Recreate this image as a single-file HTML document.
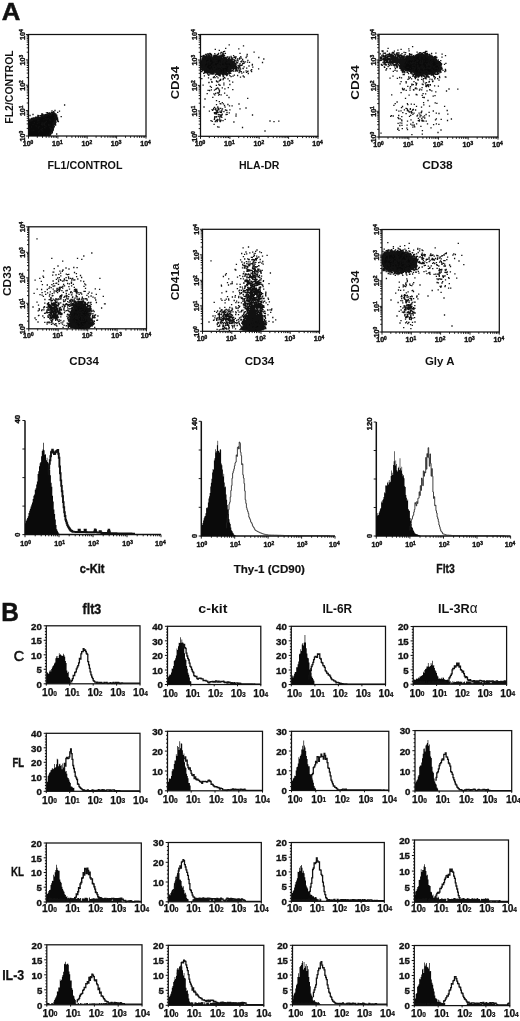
<!DOCTYPE html>
<html lang="en"><head><meta charset="utf-8"><title>Figure</title>
<style>html,body{margin:0;padding:0;background:#fff}svg{display:block;filter:grayscale(1) blur(.3px)}</style>
</head><body>
<svg width="520" height="1021" viewBox="0 0 520 1021" font-family="'Liberation Sans',sans-serif" fill="#111">
<rect width="520" height="1021" fill="#fff"/>
<text x="1.8" y="20.3" font-size="24.4" text-anchor="start" font-weight="bold" textLength="18.6" lengthAdjust="spacingAndGlyphs" stroke="#111" stroke-width=".5">A</text>
<text x="1.2" y="620.7" font-size="25" text-anchor="start" font-weight="bold" textLength="17.6" lengthAdjust="spacingAndGlyphs" stroke="#111" stroke-width=".5">B</text>
<clipPath id="cP1"><rect x="28.5" y="34.5" width="117.5" height="101.5"/></clipPath>
<clipPath id="cP2"><rect x="200.5" y="34.5" width="117.5" height="101.8"/></clipPath>
<clipPath id="cP3"><rect x="379" y="34.3" width="119" height="102.7"/></clipPath>
<clipPath id="cP4"><rect x="28.8" y="226.8" width="117.7" height="102"/></clipPath>
<clipPath id="cP5"><rect x="202.5" y="229.3" width="117" height="102"/></clipPath>
<clipPath id="cP6"><rect x="382" y="229.5" width="117.3" height="102.5"/></clipPath>
<rect x="28.5" y="34.5" width="117.5" height="101.5" fill="none" stroke="#111" stroke-width="1.25"/>
<path d="M28.5 136v2.6M37.3 136v1.8M42.5 136v1.8M46.2 136v1.8M49 136v1.8M51.4 136v1.8M53.3 136v1.8M55 136v1.8M56.5 136v1.8M57.9 136v2.6M66.7 136v1.8M71.9 136v1.8M75.6 136v1.8M78.4 136v1.8M80.7 136v1.8M82.7 136v1.8M84.4 136v1.8M85.9 136v1.8M87.2 136v2.6M96.1 136v1.8M101.3 136v1.8M104.9 136v1.8M107.8 136v1.8M110.1 136v1.8M112.1 136v1.8M113.8 136v1.8M115.3 136v1.8M116.6 136v2.6M125.5 136v1.8M130.6 136v1.8M134.3 136v1.8M137.2 136v1.8M139.5 136v1.8M141.4 136v1.8M143.2 136v1.8M144.7 136v1.8M146 136v2.6M28.5 136h-2.6M28.5 128.4h-1.8M28.5 123.9h-1.8M28.5 120.7h-1.8M28.5 118.3h-1.8M28.5 116.3h-1.8M28.5 114.6h-1.8M28.5 113.1h-1.8M28.5 111.8h-1.8M28.5 110.6h-2.6M28.5 103h-1.8M28.5 98.5h-1.8M28.5 95.3h-1.8M28.5 92.9h-1.8M28.5 90.9h-1.8M28.5 89.2h-1.8M28.5 87.7h-1.8M28.5 86.4h-1.8M28.5 85.2h-2.6M28.5 77.6h-1.8M28.5 73.1h-1.8M28.5 70h-1.8M28.5 67.5h-1.8M28.5 65.5h-1.8M28.5 63.8h-1.8M28.5 62.3h-1.8M28.5 61h-1.8M28.5 59.9h-2.6M28.5 52.2h-1.8M28.5 47.8h-1.8M28.5 44.6h-1.8M28.5 42.1h-1.8M28.5 40.1h-1.8M28.5 38.4h-1.8M28.5 37h-1.8M28.5 35.7h-1.8M28.5 34.5h-2.6" stroke="#111" stroke-width=".95" fill="none"/>
<text x="28" y="145.6" font-size="7.4" font-weight="bold" text-anchor="middle" stroke="#111" stroke-width=".4" textLength="10.6" lengthAdjust="spacingAndGlyphs">10<tspan font-size="5" dy="-2">0</tspan></text>
<text x="25.1" y="136.2" font-size="7.4" font-weight="bold" text-anchor="middle" stroke="#111" stroke-width=".4" textLength="10.6" lengthAdjust="spacingAndGlyphs" transform="rotate(-90 25.1 136.2)">10<tspan font-size="5" dy="-2">0</tspan></text>
<text x="57.4" y="145.6" font-size="7.4" font-weight="bold" text-anchor="middle" stroke="#111" stroke-width=".4" textLength="10.6" lengthAdjust="spacingAndGlyphs">10<tspan font-size="5" dy="-2">1</tspan></text>
<text x="25.1" y="110.8" font-size="7.4" font-weight="bold" text-anchor="middle" stroke="#111" stroke-width=".4" textLength="10.6" lengthAdjust="spacingAndGlyphs" transform="rotate(-90 25.1 110.8)">10<tspan font-size="5" dy="-2">1</tspan></text>
<text x="86.8" y="145.6" font-size="7.4" font-weight="bold" text-anchor="middle" stroke="#111" stroke-width=".4" textLength="10.6" lengthAdjust="spacingAndGlyphs">10<tspan font-size="5" dy="-2">2</tspan></text>
<text x="25.1" y="85.5" font-size="7.4" font-weight="bold" text-anchor="middle" stroke="#111" stroke-width=".4" textLength="10.6" lengthAdjust="spacingAndGlyphs" transform="rotate(-90 25.1 85.5)">10<tspan font-size="5" dy="-2">2</tspan></text>
<text x="116.1" y="145.6" font-size="7.4" font-weight="bold" text-anchor="middle" stroke="#111" stroke-width=".4" textLength="10.6" lengthAdjust="spacingAndGlyphs">10<tspan font-size="5" dy="-2">3</tspan></text>
<text x="25.1" y="60.1" font-size="7.4" font-weight="bold" text-anchor="middle" stroke="#111" stroke-width=".4" textLength="10.6" lengthAdjust="spacingAndGlyphs" transform="rotate(-90 25.1 60.1)">10<tspan font-size="5" dy="-2">3</tspan></text>
<text x="145.5" y="145.6" font-size="7.4" font-weight="bold" text-anchor="middle" stroke="#111" stroke-width=".4" textLength="10.6" lengthAdjust="spacingAndGlyphs">10<tspan font-size="5" dy="-2">4</tspan></text>
<text x="25.1" y="34.7" font-size="7.4" font-weight="bold" text-anchor="middle" stroke="#111" stroke-width=".4" textLength="10.6" lengthAdjust="spacingAndGlyphs" transform="rotate(-90 25.1 34.7)">10<tspan font-size="5" dy="-2">4</tspan></text>
<path d="M28.5 120.6L31.4 119.4L34 118.6L37.7 117.2L42.1 116.3L45.6 114.6L49.6 113.9L53.7 112.5L55.9 115L56 118.1L54.9 121.5L54.2 125.6L52.7 129.7L51.3 133.5L50.4 136.3L28.5 136.1Z" fill="#0a0a0a" clip-path="url(#cP1)"/>
<path d="M56 116.6h.01M36.4 118.1h.01M57 119h.01M29.3 120.2h.01M51.1 133.6h.01M52.7 113.2h.01M53.3 122.5h.01M43.2 116h.01M53.7 111.7h.01M52 130.4h.01M57 117.5h.01M38.4 117.9h.01M30.4 120.2h.01M34.6 119.6h.01M29.6 120.5h.01M43.4 116.9h.01M49.5 113h.01M50.8 132.5h.01M37.6 117.1h.01M52.8 129.7h.01M57.4 118.9h.01M41.5 115.3h.01M35.5 117.9h.01M31.2 120h.01M43 116.8h.01M54.1 123.2h.01M45 114.9h.01M53.3 128.5h.01M35.7 117.2h.01M33 118.1h.01M45.5 114.6h.01M30 119h.01M52.5 131.2h.01M38 117.6h.01M54.5 122h.01M29.5 120.3h.01M38.5 115.6h.01M55.6 118.1h.01M51.7 112.5h.01M54.6 116.2h.01M52.4 113.4h.01M55.2 122.9h.01M33.9 118.6h.01M44.3 114.9h.01M49.8 134.4h.01M33 119.6h.01M29.9 120.1h.01M56.1 115.9h.01M38.9 116h.01M52.5 129.1h.01M31.8 120h.01M47.6 112.6h.01M36.1 117.5h.01M39.3 135h.01M51.4 131h.01M54.3 122.9h.01M40.4 115.7h.01M55.5 119.3h.01M30.2 120.6h.01M36.5 118.2h.01M45.5 115.5h.01M35.8 117.9h.01M48.3 113.4h.01M56.8 119.9h.01M51.5 114.3h.01M56.2 117.7h.01M32.3 120.2h.01M52.4 131.7h.01M37.5 118h.01M55.3 114.3h.01M32.2 120.5h.01M54.9 120.1h.01M38.5 116h.01M55.4 115.7h.01M48.4 113.5h.01M52.4 112.3h.01M42.9 114.4h.01M46.1 116h.01M52.9 113.2h.01M54.7 113.3h.01M41.8 114.9h.01M37.9 115.4h.01M52.7 126h.01M52.7 112.8h.01M49.9 113.8h.01M31.6 119h.01M38.2 117.1h.01M50.4 134.9h.01M34 119.5h.01M53.8 127.7h.01M30.7 121h.01M52.3 132.9h.01M54.3 126.5h.01M47.4 115h.01M53.1 128h.01M45.4 115.3h.01M32.8 119.4h.01M33.1 118.8h.01M54.3 122.7h.01M36.6 118.1h.01M41.2 116.5h.01M40.9 117.3h.01M33.3 118.7h.01M56.7 115.2h.01M48.1 135.2h.01M33.2 118.8h.01M48 113.7h.01M55.3 120.5h.01M55.2 120.2h.01M54.4 113.4h.01M52.3 130.7h.01M55.5 121.3h.01M41.7 115.5h.01M55.9 114.7h.01M41.4 116.5h.01M50.3 128.3h.01M55.2 121h.01M54.6 120.2h.01M55.7 115.7h.01M52.2 112.5h.01M54.5 113.3h.01M33.7 118.9h.01M31.1 120.4h.01M37.2 117.3h.01M54.4 114.7h.01M50.6 113.5h.01M35.6 118h.01M51.4 112.5h.01M42 113.7h.01M54.8 121.2h.01M47.1 114.6h.01M55.7 122.3h.01M35.2 117.7h.01M55.1 123.2h.01M55.6 123.8h.01M56.1 115.7h.01M56 122.1h.01M54 112.6h.01M52.3 130.7h.01M51.5 128.5h.01M46.4 112.8h.01M55.1 121.1h.01M49 114h.01M49.9 133.2h.01M35.2 118.5h.01M54.5 121.5h.01M53.8 125.1h.01M53.4 124.3h.01M37.3 117.2h.01M53.4 127.7h.01M30.1 120h.01M43.6 116.8h.01M46.1 115h.01M56.6 118.3h.01M40 118.4h.01M34.3 118.9h.01M32.5 119.8h.01M54.1 114.2h.01M56.2 119.9h.01M54.3 117.6h.01M35.8 118.2h.01M44.2 115.6h.01M57.6 118.1h.01M31.8 119h.01M54.9 114h.01M49.8 115.4h.01M45 115.2h.01M31.8 119.2h.01M45.5 115.2h.01M41.5 116.1h.01M56.1 118.7h.01M36.7 117.6h.01M54.8 119.8h.01M41.8 116.7h.01M41.4 116.7h.01M31.7 118.5h.01M42.4 116.5h.01M54.9 120.3h.01M35.4 119.5h.01M54.5 123.7h.01M54.3 123.6h.01M37.9 116.7h.01M51.8 112.4h.01M36.7 118.9h.01M44.4 115.4h.01M50.6 134.2h.01M54.5 124.3h.01M29.5 120.9h.01M54.7 120.6h.01M54.8 120.7h.01M44.7 117.1h.01M53.1 113.3h.01M33.7 118.5h.01M55.3 122.5h.01M54.7 114.5h.01M55.8 113.8h.01M55.6 125h.01M54.3 121.5h.01M53.3 130h.01M34.5 118.8h.01M42.6 114.6h.01M51 131h.01M46 114.6h.01M51.9 130.6h.01M42.4 115.5h.01M33.5 118h.01M52.9 124.4h.01M54 126.2h.01M49.6 134.8h.01M55.4 120.7h.01M46.6 134.8h.01M56.8 119.7h.01M51.6 129.9h.01M54.8 114.3h.01M34.5 118.1h.01M53.9 122.5h.01M52.3 129.7h.01M56.5 117.8h.01M45.3 122.5h.01M48.2 118.3h.01M48.7 125.3h.01M50.7 115.5h.01M53.1 123.4h.01M37.5 120.9h.01M36.3 126.2h.01M61.2 116.7h.01M37.3 123.4h.01M47.6 113.1h.01M41.9 130.4h.01M46.4 121.5h.01M54.5 120.2h.01M38.3 127.9h.01M44.1 123.1h.01M39 122.8h.01M39 120.8h.01M41.1 129.4h.01M43.9 119.6h.01M49.9 127.3h.01M58 120.1h.01M45.1 127.8h.01M51 128.5h.01M39.1 126.7h.01M44.4 124h.01M42.7 125h.01M33 124.7h.01M33.7 130.4h.01M56.7 134h.01M44.5 127.7h.01M41.5 124.5h.01M42.5 122.8h.01M49.7 119.6h.01M50.2 120.3h.01M58.4 121.6h.01M44.8 125.4h.01M42.4 115.1h.01M39.3 131.1h.01M48.5 124.7h.01M45.7 118.6h.01M54.6 121.6h.01M31.5 126.9h.01M42 123.2h.01M32 130.8h.01M36 125.9h.01M37.6 119.2h.01M42.8 131.2h.01M47.1 119.1h.01M42.4 128.6h.01M44.4 124.6h.01M38.5 132.1h.01M29.8 123.1h.01M29.5 128.4h.01M43 124.3h.01M46.1 126.4h.01M34.4 122.6h.01M38.6 119.8h.01M50.1 125.1h.01M35.2 118.9h.01M39.1 118h.01M57.7 112.3h.01M59.5 111.2h.01M64.6 105h.01M56.8 116.5h.01M57.5 121h.01M30 115.5h.01M33 114.5h.01M52 110.8h.01M55 110.5h.01" stroke="#111" stroke-width="1.3" stroke-linecap="square" fill="none"/>
<text x="85" y="168.6" font-size="11.2" text-anchor="middle" font-weight="bold" textLength="75" lengthAdjust="spacingAndGlyphs">FL1/CONTROL</text>
<text x="13.2" y="87" font-size="11.2" text-anchor="middle" font-weight="bold" textLength="73.5" lengthAdjust="spacingAndGlyphs" transform="rotate(-90 13.2 87)">FL2/CONTROL</text>
<rect x="200.5" y="34.5" width="117.5" height="101.8" fill="none" stroke="#111" stroke-width="1.25"/>
<path d="M200.5 136.3v2.6M209.3 136.3v1.8M214.5 136.3v1.8M218.2 136.3v1.8M221 136.3v1.8M223.4 136.3v1.8M225.3 136.3v1.8M227 136.3v1.8M228.5 136.3v1.8M229.9 136.3v2.6M238.7 136.3v1.8M243.9 136.3v1.8M247.6 136.3v1.8M250.4 136.3v1.8M252.7 136.3v1.8M254.7 136.3v1.8M256.4 136.3v1.8M257.9 136.3v1.8M259.2 136.3v2.6M268.1 136.3v1.8M273.3 136.3v1.8M276.9 136.3v1.8M279.8 136.3v1.8M282.1 136.3v1.8M284.1 136.3v1.8M285.8 136.3v1.8M287.3 136.3v1.8M288.6 136.3v2.6M297.5 136.3v1.8M302.6 136.3v1.8M306.3 136.3v1.8M309.2 136.3v1.8M311.5 136.3v1.8M313.4 136.3v1.8M315.2 136.3v1.8M316.7 136.3v1.8M318 136.3v2.6M200.5 136.3h-2.6M200.5 128.6h-1.8M200.5 124.2h-1.8M200.5 121h-1.8M200.5 118.5h-1.8M200.5 116.5h-1.8M200.5 114.8h-1.8M200.5 113.3h-1.8M200.5 112h-1.8M200.5 110.9h-2.6M200.5 103.2h-1.8M200.5 98.7h-1.8M200.5 95.5h-1.8M200.5 93.1h-1.8M200.5 91h-1.8M200.5 89.3h-1.8M200.5 87.9h-1.8M200.5 86.6h-1.8M200.5 85.4h-2.6M200.5 77.7h-1.8M200.5 73.3h-1.8M200.5 70.1h-1.8M200.5 67.6h-1.8M200.5 65.6h-1.8M200.5 63.9h-1.8M200.5 62.4h-1.8M200.5 61.1h-1.8M200.5 60h-2.6M200.5 52.3h-1.8M200.5 47.8h-1.8M200.5 44.6h-1.8M200.5 42.2h-1.8M200.5 40.1h-1.8M200.5 38.4h-1.8M200.5 37h-1.8M200.5 35.7h-1.8M200.5 34.5h-2.6" stroke="#111" stroke-width=".95" fill="none"/>
<text x="200" y="145.9" font-size="7.4" font-weight="bold" text-anchor="middle" stroke="#111" stroke-width=".4" textLength="10.6" lengthAdjust="spacingAndGlyphs">10<tspan font-size="5" dy="-2">0</tspan></text>
<text x="197.1" y="136.5" font-size="7.4" font-weight="bold" text-anchor="middle" stroke="#111" stroke-width=".4" textLength="10.6" lengthAdjust="spacingAndGlyphs" transform="rotate(-90 197.1 136.5)">10<tspan font-size="5" dy="-2">0</tspan></text>
<text x="229.4" y="145.9" font-size="7.4" font-weight="bold" text-anchor="middle" stroke="#111" stroke-width=".4" textLength="10.6" lengthAdjust="spacingAndGlyphs">10<tspan font-size="5" dy="-2">1</tspan></text>
<text x="197.1" y="111.1" font-size="7.4" font-weight="bold" text-anchor="middle" stroke="#111" stroke-width=".4" textLength="10.6" lengthAdjust="spacingAndGlyphs" transform="rotate(-90 197.1 111.1)">10<tspan font-size="5" dy="-2">1</tspan></text>
<text x="258.8" y="145.9" font-size="7.4" font-weight="bold" text-anchor="middle" stroke="#111" stroke-width=".4" textLength="10.6" lengthAdjust="spacingAndGlyphs">10<tspan font-size="5" dy="-2">2</tspan></text>
<text x="197.1" y="85.6" font-size="7.4" font-weight="bold" text-anchor="middle" stroke="#111" stroke-width=".4" textLength="10.6" lengthAdjust="spacingAndGlyphs" transform="rotate(-90 197.1 85.6)">10<tspan font-size="5" dy="-2">2</tspan></text>
<text x="288.1" y="145.9" font-size="7.4" font-weight="bold" text-anchor="middle" stroke="#111" stroke-width=".4" textLength="10.6" lengthAdjust="spacingAndGlyphs">10<tspan font-size="5" dy="-2">3</tspan></text>
<text x="197.1" y="60.2" font-size="7.4" font-weight="bold" text-anchor="middle" stroke="#111" stroke-width=".4" textLength="10.6" lengthAdjust="spacingAndGlyphs" transform="rotate(-90 197.1 60.2)">10<tspan font-size="5" dy="-2">3</tspan></text>
<text x="317.5" y="145.9" font-size="7.4" font-weight="bold" text-anchor="middle" stroke="#111" stroke-width=".4" textLength="10.6" lengthAdjust="spacingAndGlyphs">10<tspan font-size="5" dy="-2">4</tspan></text>
<text x="197.1" y="34.7" font-size="7.4" font-weight="bold" text-anchor="middle" stroke="#111" stroke-width=".4" textLength="10.6" lengthAdjust="spacingAndGlyphs" transform="rotate(-90 197.1 34.7)">10<tspan font-size="5" dy="-2">4</tspan></text>
<path d="M234.3 66.4L234.8 67.8L234.2 69L231.3 69.5L229.7 70.1L229.5 71.5L227.6 72.1L226.9 73.7L224.4 73.9L222 74L219.6 73.9L217.2 74L215.2 72.6L212.7 72.8L211.1 71.6L207.5 72.2L208 70L204 70L205.3 68.1L202 67.4L202.7 66L202 64.8L200.1 63.4L203.9 62.7L204.2 61.6L201.8 59.6L204.6 59.1L207.3 59L206.5 56.6L208.8 56L212.5 57.4L214.2 56.5L216.6 57.1L218.7 56.8L221.2 56.4L222.9 57.8L225.9 57.3L226.4 59.2L228.4 59.9L232 60L231.9 61.6L232.9 62.8L234.4 63.9L234.3 65.2Z" fill="#0a0a0a" clip-path="url(#cP2)"/>
<path d="M215.8 64.4L215.7 66.7L214.5 68.5L212.9 69.8L211.9 71.8L210.1 73L208 71.6L206 72.7L204.3 71.3L203.2 69.6L201.8 68.3L201.7 66.2L199.8 64.4L200.6 62.2L201.6 60.4L202.1 58L203.9 56.6L206.1 56.7L208 57.3L210 56.3L211.4 57.9L213.5 58.4L213.7 60.8L215.9 62.1Z" fill="#0a0a0a" clip-path="url(#cP2)"/>
<path d="M202.6 60.1h.01M212.2 71.7h.01M203.3 62.5h.01M206 71.1h.01M215.1 58.7h.01M232.9 70.6h.01M202 59.8h.01M210.4 71.4h.01M203 67.8h.01M217.8 57.9h.01M214.3 56h.01M217.7 73.7h.01M208.8 72.2h.01M202.1 63.1h.01M212.4 70.3h.01M219.3 55.8h.01M233.7 64.3h.01M218.7 56.6h.01M234.9 65.9h.01M204.4 68h.01M215.8 57.6h.01M203.7 67.8h.01M235.8 67h.01M207.1 71.8h.01M229.1 56.9h.01M230.6 67.7h.01M213 73.7h.01M204.9 60.7h.01M236.6 67h.01M223.6 55.6h.01M233.8 65.4h.01M221.5 55.7h.01M228.8 72.5h.01M220.2 72.8h.01M214 70.4h.01M204.4 64.2h.01M214 55.5h.01M208.7 70.8h.01M205.1 60.7h.01M205.9 67.2h.01M207.8 70.8h.01M208.9 69.7h.01M218.6 53.5h.01M223.8 59.6h.01M233.4 68.2h.01M226.1 74.6h.01M203.2 67h.01M230.8 61.2h.01M234.6 63.4h.01M230.7 63h.01M213.2 58.1h.01M218 73.5h.01M207 69.8h.01M205.7 61.6h.01M203.2 68.8h.01M236.8 69.1h.01M214.6 71.6h.01M213 71.2h.01M236 69.7h.01M221.6 56.7h.01M220.6 73.9h.01M211.5 54.3h.01M218.9 56.5h.01M222.1 72.4h.01M231.1 65.2h.01M204.5 61.3h.01M228.8 70.7h.01M236.7 68.1h.01M229.4 57.8h.01M232.5 67.3h.01M232.1 60.5h.01M223 56.3h.01M237.5 62.3h.01M233.6 67.2h.01M215.5 56.6h.01M209.6 72.2h.01M203.2 60.3h.01M216.4 55.5h.01M232.1 61.9h.01M232.9 59.3h.01M208.2 57.5h.01M226.2 71.5h.01M202.7 61.1h.01M201.4 62.9h.01M232.3 61.8h.01M204.5 61.5h.01M217.1 56.1h.01M219 59.1h.01M228.9 73.1h.01M204.8 67.3h.01M203.7 67.5h.01M213.5 57.3h.01M211.9 57.3h.01M212.5 72.3h.01M217.4 54.4h.01M231.7 67.1h.01M213.4 56.1h.01M222.7 74.7h.01M219.4 72.3h.01M215.2 55.1h.01M218.8 75h.01M203.1 69.7h.01M215.5 75h.01M226.9 75h.01M206.1 55.9h.01M225.5 57.8h.01M232.4 70.6h.01M230.8 70.8h.01M227.4 57h.01M204 58.3h.01M222.4 72.4h.01M231.5 61.5h.01M205 66.9h.01M235.6 64.6h.01M203 63.5h.01M234.1 68.6h.01M223.3 73.6h.01M217.1 72.5h.01M208.8 72.2h.01M210.2 54.7h.01M204.5 72.1h.01M210.1 57.6h.01M202.7 64h.01M206.6 59.3h.01M220.1 56.4h.01M230.7 64.2h.01M229.9 71.7h.01M214.1 73.5h.01M229.8 61.3h.01M234.3 66h.01M207.6 72.5h.01M201.4 65.3h.01M209.8 70.3h.01M217.7 56.3h.01M233.1 66h.01M225.7 59.3h.01M221.2 73.2h.01M203.7 73.4h.01M235.9 66.8h.01M215.7 71.2h.01M216.9 74.4h.01M216.5 72.6h.01M233.4 67.6h.01M226.7 75.5h.01M231.1 59.7h.01M218.8 56.4h.01M220.1 59.1h.01M205.7 71h.01M222 56.4h.01M229.6 68.8h.01M232.9 61.5h.01M230.9 70h.01M221.2 57.4h.01M207.4 53.8h.01M228.7 71.3h.01M218.6 74.2h.01M235.3 67.1h.01M203.8 61.8h.01M232.2 65.5h.01M223.5 75h.01M205.4 60.3h.01M227.2 74.2h.01M203.7 70.1h.01M227.6 73.8h.01M217.7 54.7h.01M204.4 57.9h.01M230.3 69.8h.01M209.4 56.3h.01M206.6 58.4h.01M231.8 70.9h.01M223.7 56.9h.01M222 74.2h.01M201.6 63.5h.01M224.7 70.3h.01M231.8 60.4h.01M228.1 70.3h.01M220.2 75.8h.01M205.7 62.1h.01M229.4 71.2h.01M211.3 55.7h.01M201.5 64.9h.01M208.5 56h.01M231 67.3h.01M235.5 68.9h.01M206.6 59.6h.01M214.8 53.7h.01M229.7 68.7h.01M225.5 59.2h.01M205.6 57.2h.01M233.5 61.9h.01M204 64.2h.01M204.6 68.5h.01M220.2 73.7h.01M216.5 55.9h.01M206.9 70.4h.01M218.7 72.8h.01M223.2 54.9h.01M217.7 73.7h.01M207.8 72.5h.01M224.5 60.5h.01M206.8 57.3h.01M231.9 62.3h.01M218.3 57.6h.01M232 68.3h.01M209.3 56.5h.01M203.6 62.2h.01M205 70.5h.01M203.3 65.3h.01M218.1 54.3h.01M212.2 71.6h.01M229.4 73.8h.01M201.6 60.8h.01M224.2 57.2h.01M211.1 70.4h.01M234.3 66.4h.01M206.2 71.5h.01M226.7 73.4h.01M218.4 57.7h.01M236.9 68.3h.01M207.9 55.9h.01M231 57.9h.01M215.1 55.4h.01M229.2 59.2h.01M210.5 53.6h.01M208.2 70.8h.01M234.6 67h.01M202.2 57.2h.01M221.9 73.5h.01M213.6 71h.01M228 73h.01M225.5 72.7h.01M234.1 62.8h.01M206.1 56.2h.01M231.1 61.1h.01M210.3 56.9h.01M219.2 55.8h.01M234.6 60.7h.01M229.7 59.5h.01M213.2 58.7h.01M232.7 59h.01M203.4 67.8h.01M201.9 58.8h.01M210.2 55.2h.01M216 73.5h.01M223.3 58.5h.01M205.4 63.4h.01M222 72.9h.01M206.9 58.4h.01M204.7 57.4h.01M210.6 72.6h.01M206.9 54.9h.01M226.7 58.2h.01M219.6 75h.01M232.6 70.5h.01M205 59.3h.01M206.4 72.5h.01M229 61.3h.01M224.9 57.9h.01M212.6 73.5h.01M231.9 65.3h.01M233.1 67.7h.01M224.5 55.4h.01M235.2 65.8h.01M202.9 62h.01M220.8 57.4h.01M201.7 63.6h.01M231.4 59.3h.01M208 69.8h.01M222.8 56.1h.01M209.6 57.3h.01M202.7 60.8h.01M217.7 56.8h.01M223.5 58.8h.01M227.8 74h.01M222.7 59.3h.01M233.5 69.3h.01M228.2 59.3h.01M216.8 55.4h.01M234.3 62h.01M204.2 56.8h.01M233 65.8h.01M204.9 67.8h.01M233.9 65.9h.01M229.9 68.2h.01M232.8 63.9h.01M226 58.8h.01M235.7 64.9h.01M229.6 70.7h.01M223.8 56.5h.01M229.6 69.9h.01M219.4 72.8h.01M202.5 60.3h.01M217.3 73.1h.01M205 62.6h.01M232.9 61.9h.01M208.1 57.9h.01M230.4 71.6h.01M213.8 71.1h.01M235.9 63.5h.01M234.5 66h.01M230 69.6h.01M235.4 66h.01M214.9 55.8h.01M218.2 57.8h.01M207.1 69.5h.01M231.8 63.7h.01M201.3 66.2h.01M225 59.7h.01M208.9 55.4h.01M225.9 57.5h.01M229.1 62.5h.01M202.9 66.9h.01M202.1 67.2h.01M228.2 71h.01M201.5 63.2h.01M204.3 67h.01M214 72.3h.01M225.4 73.1h.01M213 71.4h.01M216.9 57.4h.01M224.9 74.5h.01M229.5 70.7h.01M202.9 59.6h.01M215.7 56.6h.01M229.9 75.7h.01M222.5 55h.01M215.8 57.9h.01M229.5 71.7h.01M218 74.6h.01M213.8 71.6h.01M203.7 62.1h.01M215.1 56.1h.01M208.4 72.7h.01M202.7 60.6h.01M222.6 58.2h.01M231.7 71h.01M203.7 62.9h.01M201.8 63.3h.01M222.7 56.3h.01M204.3 69.2h.01M232.9 63.8h.01M220.2 75.1h.01M230.7 60.1h.01M220.6 56.4h.01M220 57.7h.01M202.6 60.1h.01M201.6 63.7h.01M201.9 66.6h.01M206.5 58.9h.01M216.8 57.8h.01M218.7 71.6h.01M210 74.1h.01M220.4 56h.01M232.7 62.4h.01M223.2 56.1h.01M215.2 56.3h.01M228.8 71.7h.01M224.3 57.2h.01M203 65.4h.01M233.5 63.8h.01M203.4 61.7h.01M230.6 69h.01M231.8 60.2h.01M233.1 66.3h.01M204.4 63h.01M204.5 69.4h.01M227.5 73.9h.01M232.7 68.3h.01M226 58.1h.01M203.7 62.2h.01M210.4 72.2h.01M204.3 60.2h.01M207.8 72.6h.01M202.4 67.4h.01M207.1 59.1h.01M235.2 63.5h.01M205.3 58.9h.01M229.7 69.4h.01M224.7 57.5h.01M218.2 57.2h.01M202.9 59h.01M214.7 56.4h.01M235.7 64.1h.01M229.8 71.2h.01M206.6 68h.01M232.3 59.1h.01M209.8 73.8h.01M223.9 57.8h.01M214.6 70.1h.01M223.9 58.9h.01M223 75.8h.01M212.9 71.6h.01M215.7 72h.01M230 61.4h.01M215.8 57.3h.01M213.8 72.3h.01M232.5 59.6h.01M205.6 68.2h.01M203.7 60.3h.01M228.6 70.2h.01M206.7 56.4h.01M209.9 71.1h.01M202.4 66.3h.01M206.2 70.2h.01M213.4 68.6h.01M214.6 58.4h.01M213.6 70.3h.01M202.3 57h.01M213.3 69.7h.01M211.7 71.7h.01M202.9 57.2h.01M203.1 55.7h.01M210.3 73.2h.01M201.4 69.3h.01M210.6 55.1h.01M213.1 71.1h.01M203.4 64.8h.01M202.7 56.9h.01M205.1 56.7h.01M214.5 68.7h.01M202.4 60.7h.01M211.3 56.8h.01M216.3 60.6h.01M203.9 56.9h.01M211.1 70.8h.01M213.1 70.9h.01M201.3 69.1h.01M204.8 72.8h.01M212.6 59.4h.01M211.6 57.9h.01M209.9 53.4h.01M204.9 70.1h.01M205.2 72.3h.01M202.9 59.8h.01M215.9 56.5h.01M215.6 68.2h.01M204.5 67.9h.01M210.4 56.8h.01M217.5 65.7h.01M202 67.2h.01M205.1 70.9h.01M201.3 56.3h.01M212.5 70.9h.01M214.2 60.3h.01M215.2 69.5h.01M207.5 71.8h.01M207.2 73h.01M215.3 68.5h.01M213.6 71.1h.01M214.3 59h.01M215.4 62.5h.01M205.3 69h.01M206.4 72.4h.01M213.6 57.5h.01M215.7 66.2h.01M203.8 57.8h.01M214.7 69h.01M211.7 59.1h.01M214.3 66.4h.01M202.2 69.4h.01M206.4 70.4h.01M204 69.3h.01M213.2 57.9h.01M208.9 58.3h.01M215.1 66.5h.01M211.9 71.6h.01M211.6 58.3h.01M217.3 62.2h.01M202.5 59.8h.01M204.8 72.7h.01M203.3 57.7h.01M201.5 67.5h.01M215.1 61.2h.01M205.4 57.1h.01M208 72.7h.01M201.4 71.5h.01M215 59.8h.01M204 55.6h.01M205.7 54.5h.01M213.8 56.8h.01M210.1 72.1h.01M208.8 55.4h.01M215.6 61.6h.01M209.5 57.3h.01M211.5 72.8h.01M204.2 55.5h.01M201.5 67.4h.01M209.6 57.3h.01M213.3 70.2h.01M203.3 70.1h.01M213.9 69.5h.01M201.8 63.1h.01M202.8 69h.01M204.7 71h.01M204.1 57.9h.01M211.7 57.3h.01M212.2 71.5h.01M213 68.4h.01M202.7 68.4h.01M216.5 67.4h.01M208.8 72.1h.01M208.9 59.5h.01M208.7 57.5h.01M204.5 69.8h.01M204.8 69.7h.01M215.5 66.9h.01M210.6 71.5h.01M216 62.2h.01M202.7 70.7h.01M209.5 60.7h.01M226 65.7h.01M223.9 63.1h.01M218.1 70h.01M243.2 76h.01M221.3 59.8h.01M222.4 67.1h.01M204.4 75.9h.01M204.2 65.6h.01M218.6 73.7h.01M222.7 60.4h.01M219.8 67.7h.01M239.8 71.5h.01M216.9 57.7h.01M229.8 67.1h.01M224.2 62.4h.01M219.7 74.7h.01M213.4 77.5h.01M224.6 51.3h.01M237 62.8h.01M220.5 57.9h.01M222.2 69.1h.01M240 70.6h.01M225.4 53.4h.01M236.2 61.9h.01M223.1 65.9h.01M228 69.8h.01M214.5 63.7h.01M234.4 75.2h.01M228.3 87.7h.01M220.6 72.4h.01M210.8 62.6h.01M207.7 61.7h.01M207.9 68.6h.01M223.9 83.2h.01M227.2 75h.01M244.1 62.9h.01M208.5 54.1h.01M217.5 60h.01M203.8 64.6h.01M221.4 61h.01M228.3 62.6h.01M228.1 65h.01M228.4 68.4h.01M204.2 66.1h.01M202.3 59.4h.01M223.6 58.2h.01M219.3 50.4h.01M252.8 67.2h.01M219.8 85.2h.01M212 71h.01M229.9 61.4h.01M208.8 75.3h.01M230.3 61.9h.01M225 61.8h.01M224 62.5h.01M211.8 56h.01M220.4 67.7h.01M242.7 63.5h.01M213.9 64.6h.01M248.3 73.5h.01M216 66h.01M221.3 61.9h.01M225 78.2h.01M237.6 75.5h.01M228 78.8h.01M233.1 66.4h.01M238.8 48.9h.01M219.4 66h.01M216.1 70.8h.01M217.8 64.4h.01M214.2 66.2h.01M214.4 69.7h.01M233 76.1h.01M225.7 48.3h.01M214.3 76.6h.01M219.5 63.4h.01M213.2 63.6h.01M215.8 65.8h.01M209.8 67.1h.01M229.9 72.6h.01M219 63.2h.01M219.9 58.8h.01M219.7 74.2h.01M217.4 58.4h.01M209.7 64h.01M224.4 77.3h.01M222.5 71.5h.01M223.1 67.7h.01M234.1 64.6h.01M225 59.9h.01M241.8 65.4h.01M205.1 60.7h.01M218.1 72.2h.01M208.1 74.7h.01M228.1 63.1h.01M202.4 70.5h.01M207 62.8h.01M211.7 65.3h.01M227.8 65.9h.01M222.8 65.7h.01M220.7 53.1h.01M213.3 67h.01M203.5 66.6h.01M225 59.6h.01M232.7 82.2h.01M213.1 61.2h.01M238.2 60.8h.01M232.4 64.5h.01M231.1 76.6h.01M220.4 63.3h.01M221.3 68.6h.01M207.9 62.9h.01M232.4 65.7h.01M244.2 77h.01M235.4 58.5h.01M246.1 57.5h.01M241.9 73.2h.01M218.8 66.6h.01M243.5 45.8h.01M213.6 61h.01M229.7 67.7h.01M223.7 66.6h.01M209.7 71h.01M209.7 62.1h.01M211.5 57.1h.01M235.5 71h.01M225.9 67.4h.01M218.7 64.7h.01M223.7 53.8h.01M216.6 72h.01M225.7 72.2h.01M208.7 53.8h.01M223.8 61.4h.01M239.1 72.7h.01M216 59.1h.01M236.4 70.1h.01M230.4 63.3h.01M223.2 61.8h.01M208 64.2h.01M217.3 71.1h.01M232.1 58.6h.01M218.6 56.3h.01M218.2 67.6h.01M231.7 68.7h.01M221.8 65.8h.01M222.8 53h.01M222.7 62h.01M251.7 69.7h.01M219.4 69.3h.01M219.5 62h.01M213.5 60.3h.01M227.1 62.7h.01M243.9 63.4h.01M205 65.1h.01M225.1 65.7h.01M228.5 58.5h.01M211.5 73.5h.01M201.8 71.6h.01M206.9 55.1h.01M231.1 56.3h.01M219 64.2h.01M204.8 65h.01M222.8 53.6h.01M209.5 60.2h.01M208.5 77.9h.01M237.8 71h.01M233.6 55.7h.01M211.4 69h.01M225.6 65.9h.01M222 60h.01M222 56.7h.01M221.3 52.5h.01M220.7 66.9h.01M221.9 62.9h.01M227.4 59.4h.01M218.9 59.2h.01M214.8 65.5h.01M221.3 63h.01M217.5 71.1h.01M201.5 63.1h.01M226 65.3h.01M243.5 61.3h.01M230.1 62.8h.01M217.8 64.8h.01M240.5 77.1h.01M219.3 58h.01M215.4 58.3h.01M210 63.3h.01M214.2 72.2h.01M221 72.5h.01M223.4 78.6h.01M235.2 60.6h.01M230.4 61.9h.01M242.1 64.8h.01M217.7 71.4h.01M213.5 60.5h.01M230.8 65.2h.01M206.9 68.6h.01M228.8 67.7h.01M211.3 70.8h.01M233.1 59.7h.01M217.7 66.7h.01M214.4 66.1h.01M224.9 69.7h.01M204.7 57h.01M216.4 62.7h.01M212.8 66.3h.01M227.8 65.9h.01M218.3 64.9h.01M207.9 74.2h.01M201.9 68.3h.01M221.3 56.6h.01M223.5 51.7h.01M216.7 57.1h.01M228.3 66.2h.01M251 70.5h.01M249.5 62.4h.01M221 54.9h.01M222.4 71.2h.01M210.3 66.6h.01M216.1 73.5h.01M224.5 67.6h.01M216.9 62.4h.01M219.5 69.3h.01M216.8 76.7h.01M219.5 56.7h.01M217.4 66.2h.01M222.9 66.1h.01M224.2 67.1h.01M218 65.2h.01M229.2 66h.01M224.8 64.1h.01M217.1 68.9h.01M240 63.7h.01M212.8 74h.01M221.9 66.3h.01M207.5 65.2h.01M233 67.4h.01M219.9 69.7h.01M211.1 56.7h.01M235.3 68.5h.01M206 67.1h.01M209.6 72.4h.01M247.6 71.7h.01M209.5 56.7h.01M220.6 63.5h.01M221.5 61.3h.01M227.6 60.7h.01M230.5 62.6h.01M213.6 73.8h.01M220.3 80.2h.01M218.7 65.3h.01M224.4 67h.01M217.9 57.1h.01M220.1 75.7h.01M219.4 75.7h.01M210.5 70h.01M220 66.6h.01M241.2 58.1h.01M221.4 66.5h.01M218.3 70.3h.01M230.8 71.3h.01M239.6 59.2h.01M225.6 61.2h.01M221.8 56.6h.01M235.9 69.8h.01M233.4 68.5h.01M223.2 74h.01M204.3 63.8h.01M214.8 55.9h.01M218.4 65.9h.01M201.5 65.1h.01M214 62.5h.01M201.8 62.2h.01M228.5 67.8h.01M217.2 70.7h.01M228 69.1h.01M221.3 65.1h.01M217.6 64.7h.01M215.9 70.5h.01M215.3 49.3h.01M212.3 59.9h.01M225.6 71.4h.01M224.2 64.9h.01M224.7 58h.01M209.2 60.3h.01M252.4 64.3h.01M229.6 60.1h.01M228 61.5h.01M201.8 78.7h.01M226.4 59.8h.01M218 77.9h.01M209.9 72.4h.01M216.9 70.7h.01M219.6 65.5h.01M213 71.4h.01M229.5 69.2h.01M208.9 61.5h.01M239.3 66h.01M243 68.3h.01M240.8 56.6h.01M231.9 57.6h.01M239.9 64.9h.01M240.6 69.1h.01M240 68h.01M224.4 73.1h.01M235.8 57h.01M237.7 62.9h.01M232.9 62h.01M240.6 65.7h.01M237 60.4h.01M221.4 64.1h.01M235.1 65.3h.01M241.3 71.7h.01M234.3 61.2h.01M252.3 65h.01M243.2 68.6h.01M241.4 61.9h.01M239.7 58h.01M246.5 72.4h.01M237.8 58.9h.01M230.7 73.4h.01M243.6 72.2h.01M236.9 70.8h.01M231.1 66.6h.01M258.6 68.8h.01M240.9 61.6h.01M231.9 71.1h.01M247.2 54.3h.01M236.3 66.3h.01M242.6 59.7h.01M246.7 68.1h.01M237 70.2h.01M254.1 52.2h.01M236.1 64.9h.01M235.9 67.4h.01M234.5 63.3h.01M243.2 68.7h.01M236.1 56.8h.01M247.9 60.3h.01M239.4 70.1h.01M245.2 61.8h.01M239.6 67h.01M251.6 71.6h.01M241.9 61h.01M234.3 63.8h.01M234 57.4h.01M238.1 67.6h.01M237.4 58.8h.01M226.8 62.9h.01M229.2 44.8h.01M238.6 68.8h.01M230.5 68.9h.01M242.6 59.3h.01M231.4 62.1h.01M238.4 66.8h.01M238.1 65.3h.01M234.5 59.8h.01M246.1 70.8h.01M232 60.6h.01M234.7 57h.01M247.5 62.2h.01M240 53.3h.01M234.3 62.1h.01M228.1 61.1h.01M248 71.1h.01M237.9 59h.01M233.7 71.2h.01M244.1 66.9h.01M219.3 80.9h.01M223.9 84.8h.01M211.4 87.3h.01M207.2 93.7h.01M209 82.4h.01M212 82.4h.01M211.4 89.9h.01M216.7 81.6h.01M229.5 80.9h.01M227 95.3h.01M217.7 88h.01M223.3 76.7h.01M217.4 92.9h.01M218.4 93h.01M215 77.6h.01M215.4 109.4h.01M222.3 87.9h.01M216.5 81h.01M212.8 97.4h.01M217.9 82h.01M203.1 85.2h.01M232.8 89.6h.01M220 85.4h.01M220.1 80.1h.01M221.5 59.2h.01M210.3 86.3h.01M208.9 82.7h.01M224.4 72h.01M206.7 65.6h.01M212.4 64.8h.01M212.8 73.7h.01M216.4 85.3h.01M213.9 93.8h.01M219.4 94.4h.01M220.7 79.5h.01M208.1 90.3h.01M220.1 71h.01M219.4 92h.01M214.5 90.2h.01M219.3 90.1h.01M219.5 90.5h.01M218.6 95.2h.01M214.8 94.8h.01M223.1 79.5h.01M218.6 88.8h.01M211.9 74.1h.01M211.8 81.6h.01M209.6 90.5h.01M211 79.5h.01M216.4 88.5h.01M206.4 66.6h.01M215.8 89.3h.01M221.1 94.8h.01M215.6 93.4h.01M212.8 71.8h.01M207.9 74h.01M212.7 67.1h.01M218.8 84.5h.01M229.9 84.5h.01M220.4 80.4h.01M219.3 101.7h.01M225.1 107.1h.01M218.8 109.1h.01M214.4 112.6h.01M216.2 117h.01M223 120.6h.01M226.1 114.5h.01M216.8 116.6h.01M218.9 119.9h.01M218.9 108.5h.01M217.3 121h.01M217.8 106.9h.01M215.2 112.6h.01M216.1 110.6h.01M220.8 103.9h.01M221.8 110.1h.01M216.5 100.6h.01M220.9 115.5h.01M213.7 109.2h.01M227 112.3h.01M218.3 114.7h.01M225.4 110.2h.01M211 120.7h.01M213.6 108.5h.01M217.6 112.7h.01M214.6 113.6h.01M217.6 126.9h.01M221.2 116h.01M217.3 119.5h.01M214.5 107.3h.01M222 114.5h.01M217.8 107.6h.01M216.1 114.1h.01M226.8 110.3h.01M220 111.1h.01M217.2 111.4h.01M219.5 117.2h.01M220.4 116.9h.01M219.8 114.6h.01M217 109.9h.01M214.4 119.4h.01M216.5 112.2h.01M219.6 118.9h.01M218.1 112.5h.01M214.1 124.3h.01M220.8 120.1h.01M215.3 121.5h.01M222.3 102.6h.01M218.9 109.3h.01M225.2 119.4h.01M218.8 116.3h.01M221.8 111h.01M221 120.5h.01M221.7 115.2h.01M212.7 110.4h.01M209.4 111.2h.01M220.4 121.7h.01M220.2 115.2h.01M224.5 105.5h.01M223.4 103.8h.01M217.8 110.5h.01M214.6 118h.01M219 127.1h.01M214.8 116.7h.01M218.6 109.3h.01M219.9 121h.01M216.1 120.3h.01M221.4 112.3h.01M217 121.5h.01M221.8 117.4h.01M216.5 104.6h.01M215.4 113h.01M217.9 108.1h.01M229.5 105.9h.01M220.2 103.7h.01M224.9 88.8h.01M212.1 109.6h.01M229.9 109.8h.01M236.1 114.2h.01M229.3 112.8h.01M224.6 93.1h.01M233.9 122h.01M216.5 113.5h.01M227.2 114.3h.01M223.9 111.6h.01M219 119.9h.01M229 97.5h.01M225.6 110h.01M215.8 108.3h.01M212.2 121.3h.01M220.7 108.4h.01M247.7 98.3h.01M222.2 114.1h.01M222.5 108.8h.01M232.1 105.9h.01M227.9 104.5h.01M220.2 112.3h.01M240 108.8h.01M252.5 115h.01M270 121h.01M274 121.6h.01M278.8 121.2h.01M265 131h.01M242.5 127.5h.01M258.8 57.5h.01M263.8 59h.01M262.5 62.5h.01M247 56h.01M249 66h.01M246 108h.01M236 116h.01M239 104h.01M205 99h.01M204 107h.01" stroke="#111" stroke-width="1.3" stroke-linecap="square" fill="none"/>
<text x="259.2" y="168.6" font-size="11.2" text-anchor="middle" font-weight="bold" textLength="40.5" lengthAdjust="spacingAndGlyphs">HLA-DR</text>
<text x="178.8" y="82.6" font-size="11.2" text-anchor="middle" font-weight="bold" textLength="33.5" lengthAdjust="spacingAndGlyphs" transform="rotate(-90 178.8 82.6)">CD34</text>
<rect x="379" y="34.3" width="119" height="102.7" fill="none" stroke="#111" stroke-width="1.25"/>
<path d="M379 137v2.6M388 137v1.8M393.2 137v1.8M396.9 137v1.8M399.8 137v1.8M402.1 137v1.8M404.1 137v1.8M405.9 137v1.8M407.4 137v1.8M408.8 137v2.6M417.7 137v1.8M422.9 137v1.8M426.7 137v1.8M429.5 137v1.8M431.9 137v1.8M433.9 137v1.8M435.6 137v1.8M437.1 137v1.8M438.5 137v2.6M447.5 137v1.8M452.7 137v1.8M456.4 137v1.8M459.3 137v1.8M461.6 137v1.8M463.6 137v1.8M465.4 137v1.8M466.9 137v1.8M468.2 137v2.6M477.2 137v1.8M482.4 137v1.8M486.2 137v1.8M489 137v1.8M491.4 137v1.8M493.4 137v1.8M495.1 137v1.8M496.6 137v1.8M498 137v2.6M379 137h-2.6M379 129.3h-1.8M379 124.7h-1.8M379 121.5h-1.8M379 119.1h-1.8M379 117h-1.8M379 115.3h-1.8M379 113.8h-1.8M379 112.5h-1.8M379 111.3h-2.6M379 103.6h-1.8M379 99.1h-1.8M379 95.9h-1.8M379 93.4h-1.8M379 91.3h-1.8M379 89.6h-1.8M379 88.1h-1.8M379 86.8h-1.8M379 85.7h-2.6M379 77.9h-1.8M379 73.4h-1.8M379 70.2h-1.8M379 67.7h-1.8M379 65.7h-1.8M379 64h-1.8M379 62.5h-1.8M379 61.1h-1.8M379 60h-2.6M379 52.2h-1.8M379 47.7h-1.8M379 44.5h-1.8M379 42h-1.8M379 40h-1.8M379 38.3h-1.8M379 36.8h-1.8M379 35.5h-1.8M379 34.3h-2.6" stroke="#111" stroke-width=".95" fill="none"/>
<text x="378.5" y="146.6" font-size="7.4" font-weight="bold" text-anchor="middle" stroke="#111" stroke-width=".4" textLength="10.6" lengthAdjust="spacingAndGlyphs">10<tspan font-size="5" dy="-2">0</tspan></text>
<text x="375.6" y="137.2" font-size="7.4" font-weight="bold" text-anchor="middle" stroke="#111" stroke-width=".4" textLength="10.6" lengthAdjust="spacingAndGlyphs" transform="rotate(-90 375.6 137.2)">10<tspan font-size="5" dy="-2">0</tspan></text>
<text x="408.2" y="146.6" font-size="7.4" font-weight="bold" text-anchor="middle" stroke="#111" stroke-width=".4" textLength="10.6" lengthAdjust="spacingAndGlyphs">10<tspan font-size="5" dy="-2">1</tspan></text>
<text x="375.6" y="111.5" font-size="7.4" font-weight="bold" text-anchor="middle" stroke="#111" stroke-width=".4" textLength="10.6" lengthAdjust="spacingAndGlyphs" transform="rotate(-90 375.6 111.5)">10<tspan font-size="5" dy="-2">1</tspan></text>
<text x="438" y="146.6" font-size="7.4" font-weight="bold" text-anchor="middle" stroke="#111" stroke-width=".4" textLength="10.6" lengthAdjust="spacingAndGlyphs">10<tspan font-size="5" dy="-2">2</tspan></text>
<text x="375.6" y="85.9" font-size="7.4" font-weight="bold" text-anchor="middle" stroke="#111" stroke-width=".4" textLength="10.6" lengthAdjust="spacingAndGlyphs" transform="rotate(-90 375.6 85.9)">10<tspan font-size="5" dy="-2">2</tspan></text>
<text x="467.8" y="146.6" font-size="7.4" font-weight="bold" text-anchor="middle" stroke="#111" stroke-width=".4" textLength="10.6" lengthAdjust="spacingAndGlyphs">10<tspan font-size="5" dy="-2">3</tspan></text>
<text x="375.6" y="60.2" font-size="7.4" font-weight="bold" text-anchor="middle" stroke="#111" stroke-width=".4" textLength="10.6" lengthAdjust="spacingAndGlyphs" transform="rotate(-90 375.6 60.2)">10<tspan font-size="5" dy="-2">3</tspan></text>
<text x="497.5" y="146.6" font-size="7.4" font-weight="bold" text-anchor="middle" stroke="#111" stroke-width=".4" textLength="10.6" lengthAdjust="spacingAndGlyphs">10<tspan font-size="5" dy="-2">4</tspan></text>
<text x="375.6" y="34.5" font-size="7.4" font-weight="bold" text-anchor="middle" stroke="#111" stroke-width=".4" textLength="10.6" lengthAdjust="spacingAndGlyphs" transform="rotate(-90 375.6 34.5)">10<tspan font-size="5" dy="-2">4</tspan></text>
<path d="M439.8 66.8L441.5 68.3L440.9 69.5L440.7 70.9L436.9 71L435.7 72L433.9 72.6L432.4 73.4L431.7 75L428.3 74.1L426.7 75.3L424.1 74.6L421.8 74.8L419.4 74.9L416.6 75.4L414.5 74.4L413.5 72.5L411 72.3L409.6 71.2L405.4 71.3L404.1 70L402.8 68.8L401.7 67.5L401.3 66.1L400 64.7L400.7 63.4L403.5 62.4L401.3 60.7L403.8 60L403.9 58.5L406.1 57.9L408.2 57.3L410.2 56.7L412 56L414.4 55.9L416.8 56.1L418.5 54.3L421.1 54.4L423.8 54.2L426.2 55.3L428.4 56.1L431.1 56.4L431.7 58.4L435.1 58.3L436.1 59.7L436.5 61.1L437.7 62.1L440 63.1L439.4 64.4L440.7 65.6Z" fill="#0a0a0a" clip-path="url(#cP3)"/>
<path d="M425.8 53.4h.01M417.3 56.5h.01M399.5 66.7h.01M404.1 55.3h.01M438.9 69.8h.01M404.6 60.2h.01M411.5 71.5h.01M429.3 55.5h.01M437.1 60.8h.01M426.2 55h.01M422.5 55.2h.01M422 73.8h.01M425.5 73.9h.01M418.4 55.6h.01M435.7 56.7h.01M433.5 73.1h.01M434.9 60h.01M440.1 70.8h.01M413.7 56.3h.01M404.8 72.7h.01M424.7 76.8h.01M417.7 74.4h.01M412.2 74.1h.01M401 61h.01M441.1 63.6h.01M403.5 71.2h.01M399.6 68.1h.01M428.8 76.7h.01M417.7 74.4h.01M400.7 68.4h.01M425.4 54.7h.01M429.2 74.3h.01M418.4 54.5h.01M434 58.7h.01M401.8 66.7h.01M415.3 72.5h.01M438.4 64.1h.01M418.9 55h.01M415.3 57h.01M426.6 75.8h.01M437.2 71.2h.01M417.1 52.1h.01M427.8 54.5h.01M437.7 61.6h.01M434.9 72.8h.01M411.4 73h.01M412 57.2h.01M414.7 72.2h.01M424.2 73.1h.01M410.2 70.9h.01M403.3 59.4h.01M423 73.9h.01M411.9 57.6h.01M406.7 70.2h.01M440.1 65h.01M433.1 58h.01M441.5 68.6h.01M427.1 73.5h.01M438 64.9h.01M412.5 73.8h.01M439.6 64.1h.01M411.1 57.2h.01M439.5 63.7h.01M406.6 56.3h.01M438.1 62.9h.01M436.4 59.5h.01M439.9 72.6h.01M442 68.3h.01M418.6 53.8h.01M403.6 60.5h.01M431.3 73.7h.01M437 71.3h.01M439.7 69.9h.01M421.8 54.8h.01M439.6 68h.01M413.5 55.6h.01M419.2 73.7h.01M432.3 57.2h.01M419.3 75h.01M424.2 76.3h.01M422.1 72.8h.01M410.1 57.2h.01M427.3 53.3h.01M439.5 62h.01M402.6 64.3h.01M438 61.1h.01M437 60.8h.01M438.4 70.8h.01M416.5 75.7h.01M423.6 52.7h.01M401.7 62.4h.01M400.8 64.4h.01M436.8 57.5h.01M405.6 59h.01M429.8 57h.01M400 62.4h.01M440.3 64h.01M427.2 74h.01M425.8 55.6h.01M416.2 74.5h.01M439 70.5h.01M400.3 62.7h.01M427 55.5h.01M433.1 70.9h.01M440 62.9h.01M438.2 63.7h.01M406.7 58.2h.01M417.6 75.5h.01M426.2 77.1h.01M398.9 64.7h.01M440.5 62.7h.01M438.8 71.2h.01M428.4 54.9h.01M405.8 58.1h.01M401.9 59.4h.01M440.5 65.1h.01M415.8 73.4h.01M417.9 54.6h.01M440.7 68.3h.01M428.6 72.3h.01M442.1 68.8h.01M407.3 56h.01M427.6 55.9h.01M437.5 72.3h.01M425.5 73.6h.01M399.9 61.2h.01M435.2 60.7h.01M425.7 55.5h.01M415.8 72.5h.01M419 54.4h.01M423.7 76.2h.01M407.7 70.6h.01M403.3 57h.01M423.2 73.2h.01M415.6 73.4h.01M439.5 61.7h.01M419.7 57.7h.01M441 69.8h.01M404.8 69.4h.01M433.7 76.1h.01M440.6 68.2h.01M419.4 53h.01M435.3 60h.01M400.5 68.1h.01M435.4 72.1h.01M418.1 55h.01M409.3 55.9h.01M421.9 75.8h.01M404.2 74.5h.01M407.6 58.3h.01M407.5 58.1h.01M427.2 56.9h.01M406.7 58.8h.01M406.4 69.9h.01M402.1 60.5h.01M426.2 76.3h.01M401.2 63.2h.01M419.1 75.6h.01M412.6 76.1h.01M402.9 62.4h.01M439.5 63.3h.01M436.1 70.8h.01M400.6 61.3h.01M416.9 54.7h.01M416.8 76.4h.01M434.5 73.2h.01M434.5 57.4h.01M420.2 75.3h.01M401.5 69.1h.01M399.5 62.7h.01M412.2 71.1h.01M436.7 71.3h.01M430.2 56.8h.01M403.1 65.4h.01M401.4 64h.01M440.8 60.6h.01M433.5 74.9h.01M427.9 56.4h.01M419.2 75.6h.01M435.7 60.9h.01M407.4 72.1h.01M434 60.9h.01M414.3 73.2h.01M439.8 66.5h.01M412 71.4h.01M404.9 57.2h.01M403.9 67.9h.01M422.6 72.3h.01M439.1 67.2h.01M418.1 74.3h.01M435.5 61.1h.01M433.1 70.7h.01M438.2 73.6h.01M419.5 55h.01M425.1 54.5h.01M428.1 57.9h.01M421.5 73.7h.01M402.7 60.2h.01M402.4 68.7h.01M417.8 73.9h.01M439.5 66.9h.01M418.1 74.8h.01M408.2 56.5h.01M439.8 70.2h.01M403.9 71.9h.01M403.5 68.6h.01M437.7 71.7h.01M421.6 76.6h.01M440.5 71.3h.01M438.2 59.9h.01M401.8 61.5h.01M441.2 64.9h.01M412.6 56.3h.01M403.2 68.2h.01M424.8 73.7h.01M401.4 68h.01M404.1 70.2h.01M416.4 55.1h.01M407.9 57.6h.01M434.5 56.7h.01M434.7 71.9h.01M401.9 67h.01M422.3 53.7h.01M407.1 72.4h.01M403.2 64.1h.01M413.9 71.9h.01M430.7 56.5h.01M432.6 58.1h.01M421.9 54.6h.01M419.9 56h.01M439.5 64.4h.01M413.4 56.1h.01M437.1 60.8h.01M433.7 73.4h.01M435.8 58h.01M420.2 52.6h.01M413.1 55.8h.01M401 62.5h.01M413.5 74.5h.01M418.8 75.7h.01M430.2 57h.01M400.6 65.4h.01M402 70.7h.01M415.3 73.6h.01M421.9 76.9h.01M439.8 71.5h.01M437 62.4h.01M408.8 57.2h.01M418.4 54.4h.01M440.5 69.2h.01M404.5 62.1h.01M418.2 74.8h.01M414.8 56.5h.01M422.4 53.2h.01M416.4 55.4h.01M421.7 72h.01M410.8 71.8h.01M402.8 68.9h.01M401.8 65.1h.01M435.2 59.9h.01M411.1 55.4h.01M440.9 67.8h.01M402.4 57h.01M435.7 57.5h.01M402 69.1h.01M404.3 62.5h.01M436.2 60h.01M421.7 54h.01M436.1 73.9h.01M409.2 58.8h.01M411.8 54.3h.01M432.3 56.1h.01M434.6 58.7h.01M412.8 56.3h.01M409.4 70.7h.01M436.8 71.2h.01M414.6 74.6h.01M403.3 57.6h.01M424 56.9h.01M441.9 68.4h.01M418.3 76h.01M419.4 55.2h.01M415.1 59h.01M426.6 73.8h.01M431.5 75h.01M418 53.9h.01M417.1 76.1h.01M415.4 76h.01M409.5 57.6h.01M410.7 73h.01M424.2 75.9h.01M432.3 59.1h.01M415.3 55.5h.01M404.8 57.6h.01M427.6 74.1h.01M417.2 55.7h.01M427.1 75.8h.01M429.2 56.8h.01M411.4 54.7h.01M398.9 65h.01M430.8 73.5h.01M410.8 54.4h.01M404.8 56.6h.01M404.4 58.2h.01M440.2 67.1h.01M437.7 73.1h.01M431.2 74.5h.01M437.5 70.1h.01M403.2 63.3h.01M400.3 61.8h.01M399 62.7h.01M425.9 74h.01M402.7 63.6h.01M403.7 69.3h.01M404.8 72.1h.01M440.7 69.4h.01M422 74.5h.01M410.6 57.1h.01M402.6 67.9h.01M425.4 53.1h.01M435.4 74.3h.01M404.1 67.7h.01M433.1 71.6h.01M424.3 53.9h.01M400.9 68.1h.01M423.1 54.7h.01M420.1 57.2h.01M410.3 56.7h.01M402.6 70.5h.01M400.5 67h.01M401.1 69.4h.01M436.3 61.4h.01M421.2 53.2h.01M436.5 71.5h.01M427.6 54.2h.01M407 56.7h.01M434.5 71.2h.01M432.3 57.2h.01M417.1 56.5h.01M410.4 68.7h.01M440.8 64.6h.01M432.1 57.5h.01M402.3 60.7h.01M414 58.4h.01M434.3 72.6h.01M416.9 77.1h.01M405.7 58.6h.01M402.3 68.8h.01M429.6 55.1h.01M400.2 62.4h.01M401.2 64.4h.01M421 74.3h.01M427.3 73.1h.01M401 64.9h.01M403 67.8h.01M429.5 54.8h.01M433.1 73.5h.01M425.5 74.7h.01M433.8 72.8h.01M425.6 73.6h.01M435 56.6h.01M439.6 70.3h.01M424.4 52.4h.01M403.4 61.2h.01M403.4 60.1h.01M431.3 75.2h.01M404.8 60.8h.01M439.7 68.6h.01M438.8 63.4h.01M439.5 67h.01M440.8 65.8h.01M409.5 54.9h.01M437.1 71.8h.01M415.5 57.2h.01M402.1 62.5h.01M399.9 61.4h.01M429.6 54.4h.01M402.8 66h.01M419.3 55h.01M437.5 71.1h.01M402.8 69.7h.01M402.3 64.8h.01M399.8 62.3h.01M411.4 71.6h.01M432.3 73.8h.01M433.9 72.7h.01M437.3 68.7h.01M411.1 58.1h.01M426.9 54h.01M399.5 63.3h.01M441.6 67.1h.01M439.8 63.6h.01M400.2 61.4h.01M402.7 68.7h.01M438.3 72.1h.01M440.3 70.5h.01M403 64.7h.01M411.2 54.6h.01M427.5 76.9h.01M419.2 75.9h.01M414.1 71h.01M400 62.5h.01M401.7 64.7h.01M423.1 74.9h.01M403.3 67.3h.01M411.6 70.5h.01M419.8 74.1h.01M435.9 72.2h.01M441.1 65.4h.01M435.6 72.2h.01M428.1 75.2h.01M419.8 76.2h.01M415.9 75.7h.01M411.2 70.9h.01M401 67.2h.01M424.2 71.6h.01M402.9 58.2h.01M439.4 64.3h.01M435.8 56.3h.01M426.3 55.9h.01M402.7 68.6h.01M408.5 73.5h.01M438.6 66.1h.01M403.1 70.9h.01M417.9 55h.01M431.6 57.7h.01M403 69.6h.01M438.1 63.8h.01M427.3 74.7h.01M420.7 54.2h.01M405.2 69.1h.01M427.7 75.2h.01M405.6 70.1h.01M433.2 57.1h.01M421.9 54.2h.01M402.7 61.3h.01M435.7 57.7h.01M407 59.2h.01M413.3 76h.01M441.7 69.2h.01M418.5 75.1h.01M436.8 71.2h.01M440.7 68.5h.01M400.8 62.4h.01M421 55h.01M405.2 58.1h.01M431 55.5h.01M436.5 60.4h.01M401.5 59.7h.01M420.7 54.7h.01M427.1 76.7h.01M415.1 76.3h.01M401.8 61.8h.01M422.3 56.4h.01M401.5 63.5h.01M430.2 58.2h.01M430 56.2h.01M418.8 55.9h.01M428.8 58.5h.01M430.3 72.5h.01M402.7 68.2h.01M397.4 61.3h.01M394 58.7h.01M395.5 61.9h.01M397.5 59.7h.01M390.2 68.6h.01M401.5 64.5h.01M394.4 58h.01M395.2 59h.01M401.8 55.6h.01M396.7 59.6h.01M395.6 62h.01M397.8 60.5h.01M399 53h.01M400 59.8h.01M398.7 59.5h.01M390 61.9h.01M393.9 61h.01M393.8 58.1h.01M402.2 56.1h.01M403.9 64.2h.01M397.5 62.7h.01M407.8 61.1h.01M388.9 56.7h.01M394.3 58.8h.01M390.5 59.4h.01M399.9 62.6h.01M398 56h.01M399.1 61.5h.01M399.3 60.5h.01M402.7 57.5h.01M395.8 62.8h.01M395.1 61.4h.01M401.1 70h.01M388.4 59.7h.01M398.1 58.5h.01M397.4 54.7h.01M400.5 62.4h.01M392.3 62.6h.01M392.5 58.7h.01M407.4 56.2h.01M387.6 60.7h.01M397.1 67.5h.01M403.7 62.7h.01M391.4 57.4h.01M394.7 64.7h.01M393.9 60.8h.01M390.7 61.7h.01M406.1 61h.01M395.7 56.9h.01M396.1 58.2h.01M391 64.3h.01M396.2 61.4h.01M398.1 60.9h.01M396.8 59.4h.01M399.4 57.6h.01M392.7 59.8h.01M397.5 55.3h.01M394.1 56.9h.01M395.9 64.5h.01M391.9 61.3h.01M402.6 60.3h.01M399.4 57.4h.01M388.5 62.4h.01M396.7 66h.01M396.7 58.1h.01M400.4 66.7h.01M401.3 59h.01M398 62.6h.01M394.1 59.3h.01M402.9 62.7h.01M398.4 59.8h.01M398.2 60.3h.01M397.5 62.2h.01M393.2 60.7h.01M393.9 60.4h.01M390 59.4h.01M394.8 61.9h.01M395.7 55.5h.01M397.9 50.1h.01M393 63.5h.01M393.2 58.4h.01M392.3 61.1h.01M393 62.2h.01M398.9 56.3h.01M405 57.1h.01M395.5 62.6h.01M387.4 58.4h.01M399.6 63.1h.01M395 60.3h.01M403.4 56.5h.01M393 65.2h.01M397.4 62.1h.01M394.7 58h.01M390.8 64.1h.01M397.7 56h.01M399.9 58.7h.01M402.3 56.2h.01M394 59.1h.01M389.4 61.2h.01M400.7 59.7h.01M392 54.3h.01M399.6 60h.01M394.2 60.5h.01M398.8 55.2h.01M401.4 59.6h.01M396.9 59.8h.01M397.5 64.1h.01M391.9 59h.01M391.9 58.3h.01M396.4 59.6h.01M397.5 59.7h.01M403 61.5h.01M404.4 61.3h.01M392.7 62.9h.01M402.6 58.4h.01M397.6 58.4h.01M392.9 61.6h.01M397.5 64h.01M394 62.6h.01M402.2 61.5h.01M394.5 62h.01M401.6 57.1h.01M397.3 67h.01M397.6 59.5h.01M398.5 61.3h.01M403.4 58.6h.01M391.1 58.4h.01M402.4 60.4h.01M399.9 61.3h.01M396.7 64.9h.01M395.6 64.9h.01M404 62.9h.01M398.7 62.1h.01M397.1 60h.01M401.5 63.6h.01M397.2 60.4h.01M400.6 64.3h.01M394.2 65.7h.01M395.2 62.6h.01M396.5 59.8h.01M399.3 59.5h.01M396.8 54.3h.01M400.7 57.2h.01M400.5 62.8h.01M399.3 65.4h.01M399.7 60.9h.01M395.2 56.1h.01M402 56.6h.01M400.9 58h.01M389.2 63.2h.01M397.7 61.3h.01M394.9 67.1h.01M394.1 62h.01M399.8 65.7h.01M396.8 62.6h.01M395.6 55.5h.01M394.6 65.7h.01M394.8 57.2h.01M403.1 59.1h.01M398 61h.01M396 56.1h.01M403.6 65.2h.01M398.7 62h.01M395.2 64.7h.01M393.8 53.3h.01M396.8 61.4h.01M397.9 62.4h.01M399.9 58.1h.01M392.2 61.9h.01M391 58.6h.01M386.4 60.3h.01M389.3 65.6h.01M392.5 61.2h.01M397.5 55.5h.01M387.6 56.3h.01M381.5 58.5h.01M400.1 60.3h.01M380.3 53.8h.01M383.8 60.2h.01M395.5 55.3h.01M392.1 56h.01M394.6 61h.01M389.9 56h.01M381.9 55.3h.01M388.3 62.7h.01M398.8 54.7h.01M389.7 59h.01M383.7 55.6h.01M394.5 54.5h.01M383.8 59h.01M396.5 63.1h.01M389.5 53.5h.01M386.4 60.7h.01M384.8 62.5h.01M389 59.3h.01M384.7 59.8h.01M383.8 57.2h.01M391.8 59.4h.01M401.9 56.4h.01M386.1 55.9h.01M382.5 65.2h.01M387.4 58h.01M384.3 58.9h.01M386.9 59.8h.01M385 59.6h.01M388.4 64.4h.01M386.6 61.9h.01M390.8 60.6h.01M390.5 59.2h.01M386.8 57.9h.01M381 56.8h.01M382.8 56.1h.01M385.2 59.6h.01M385.2 64.8h.01M387.9 54.3h.01M385.6 55.2h.01M386.2 65h.01M393.5 56.3h.01M397.4 59.2h.01M395 65.2h.01M385.5 53.2h.01M387.9 59.2h.01M385.8 62.6h.01M389.9 59.9h.01M393.1 58.9h.01M387.2 57.3h.01M391 64.4h.01M389 62.9h.01M384.7 59.5h.01M397 52.9h.01M385.5 57.2h.01M396.6 62.1h.01M401.2 57h.01M396.4 61.7h.01M391.4 61.5h.01M390.7 54.5h.01M390.8 63.2h.01M385 57.9h.01M396.6 57.7h.01M390.4 59.9h.01M385.6 57.3h.01M382 55.9h.01M381.8 58.3h.01M396.7 58h.01M381.5 60.1h.01M394.8 59.6h.01M390.8 55.9h.01M395.6 62.3h.01M395.2 65h.01M393.3 56h.01M390.4 59.2h.01M392.2 53h.01M387.7 61.9h.01M396.3 61.6h.01M396.1 60.4h.01M381.8 57.7h.01M387.4 51.1h.01M385 53.3h.01M393.9 61.5h.01M382.9 51.7h.01M386.2 64.7h.01M385.9 60.7h.01M393.5 56.5h.01M385.4 55.6h.01M391.3 57h.01M398.3 62.4h.01M387.7 58.3h.01M400.1 58.7h.01M385 58h.01M389.3 54h.01M393.1 56.5h.01M392.8 52.4h.01M387.8 56.2h.01M391.2 61.2h.01M394 62.3h.01M392.2 57.2h.01M381 60.4h.01M388.6 59.4h.01M388.1 59.9h.01M394 58.6h.01M391 58.3h.01M383.8 62.1h.01M392.4 61.7h.01M388.1 59.4h.01M382 65.4h.01M387.1 59.4h.01M387.5 56.6h.01M389.8 60.5h.01M384.7 61.3h.01M383.7 58.7h.01M395.9 56.6h.01M391.2 54.8h.01M384.7 61.2h.01M384.3 59.8h.01M389.6 56.7h.01M386.7 59.8h.01M389.8 62.2h.01M391.9 58h.01M385.6 56.1h.01M390.3 59.4h.01M385 62.6h.01M390.8 60.5h.01M389.4 62.4h.01M396.5 62.1h.01M379.8 60.4h.01M393.8 52.6h.01M396.7 63.5h.01M383.5 59.4h.01M389.2 58.7h.01M385.1 63.7h.01M397.5 60.8h.01M388.4 59h.01M392.7 60.7h.01M383.9 53.1h.01M389.1 58.4h.01M384.8 56.3h.01M384.6 59.5h.01M393.1 56.1h.01M392.1 59.1h.01M413.7 67.4h.01M419.8 68.8h.01M412.2 59.7h.01M426.8 57h.01M426.4 70.7h.01M431.4 56.8h.01M386.7 68.7h.01M401.6 57.4h.01M414.9 68.1h.01M419.3 58.5h.01M399.4 65.8h.01M425.3 63.6h.01M425.6 51.8h.01M424.3 67.6h.01M401.2 55.5h.01M435.1 68.3h.01M426.6 64.6h.01M412.1 66.1h.01M418.1 65.3h.01M422.7 61.4h.01M428.5 64.7h.01M406 63.5h.01M415.7 67.2h.01M413 62h.01M430.7 65.4h.01M408.9 59.9h.01M421.2 71.7h.01M432.2 69.5h.01M433.2 67.9h.01M437.4 74.4h.01M418.3 67.7h.01M442 57.1h.01M413.9 65.2h.01M415.6 63.7h.01M432.7 81.1h.01M401.9 64.3h.01M401.4 60.8h.01M408.3 59.7h.01M433.2 67h.01M402.9 72.7h.01M393 76.1h.01M429.4 72.6h.01M439.8 64h.01M434.3 67h.01M427.2 63.6h.01M415.6 77.7h.01M422.4 60.3h.01M412.5 57.5h.01M421.8 64h.01M444.8 71.5h.01M429.2 60.4h.01M417.4 63.7h.01M412.4 67.7h.01M424.6 72.6h.01M422.5 63.5h.01M417.4 61.3h.01M406.9 57.7h.01M415.2 65.5h.01M395 70.4h.01M428 75.1h.01M427.7 61.1h.01M429.5 68.5h.01M412.5 56.9h.01M412.5 62.3h.01M404.5 71.7h.01M411.9 59.3h.01M417.7 66.6h.01M425.1 72.5h.01M415.2 68.7h.01M430.8 61.6h.01M421 70.8h.01M430.4 62.9h.01M433.5 66.4h.01M408.6 59.1h.01M422.9 72.6h.01M413 69.2h.01M426.2 68.3h.01M432.1 74.3h.01M407.6 72.4h.01M445.5 69.6h.01M410.2 71.2h.01M420.5 55.1h.01M432.1 65.9h.01M397.5 65.9h.01M426.2 75.8h.01M431.4 61.2h.01M423.1 71.3h.01M413.3 59.7h.01M420.3 61.3h.01M413.2 71.8h.01M409.8 59.4h.01M420.4 56.9h.01M421.1 63.2h.01M404.8 64.9h.01M397 71h.01M413.8 60.3h.01M410.3 62.4h.01M427.5 65.4h.01M422.5 67.1h.01M423.7 69.6h.01M436 68.1h.01M426.1 78.8h.01M411.3 63.9h.01M393.3 71.3h.01M436.7 64.4h.01M434.6 59.4h.01M411.2 63.7h.01M414.6 69.4h.01M417.9 54.6h.01M420.4 59.2h.01M409.3 71.3h.01M415.3 62.8h.01M435.9 53.2h.01M425.9 70.6h.01M396.9 67.3h.01M430.9 58.7h.01M415.4 78.5h.01M421.4 63.2h.01M435.8 63.1h.01M411.6 60h.01M384.3 66.9h.01M419.7 57.7h.01M429.9 79.1h.01M442.1 54.2h.01M431.8 73.9h.01M435.2 65.9h.01M435.8 61.6h.01M412.5 57.9h.01M393.3 64.5h.01M400.8 55h.01M419.9 68.3h.01M422.3 64h.01M425.3 72h.01M420.7 63.2h.01M415.2 73.3h.01M431.7 63.6h.01M426.1 71.9h.01M420.6 71.1h.01M430.2 64.1h.01M421.9 65.6h.01M412.5 65.3h.01M423.9 55.5h.01M393 59.4h.01M408.1 63.1h.01M406.4 56.2h.01M425.7 51.4h.01M423.3 68.2h.01M417.6 66.6h.01M396.4 65.4h.01M419.9 63.3h.01M431 62.9h.01M428.8 62.7h.01M414.5 69.4h.01M417.6 65.4h.01M431.8 71.1h.01M416.5 60.1h.01M430.7 66h.01M422.3 84.1h.01M417.2 60h.01M422.4 64h.01M426.6 65.8h.01M401.5 70.1h.01M405.5 60.4h.01M426.3 56.9h.01M438.9 70.2h.01M438.8 69.3h.01M402.1 66.2h.01M402.1 61.1h.01M424.2 71h.01M418 66.3h.01M402 53.6h.01M422.2 60.9h.01M401.1 56.4h.01M410.6 62.7h.01M415.6 63.4h.01M401.9 59.3h.01M426.8 75.2h.01M437.5 61.4h.01M430.1 67.6h.01M409.6 64.1h.01M401.1 49.4h.01M423.3 75.5h.01M411 56.4h.01M441.6 64h.01M403.2 74.7h.01M408.3 67.3h.01M426.8 51.3h.01M445.9 63.4h.01M414.5 68.3h.01M434.4 73.9h.01M403.6 62.4h.01M406.8 62.5h.01M409.7 57.1h.01M438.2 61.5h.01M405.8 58.8h.01M418.6 71h.01M417.8 67h.01M408.7 77h.01M414.3 69.8h.01M424.6 68.7h.01M414.1 62.6h.01M439.8 71.9h.01M402.3 60.9h.01M413.6 69.2h.01M421.6 67.8h.01M410.9 59.8h.01M397.4 78.3h.01M419.1 68.5h.01M426 53.6h.01M422 67.8h.01M421.1 66.3h.01M418.1 72.8h.01M431.6 53.5h.01M431.2 67.1h.01M406.4 70.6h.01M430.2 59h.01M406.4 62.5h.01M419.9 62.7h.01M406.5 56.9h.01M423.2 66.2h.01M429 77.3h.01M412.8 63.1h.01M428.6 63.3h.01M445.7 70.9h.01M429.5 65.2h.01M425.4 53.7h.01M430.5 67.9h.01M419.5 68.6h.01M438.6 66.4h.01M419.7 69.3h.01M438.7 73.9h.01M420.5 60.8h.01M419.2 70.9h.01M426.2 74.3h.01M400.3 65.8h.01M429.4 64.4h.01M424.5 72h.01M412.8 59.2h.01M407.8 60.5h.01M414.4 64.8h.01M401.5 61.9h.01M440.1 68.6h.01M427.9 65.2h.01M418 73.7h.01M440.7 64.2h.01M405.3 64.8h.01M401.8 62.1h.01M434.6 76.6h.01M424.3 61h.01M412.6 46.7h.01M409.9 57.1h.01M417.5 60.3h.01M417.6 69h.01M397.1 63h.01M415.8 61.7h.01M397.4 60.3h.01M404.8 69h.01M438.6 65.2h.01M423.8 66.2h.01M431 66.7h.01M401.1 58.4h.01M432.6 62.4h.01M384.7 67.4h.01M406.6 62.7h.01M412 70.3h.01M409.5 53.7h.01M425 74.8h.01M432.1 64.7h.01M419.4 69.1h.01M418.8 67.9h.01M405.1 54.4h.01M427.5 71.5h.01M437 65h.01M407.9 56.1h.01M427.2 67.1h.01M424 68.7h.01M418.6 77h.01M395.4 68.7h.01M400.1 60.2h.01M430.4 85.1h.01M431.6 60.8h.01M419.8 75.4h.01M404.5 61.6h.01M393.9 58.8h.01M425.9 78.3h.01M409.1 50.9h.01M420 67.4h.01M412.2 63.7h.01M408.8 48.8h.01M435.3 58.4h.01M434 76.8h.01M404.9 66.2h.01M410.3 58.9h.01M405.4 60.1h.01M429.1 61.2h.01M403.7 67.4h.01M404.3 64.8h.01M423.3 69.2h.01M421.7 79.4h.01M422.7 62.3h.01M417.3 66.1h.01M402.3 71.8h.01M407.1 70.5h.01M444.5 64.3h.01M418.3 60.7h.01M418.7 68.4h.01M426.9 68.2h.01M407.1 67.3h.01M412.7 62.6h.01M439.7 77.6h.01M428.3 68h.01M405.7 52.7h.01M426.2 61.2h.01M424 58.4h.01M432.3 60.7h.01M439.5 76.5h.01M417 56.8h.01M412.5 70.2h.01M431.7 72.9h.01M431 69.2h.01M441.1 72.2h.01M421.1 75.4h.01M390 55h.01M388 54.7h.01M384.3 59.3h.01M386.7 62.6h.01M399.3 57.8h.01M391.4 62.9h.01M390.5 57h.01M394.4 51.2h.01M391.4 57.5h.01M393.2 60.6h.01M397.8 53h.01M385.8 59.5h.01M398.6 56.5h.01M395.2 58.4h.01M386.8 54.9h.01M382.4 59.1h.01M379.9 60.6h.01M381.8 60.2h.01M398.9 55.5h.01M391.1 65.4h.01M383 62.5h.01M404.1 52.4h.01M396.2 59h.01M387.1 62.5h.01M388.1 48.4h.01M387.8 56.8h.01M394 57.4h.01M391.3 59.1h.01M392.4 56.6h.01M389.9 56.7h.01M386.7 57.5h.01M390.7 63.9h.01M393 60.2h.01M388.4 62.7h.01M393.3 61.3h.01M390.2 62.3h.01M392.3 58h.01M395.9 62.2h.01M396 59.7h.01M380.3 58h.01M391 54.6h.01M392.6 55.4h.01M395.1 54.3h.01M380.4 57.4h.01M387.7 59.8h.01M397.5 59.6h.01M398.9 61.5h.01M391 61h.01M392.2 59.4h.01M399.4 56.7h.01M385.3 57h.01M390.5 61.8h.01M403.8 59.7h.01M383 50.8h.01M396.6 53.5h.01M399 61.2h.01M384.5 62h.01M388.9 64.3h.01M384.9 58.4h.01M388.7 55.2h.01M392.5 60.7h.01M397.7 57.1h.01M393 56.3h.01M384.1 60.8h.01M386.6 59.5h.01M393.3 55.2h.01M395.4 58.6h.01M390.5 59.7h.01M388.1 66.5h.01M383.1 54.1h.01M380.5 58.8h.01M401.5 59.9h.01M389.7 61.4h.01M399.5 57h.01M397.5 62h.01M384.9 61.7h.01M399.8 55.3h.01M392.6 63.5h.01M383.3 56.5h.01M397.8 64h.01M382.1 51h.01M385.7 58.3h.01M389.5 58.7h.01M392.6 57h.01M394.2 60h.01M400.8 63.3h.01M381.4 64.5h.01M387 62.1h.01M397.3 58.7h.01M392.5 58.4h.01M433.1 75.3h.01M415.9 87.9h.01M415.7 82.8h.01M430.2 90.1h.01M445.9 77.1h.01M408 79.3h.01M406.2 90.3h.01M421.7 89.9h.01M412.8 72.2h.01M401.5 77.9h.01M400.1 83.8h.01M426.4 86.7h.01M438.3 62.3h.01M429.7 89.6h.01M410 90.2h.01M424.2 97.7h.01M445.3 76.8h.01M425.9 86.3h.01M425.4 83.1h.01M423.8 104.9h.01M433.2 96.1h.01M428.6 86.6h.01M399.6 77.5h.01M428.6 85h.01M423.5 78.6h.01M426.8 85.4h.01M425.6 78h.01M407.8 86.4h.01M415.3 77.5h.01M435.8 91.8h.01M432.6 81.7h.01M424.3 97.3h.01M423.5 81.9h.01M433 81.1h.01M413.5 89.6h.01M422.8 97.4h.01M427.8 84.6h.01M414 81.7h.01M423.2 80.1h.01M416.2 94.5h.01M420 75.3h.01M434.9 69h.01M422.2 95.4h.01M414.3 104.3h.01M411.8 85.1h.01M437.7 78.6h.01M410.5 86.7h.01M420 89.1h.01M416.9 88.8h.01M422.1 87.7h.01M431.8 90.9h.01M413.3 84.7h.01M457.8 89.1h.01M430.3 84.6h.01M390 78.2h.01M405.5 98.4h.01M401.1 81.7h.01M427.9 85.5h.01M409.1 78.6h.01M428.7 84.9h.01M416.7 83.3h.01M416.4 84.3h.01M419.5 90.2h.01M426.4 85.3h.01M425.1 78.4h.01M403.8 89.9h.01M429.4 81.5h.01M438.4 86.1h.01M413.8 90h.01M423.1 84.5h.01M428 100.5h.01M409.4 70.4h.01M409.1 95.1h.01M434.6 85.9h.01M401.1 92.7h.01M429 82h.01M423.1 93.7h.01M402.8 89.6h.01M427 90.9h.01M425.8 84.9h.01M415.3 88.5h.01M429.1 73.5h.01M435 95.7h.01M427 85.9h.01M406.2 82.8h.01M416.1 85.1h.01M404.3 88.9h.01M417.9 79.5h.01M410.3 77.5h.01M411.9 84.1h.01M406.1 81.7h.01M425.6 93.9h.01M418.1 80h.01M410 88.2h.01M411.6 78.9h.01M435.3 77.7h.01M414.7 77h.01M402.5 88.5h.01M436.9 103.3h.01M417 94.9h.01M391.7 94.8h.01M419.9 114.9h.01M401.5 107.6h.01M407.4 110.7h.01M426.2 121.2h.01M397.1 102h.01M414 113.1h.01M422.5 120.2h.01M395.2 103.6h.01M398 117.6h.01M429.5 106.2h.01M412.9 114.4h.01M407.5 121.1h.01M410.8 111.8h.01M414 125.7h.01M417.6 115.2h.01M416.6 123.9h.01M424.5 115.9h.01M447.2 110.5h.01M402 125.3h.01M409.5 116.3h.01M401.8 116.6h.01M411 119.8h.01M407.8 104.7h.01M393.9 105.4h.01M451.4 119h.01M447.8 114.1h.01M404.4 109.8h.01M390.7 116.4h.01M398.7 115.5h.01M406.9 128.1h.01M436.4 118.9h.01M402.3 128.6h.01M424.7 118h.01M381 133.2h.01M436.3 113.2h.01M421.1 112.4h.01M420 116.9h.01M398.9 111.2h.01M393.2 116h.01M421.8 120.2h.01M411.5 111.4h.01M423.2 120.8h.01M407.4 103.7h.01M435.5 119.9h.01M419.1 113.2h.01M419.3 121.1h.01M412 112.6h.01M410.3 109.3h.01M421.8 111.1h.01M398.6 118.5h.01M397.7 129.3h.01M410.7 115.3h.01M429.3 115.9h.01M410.4 108.6h.01M422.2 121h.01M413 122.5h.01M407.1 125.2h.01M402.5 106.5h.01M399 130.3h.01M391.4 115.6h.01M396.5 110.1h.01M411.9 134.7h.01M423.8 121.2h.01M427.5 123.9h.01M421.8 118.4h.01M431 127.9h.01M419.5 120h.01M410.7 124.1h.01M407.5 129.6h.01M400.2 118.9h.01M406.1 113.6h.01M412.6 110h.01M408.7 111.1h.01M436.4 123.9h.01M402.8 112.7h.01M418.4 118.4h.01M423.6 102.6h.01M416.5 106.4h.01M407.5 109.6h.01M413.4 109.5h.01M399.8 125.5h.01M401.9 120.9h.01M408.3 110.8h.01M421 115.5h.01M435.2 102.8h.01M417.1 116h.01M444.6 106.4h.01M411.3 104.2h.01M420.9 126.4h.01M401.8 123.2h.01M441.2 119.3h.01M401 110.9h.01M401.7 119.9h.01M433.3 111h.01M438.9 124.4h.01M414.7 126.8h.01M439 113.5h.01M411.5 113h.01M429.1 112.3h.01M421.5 107.1h.01M426.1 114.5h.01M422.3 134.1h.01M400.1 122.8h.01M406.1 108.3h.01M421.1 112.9h.01M414.1 125h.01M422.4 130.6h.01M423.1 117h.01M447.5 120.5h.01M415.6 110h.01M421.5 112.3h.01M398 128.2h.01M407 108.6h.01M398.1 123.3h.01M409.3 112h.01M412.9 127.1h.01M433.6 124.6h.01M418.3 120.7h.01M412.2 125.2h.01M431.4 74.6h.01M439 80.1h.01M437.6 67.8h.01M437.8 73.9h.01M426.5 82.6h.01M443 70.3h.01M434.7 78.9h.01M439.8 67.6h.01M431.7 73.4h.01M436.6 74.3h.01M445.5 55.6h.01M432 79.5h.01M445.4 69.4h.01M437.6 64.9h.01M442.1 68.9h.01M430.7 72.7h.01M449 89h.01M446.5 91h.01M441 130h.01M438 132.5h.01M384 64h.01M386 70h.01" stroke="#111" stroke-width="1.3" stroke-linecap="square" fill="none"/>
<text x="437.5" y="168.6" font-size="11.2" text-anchor="middle" font-weight="bold" textLength="30.5" lengthAdjust="spacingAndGlyphs">CD38</text>
<text x="359.4" y="82.4" font-size="11.2" text-anchor="middle" font-weight="bold" textLength="34.5" lengthAdjust="spacingAndGlyphs" transform="rotate(-90 359.4 82.4)">CD34</text>
<rect x="28.8" y="226.8" width="117.7" height="102" fill="none" stroke="#111" stroke-width="1.25"/>
<path d="M28.8 328.8v2.6M37.7 328.8v1.8M42.8 328.8v1.8M46.5 328.8v1.8M49.4 328.8v1.8M51.7 328.8v1.8M53.7 328.8v1.8M55.4 328.8v1.8M56.9 328.8v1.8M58.2 328.8v2.6M67.1 328.8v1.8M72.3 328.8v1.8M75.9 328.8v1.8M78.8 328.8v1.8M81.1 328.8v1.8M83.1 328.8v1.8M84.8 328.8v1.8M86.3 328.8v1.8M87.7 328.8v2.6M96.5 328.8v1.8M101.7 328.8v1.8M105.4 328.8v1.8M108.2 328.8v1.8M110.5 328.8v1.8M112.5 328.8v1.8M114.2 328.8v1.8M115.7 328.8v1.8M117.1 328.8v2.6M125.9 328.8v1.8M131.1 328.8v1.8M134.8 328.8v1.8M137.6 328.8v1.8M140 328.8v1.8M141.9 328.8v1.8M143.6 328.8v1.8M145.2 328.8v1.8M146.5 328.8v2.6M28.8 328.8h-2.6M28.8 321.1h-1.8M28.8 316.6h-1.8M28.8 313.4h-1.8M28.8 311h-1.8M28.8 309h-1.8M28.8 307.2h-1.8M28.8 305.8h-1.8M28.8 304.5h-1.8M28.8 303.3h-2.6M28.8 295.6h-1.8M28.8 291.1h-1.8M28.8 287.9h-1.8M28.8 285.5h-1.8M28.8 283.5h-1.8M28.8 281.7h-1.8M28.8 280.3h-1.8M28.8 279h-1.8M28.8 277.8h-2.6M28.8 270.1h-1.8M28.8 265.6h-1.8M28.8 262.4h-1.8M28.8 260h-1.8M28.8 258h-1.8M28.8 256.2h-1.8M28.8 254.8h-1.8M28.8 253.5h-1.8M28.8 252.3h-2.6M28.8 244.6h-1.8M28.8 240.1h-1.8M28.8 236.9h-1.8M28.8 234.5h-1.8M28.8 232.5h-1.8M28.8 230.7h-1.8M28.8 229.3h-1.8M28.8 228h-1.8M28.8 226.8h-2.6" stroke="#111" stroke-width=".95" fill="none"/>
<text x="28.3" y="338.4" font-size="7.4" font-weight="bold" text-anchor="middle" stroke="#111" stroke-width=".4" textLength="10.6" lengthAdjust="spacingAndGlyphs">10<tspan font-size="5" dy="-2">0</tspan></text>
<text x="25.4" y="329" font-size="7.4" font-weight="bold" text-anchor="middle" stroke="#111" stroke-width=".4" textLength="10.6" lengthAdjust="spacingAndGlyphs" transform="rotate(-90 25.4 329)">10<tspan font-size="5" dy="-2">0</tspan></text>
<text x="57.7" y="338.4" font-size="7.4" font-weight="bold" text-anchor="middle" stroke="#111" stroke-width=".4" textLength="10.6" lengthAdjust="spacingAndGlyphs">10<tspan font-size="5" dy="-2">1</tspan></text>
<text x="25.4" y="303.5" font-size="7.4" font-weight="bold" text-anchor="middle" stroke="#111" stroke-width=".4" textLength="10.6" lengthAdjust="spacingAndGlyphs" transform="rotate(-90 25.4 303.5)">10<tspan font-size="5" dy="-2">1</tspan></text>
<text x="87.2" y="338.4" font-size="7.4" font-weight="bold" text-anchor="middle" stroke="#111" stroke-width=".4" textLength="10.6" lengthAdjust="spacingAndGlyphs">10<tspan font-size="5" dy="-2">2</tspan></text>
<text x="25.4" y="278" font-size="7.4" font-weight="bold" text-anchor="middle" stroke="#111" stroke-width=".4" textLength="10.6" lengthAdjust="spacingAndGlyphs" transform="rotate(-90 25.4 278)">10<tspan font-size="5" dy="-2">2</tspan></text>
<text x="116.6" y="338.4" font-size="7.4" font-weight="bold" text-anchor="middle" stroke="#111" stroke-width=".4" textLength="10.6" lengthAdjust="spacingAndGlyphs">10<tspan font-size="5" dy="-2">3</tspan></text>
<text x="25.4" y="252.5" font-size="7.4" font-weight="bold" text-anchor="middle" stroke="#111" stroke-width=".4" textLength="10.6" lengthAdjust="spacingAndGlyphs" transform="rotate(-90 25.4 252.5)">10<tspan font-size="5" dy="-2">3</tspan></text>
<text x="146" y="338.4" font-size="7.4" font-weight="bold" text-anchor="middle" stroke="#111" stroke-width=".4" textLength="10.6" lengthAdjust="spacingAndGlyphs">10<tspan font-size="5" dy="-2">4</tspan></text>
<text x="25.4" y="227" font-size="7.4" font-weight="bold" text-anchor="middle" stroke="#111" stroke-width=".4" textLength="10.6" lengthAdjust="spacingAndGlyphs" transform="rotate(-90 25.4 227)">10<tspan font-size="5" dy="-2">4</tspan></text>
<path d="M88.7 316.5L90.2 318.6L89.8 320.6L90 323L87.8 323.6L87 325L86.9 327.8L85.6 328.8L84 328.5L83 330.6L81.5 330L80.2 331.6L79 328.9L77.7 328.9L75.8 330.7L75.2 327.8L74.3 326.4L72.3 326.4L71.8 324.3L72.3 321.7L70.9 320.5L70.3 318.6L71.5 316.5L70.3 314.4L72 313L71.9 310.9L73.1 309.8L73.5 308.1L73.1 304.5L75.1 305L75.7 302L77.5 303.3L78.8 302.2L80.2 301L81.6 301.9L82.6 304.5L84.3 303.4L85.6 304.3L85.9 306.9L86.6 308.4L89.1 308.1L89 310.7L88.6 312.9L89.6 314.5Z" fill="#0a0a0a" clip-path="url(#cP4)"/>
<path d="M92.9 323.5L91.7 324.8L91 326L90.4 327.4L88.4 328.2L86.5 329.1L84 329.2L81.8 330.1L79.5 328.8L77 329.3L74.3 329.2L73 328L72.4 326.6L70.6 325.9L68.3 324.9L68.7 323.5L70.3 322.3L70 321L70.5 319.6L72.7 318.9L74.8 318.2L77.1 318L79.2 317L81.7 317.4L83.8 318L85.7 318.7L87.8 319.2L90.6 319.6L90.1 321.2L92 322.2Z" fill="#0a0a0a" clip-path="url(#cP4)"/>
<path d="M88.4 320.1h.01M83.5 304.8h.01M81.4 304.4h.01M74.7 309.7h.01M73.6 326.1h.01M83.9 301.8h.01M86.4 322.6h.01M87.1 317.9h.01M73.2 326.3h.01M83.3 305.4h.01M89.9 321.1h.01M80.4 301.4h.01M76.4 325.7h.01M89.9 316.2h.01M74.5 326.4h.01M72.4 313.3h.01M70.6 313.6h.01M70.9 319.5h.01M87.4 313h.01M73 326.8h.01M73.7 314.2h.01M82.7 303.7h.01M76.9 325.9h.01M86 307.7h.01M74.5 308.7h.01M89 325.6h.01M91.1 313.5h.01M73.5 305.4h.01M90.9 313.8h.01M75.2 321.4h.01M79 302.6h.01M71.4 324.1h.01M90.2 315.5h.01M92.4 316.9h.01M71.7 312.7h.01M72.6 321.2h.01M68.3 320.1h.01M69.9 300.4h.01M71.4 316h.01M92.6 315.5h.01M89.9 318.3h.01M81.8 299.3h.01M86.7 325.9h.01M77.3 327h.01M73.8 306.1h.01M87.7 325.8h.01M77.2 327.9h.01M86.7 315.3h.01M71.1 320.7h.01M71.9 325.9h.01M88.2 321.8h.01M88 306.9h.01M87.7 324.3h.01M68.9 319.3h.01M71.3 318.9h.01M91.2 304.3h.01M76.2 308.4h.01M84.5 325.4h.01M74 324.4h.01M73.1 303.5h.01M82.5 305.9h.01M90.8 311h.01M86 326.9h.01M85.6 327.5h.01M77 298.9h.01M67.8 314.2h.01M87.9 308.8h.01M89.3 325h.01M71.5 312.3h.01M72.3 305.9h.01M75.1 306.9h.01M73.3 310.5h.01M80 302.4h.01M74.2 327.3h.01M87.9 318.6h.01M82.6 304.9h.01M88.2 323.4h.01M73.1 310.3h.01M73.8 326.8h.01M73.8 327.1h.01M80.9 303.3h.01M72.2 319.8h.01M70.8 319.2h.01M74.7 325.9h.01M69.5 311.8h.01M85.7 323.9h.01M85.9 314.5h.01M72.1 309h.01M84.9 302.5h.01M73.4 317h.01M84.4 326.1h.01M78.7 305.8h.01M88.2 321.3h.01M91.7 323h.01M69.7 319.8h.01M94.4 321.3h.01M89.1 317.8h.01M87 322.1h.01M86.2 307h.01M75.9 301.8h.01M89 308.7h.01M83.5 301.7h.01M70.5 321.2h.01M78 301.1h.01M72.1 324.9h.01M73 314.5h.01M79 299h.01M72 323.2h.01M69 315.9h.01M75.7 327.8h.01M87.6 323.6h.01M70 318.3h.01M81.8 304.8h.01M83.8 326.6h.01M85 307.3h.01M90.2 313.6h.01M88.6 309.7h.01M72.9 313h.01M72.6 325.5h.01M89.1 324.3h.01M82.2 306.5h.01M71.3 321.5h.01M77.3 304.4h.01M71.1 314.3h.01M78.6 327.6h.01M72.2 311.5h.01M83 304.9h.01M89.5 316.9h.01M70.2 316.6h.01M72 313.3h.01M71.9 309.8h.01M75.2 308.5h.01M74 304.5h.01M77.8 302.1h.01M92.2 323.2h.01M88 302.9h.01M86.3 307.2h.01M75 327.9h.01M89.5 318.3h.01M84.8 307.3h.01M78.8 301.8h.01M73 327.2h.01M79.4 303.4h.01M82.9 302.4h.01M92.1 318.6h.01M75.4 302.6h.01M88 314.2h.01M86.6 304.4h.01M89.4 320.9h.01M72 326.3h.01M71.6 326.2h.01M73.9 323.1h.01M71.4 310.7h.01M87.9 306h.01M74.3 324.6h.01M69.9 316.2h.01M71.7 307.9h.01M74.9 309.3h.01M89.4 322.4h.01M71.3 314.4h.01M87.1 327.1h.01M83.8 306.9h.01M73.4 309.7h.01M73 325.9h.01M78.3 302h.01M75.8 325h.01M73.2 326.5h.01M86.8 326.9h.01M70.1 319.6h.01M88.7 310.3h.01M70.7 304.9h.01M87.2 324.7h.01M82.8 304.3h.01M77.3 304.5h.01M87.4 306.1h.01M72.2 313.2h.01M72.6 307.7h.01M89.8 313.8h.01M89.3 324.9h.01M80.4 305.7h.01M75.1 304.2h.01M78.9 302.7h.01M87.5 325.8h.01M83 326.6h.01M89 312.9h.01M88.2 311.7h.01M77.3 304.7h.01M88.2 311.7h.01M72.1 310.6h.01M85.3 306.1h.01M71.4 312.3h.01M89.7 321.6h.01M88 306.9h.01M79.6 299.4h.01M88.4 311.3h.01M72.5 316.2h.01M81.8 303.1h.01M81.5 301.1h.01M91.1 323.2h.01M82.5 302.6h.01M89 315.2h.01M70.9 311.6h.01M72 327.3h.01M75.3 324.7h.01M80.8 303.9h.01M88.8 305.9h.01M78.5 301.4h.01M74.7 304.9h.01M74.4 327.2h.01M77.9 301.1h.01M85.8 303.5h.01M88.5 309.7h.01M91.4 319.4h.01M70.5 315.8h.01M74.5 308.8h.01M70.6 316.4h.01M70.2 314.3h.01M91.1 310.3h.01M76.2 303.2h.01M85.3 304h.01M90.8 314h.01M72.5 308.4h.01M81.4 301.5h.01M78.8 303h.01M72.1 319.8h.01M89.5 326.7h.01M72.4 324.5h.01M89 321.8h.01M71.1 317.4h.01M87.5 318.7h.01M84 306.8h.01M83.1 305.1h.01M91.3 320.3h.01M90.3 307.9h.01M88.8 305.4h.01M88 314.8h.01M76.1 327.9h.01M87.8 317.4h.01M84.2 327.5h.01M89.9 316.1h.01M71.2 313.6h.01M73.9 301h.01M84.5 302.4h.01M72.6 304.9h.01M81.5 304h.01M70.3 314.4h.01M69.3 320.7h.01M88.9 313.7h.01M92.3 320.3h.01M90.6 322.3h.01M90.3 324.2h.01M89.1 312.5h.01M73.1 312.9h.01M90 322.5h.01M87.6 324.3h.01M81.6 304.8h.01M85.4 327.1h.01M89.5 320.6h.01M72.9 324h.01M87.6 324.7h.01M79.5 305h.01M85.6 306.9h.01M72.7 318.5h.01M86.2 325.6h.01M74.3 316.9h.01M73.8 305.2h.01M76.8 305h.01M75 304.3h.01M90.8 312.9h.01M84.7 308.1h.01M82.1 327.7h.01M87.4 304.4h.01M73.5 307.1h.01M72 308.2h.01M72.2 322.1h.01M85.6 325h.01M84.8 308.6h.01M76.3 304.4h.01M68.5 320.1h.01M90.9 308.5h.01M78.3 302h.01M73.1 309.6h.01M87.8 325.5h.01M68.9 317.5h.01M77.1 302.2h.01M72.2 313.5h.01M87.4 304.8h.01M86.6 311h.01M74.5 327.8h.01M81.8 327.7h.01M77.2 304.4h.01M90.9 324.4h.01M90.5 319.1h.01M72.2 326.3h.01M84.9 327.6h.01M88.5 315.7h.01M81.1 303h.01M81.3 303.5h.01M72 325.7h.01M72.3 323h.01M72.3 318.1h.01M91.1 310.9h.01M73.9 308.8h.01M90.2 313.7h.01M71 320.3h.01M79.5 303.1h.01M87.8 323h.01M73.2 327.6h.01M74.9 327.9h.01M74.2 306.1h.01M79.7 326.4h.01M89.8 315.9h.01M91 308.4h.01M73.7 306.9h.01M90.4 319.6h.01M72.6 311.1h.01M78.8 327.8h.01M90.8 309.8h.01M86.4 324.5h.01M76.6 327.2h.01M72.9 325.1h.01M71.2 308.6h.01M88.1 308.5h.01M71.1 305.4h.01M88.6 309.8h.01M83.3 301.6h.01M89.4 320.1h.01M75.6 303.5h.01M72.6 325.6h.01M86.5 307.2h.01M88.3 327.9h.01M85.2 325.9h.01M79.7 303.1h.01M80.6 305h.01M84 303.9h.01M81.8 302.5h.01M87.9 314.2h.01M72.6 312.2h.01M71.6 322.2h.01M70.6 324.6h.01M75.7 301.4h.01M73.1 315.1h.01M88.3 317.3h.01M87.9 323.6h.01M70.8 323.6h.01M85 327.9h.01M71.6 321.5h.01M71.1 318.3h.01M70.9 323h.01M87.3 308.4h.01M68 323.4h.01M88.8 328h.01M87 316.1h.01M72 325.3h.01M68.2 325.8h.01M69.7 326.3h.01M91.1 325.7h.01M68.9 321.6h.01M88 317.1h.01M86.8 318.4h.01M92.6 321.8h.01M69.7 320.3h.01M85.9 317.1h.01M90.3 325.9h.01M90.6 320.3h.01M75.5 318.7h.01M82.2 318.4h.01M71.4 320.7h.01M75.3 316.7h.01M80.8 314.7h.01M90.1 321.1h.01M84.7 318.2h.01M73.2 320.9h.01M89.6 324.7h.01M86.2 317.1h.01M90.5 325.3h.01M74.2 319.8h.01M75.1 326.5h.01M81.4 316.6h.01M70 325h.01M75.9 318.2h.01M91 320.7h.01M91.6 322.3h.01M68.8 321h.01M80.8 316.3h.01M89.3 327.6h.01M82.3 318.8h.01M90 320.1h.01M71.1 322.9h.01M87.8 319.5h.01M73 326.7h.01M89.8 319.5h.01M69.3 320.8h.01M83.6 319.6h.01M91 323h.01M92.3 317.8h.01M89.8 320.6h.01M91.6 322.3h.01M70.4 325.5h.01M88.4 320.2h.01M71.7 320.6h.01M77.1 327.2h.01M69.9 322.3h.01M90.3 326h.01M72.3 325.9h.01M88.6 319.8h.01M89.5 324.1h.01M71.3 326.9h.01M91.3 324.7h.01M70.4 321.3h.01M73.9 326.9h.01M85.5 318h.01M70.9 327.4h.01M70.3 321.6h.01M91.7 321.9h.01M72.8 325.3h.01M77.6 317h.01M91.1 322.6h.01M87.4 320.1h.01M71.7 327h.01M91.1 324.8h.01M75.5 318.4h.01M93.7 322.6h.01M68.7 323.6h.01M92 326.2h.01M90.6 324.9h.01M87.4 327.5h.01M70.5 326.8h.01M80 316.1h.01M90.6 322.3h.01M69 320.3h.01M85.7 319.2h.01M68.7 324.5h.01M70.1 322.9h.01M71 321.8h.01M93.6 322.9h.01M88.9 320.5h.01M81.8 317.4h.01M83.5 318.8h.01M93.6 324.3h.01M68.2 326.6h.01M68.9 324h.01M70.9 321.8h.01M76.2 316.4h.01M94 320.9h.01M68.4 323.6h.01M70.4 326.2h.01M76.7 318.5h.01M90.4 319.1h.01M91.1 325h.01M72 327.1h.01M72.4 320.8h.01M88.3 320.6h.01M72.7 326.2h.01M91.6 323.5h.01M76.8 317.1h.01M78.6 318h.01M69 319.3h.01M87.7 317.6h.01M92.6 321.4h.01M69.8 321.7h.01M69.6 325.8h.01M69.9 320.8h.01M70.4 325h.01M90.4 319.6h.01M91.7 319.7h.01M92.2 324.9h.01M81.5 318.8h.01M56.5 314.8h.01M52.6 312.4h.01M56.1 313.2h.01M55.1 315.1h.01M55.5 315.3h.01M52.9 303.3h.01M50.2 308.5h.01M54.5 324.5h.01M50.9 316.8h.01M55.9 304.4h.01M54.4 315h.01M50.5 305.5h.01M59 312.5h.01M52.8 312.9h.01M56.2 312h.01M55.2 313.6h.01M54.3 311.3h.01M51 306.3h.01M58.1 305.2h.01M46.5 312.5h.01M53.4 316.8h.01M57.6 309.7h.01M53.9 316.5h.01M48.1 305h.01M57.6 320h.01M53 310.9h.01M55.9 316.1h.01M49.9 315.6h.01M57.7 308.3h.01M58.2 306h.01M48.6 303.9h.01M55.4 308h.01M54.7 302.8h.01M54 317.7h.01M50.9 298.7h.01M51.6 310.9h.01M61 298.9h.01M44.8 303.1h.01M46.8 307.3h.01M59.6 312.6h.01M53.1 312.2h.01M56.5 307.7h.01M49.8 318.5h.01M52.7 319.9h.01M51.2 308.2h.01M52.6 319.7h.01M55.9 315.3h.01M51.9 312.8h.01M54.5 310.4h.01M55.5 309.6h.01M51.7 303.8h.01M55.5 316.9h.01M55.7 323.8h.01M54.7 315.4h.01M59.3 319.8h.01M51 311.4h.01M56.3 309.3h.01M58.5 317.1h.01M48.9 305.4h.01M56.5 315.5h.01M54.5 309.6h.01M53.5 308.6h.01M57.1 316.6h.01M59.3 312.6h.01M50.8 309.2h.01M51.5 307.8h.01M54.5 307.3h.01M58.2 313.6h.01M55.6 318.1h.01M51.1 310h.01M60.3 314.6h.01M53 316.2h.01M52 311.4h.01M51.6 308.8h.01M61.5 314.7h.01M52.5 311.6h.01M51.6 306.1h.01M50.7 317.5h.01M47.9 315.9h.01M55.8 310.1h.01M52 308.1h.01M57.5 315.2h.01M54.6 303.8h.01M49.3 307.6h.01M49.7 307.5h.01M56.3 318.2h.01M53.3 307.5h.01M56.7 308.5h.01M56.7 310h.01M56.8 308.3h.01M53.1 315.2h.01M49.3 305.1h.01M52 310.7h.01M52.2 321.8h.01M53.9 308.9h.01M54.2 308.5h.01M55.7 320.3h.01M53.4 307.7h.01M55.3 314.9h.01M42.8 316h.01M56.2 307.9h.01M51.4 315.1h.01M60.5 307.4h.01M56.5 309.1h.01M59.1 304.1h.01M53 317.6h.01M51.3 312h.01M52.7 317.4h.01M57.3 310.8h.01M51 320.4h.01M53.3 304h.01M49.7 310.2h.01M47.2 322.3h.01M52 314.8h.01M60.1 309.8h.01M56.2 306.9h.01M53.8 314.7h.01M49.3 312.4h.01M50.9 312.9h.01M54.8 311.1h.01M50.2 318.9h.01M48.5 306h.01M57.9 308.2h.01M50.6 317.7h.01M53.5 303h.01M56.8 302.3h.01M50.3 306.5h.01M51.2 314.6h.01M56 306.1h.01M55.6 307.6h.01M51.3 312.4h.01M48.8 314.8h.01M50.8 307.5h.01M55.2 303h.01M50.8 312.7h.01M55.3 312h.01M56.4 315h.01M55.3 301h.01M51 311.3h.01M58.2 306.1h.01M50.6 315.3h.01M55 316.2h.01M58.9 302.9h.01M51.7 321.2h.01M63.9 308.1h.01M48.6 308.8h.01M59.7 310.9h.01M58 311.3h.01M52 316.7h.01M59.2 321.4h.01M51.3 313.8h.01M59.8 311.2h.01M56.3 312.3h.01M51.4 307.6h.01M54.3 314.4h.01M56.8 317.7h.01M48 307.2h.01M55.2 310.1h.01M49.1 322.9h.01M53.4 305.6h.01M74 305.8h.01M73.6 318h.01M88.8 326.7h.01M90.9 302.3h.01M70.8 301.3h.01M86.3 322.9h.01M74.6 323.5h.01M75.7 290h.01M79 322.9h.01M76.3 296.9h.01M94.1 317.9h.01M79.3 301.7h.01M75.1 315.6h.01M70.6 321.7h.01M77.7 317h.01M75.1 321.3h.01M77.1 317.9h.01M74.7 301.6h.01M99.6 289.4h.01M84.2 317h.01M92.6 323.1h.01M71.9 309.9h.01M73.6 303.8h.01M82.8 314.5h.01M74.2 326h.01M85.6 309.1h.01M74.1 300.4h.01M77 309.5h.01M75.1 322h.01M78.3 311.5h.01M79.4 299.6h.01M91.1 325.1h.01M70.7 322.3h.01M80.1 312.7h.01M74.4 311.2h.01M76.1 314.2h.01M72.7 323.5h.01M75.6 306.4h.01M62.8 322.2h.01M79.8 307.8h.01M69.6 304.6h.01M79.9 309.5h.01M87.2 306.5h.01M74.9 308.8h.01M69.9 318.6h.01M87.9 327.3h.01M71.1 299.4h.01M78.6 304.7h.01M71.5 316.7h.01M79.2 320.4h.01M84 321.4h.01M90.2 317.8h.01M86.9 295.4h.01M71 319.9h.01M89.1 320.8h.01M72.8 305.9h.01M59.2 323.7h.01M74.2 302.2h.01M80.9 293.2h.01M70.9 321.5h.01M81.9 327.2h.01M78.6 314.3h.01M67.9 299h.01M78.1 321.7h.01M69.3 316.2h.01M93.5 322.5h.01M82.8 321.3h.01M74.6 305.7h.01M77.3 318h.01M75.1 312.4h.01M78.7 299.7h.01M78.3 320h.01M72.3 327.6h.01M92.9 313.7h.01M86.6 307.1h.01M84.2 307.2h.01M80.5 311h.01M75.4 316.1h.01M84 309.3h.01M72.9 315.4h.01M89.1 312.2h.01M83.7 304.9h.01M68.1 319.1h.01M83.2 312.2h.01M77.7 306.1h.01M72.5 318.5h.01M72.2 292.9h.01M83.8 303.9h.01M85.7 284.8h.01M81.6 313.6h.01M75.3 320.7h.01M91.8 293.1h.01M78.9 304.8h.01M83.3 312.3h.01M70.9 319.6h.01M75.2 323.3h.01M79.6 305.4h.01M79.7 323.7h.01M70 314.5h.01M70.7 317.1h.01M90.5 319.8h.01M80 323.4h.01M83.5 308.8h.01M76 321.3h.01M93.3 317.5h.01M82.7 323.7h.01M77.7 306.3h.01M71.5 294.9h.01M94.7 327.4h.01M81.9 317.2h.01M74.1 299.5h.01M77.2 325.8h.01M73.4 284.3h.01M88.8 317.3h.01M80.7 304.5h.01M81.4 312.4h.01M72.5 297.5h.01M80 325.9h.01M79.6 310.1h.01M78.9 292.6h.01M87.8 303h.01M71.5 320.6h.01M72.7 313h.01M81.6 319.4h.01M84.6 310.5h.01M87.9 308.7h.01M86.3 318.3h.01M87.1 323.1h.01M81.9 321.6h.01M75.8 315.4h.01M70.6 303.2h.01M81.5 314.9h.01M85.3 302.4h.01M94.2 323.6h.01M84.1 315.4h.01M67 316.4h.01M93.1 310.5h.01M77.6 313h.01M92.7 325.1h.01M95 317.6h.01M80.9 310.1h.01M83.2 309.2h.01M80 322.7h.01M74.8 311.8h.01M79.3 298.3h.01M84.5 317.1h.01M80.6 321.3h.01M75.5 291.3h.01M77.9 311h.01M77.3 322.1h.01M67.6 318h.01M76.1 312h.01M69.2 321.5h.01M87.2 300.2h.01M81.9 309.2h.01M84.3 306.3h.01M70.9 300.1h.01M77.2 325.2h.01M85.1 298.9h.01M78 319.4h.01M81.7 317.4h.01M94.1 316.5h.01M85 306.5h.01M80.9 324.4h.01M85.7 308.5h.01M81.2 301.5h.01M68.4 314.8h.01M65 306.4h.01M72.7 296.8h.01M68.9 308.8h.01M85.1 302.8h.01M76.6 326.9h.01M70.4 326.8h.01M80.5 321.6h.01M91.2 310.1h.01M91.9 311.3h.01M80.4 304.2h.01M80.3 307.6h.01M85.3 303.5h.01M85.2 291.3h.01M85.5 308.3h.01M64.1 325.3h.01M85.6 316.7h.01M72.3 305.2h.01M89.3 309.4h.01M73.5 323.5h.01M81.9 303.7h.01M90.3 302.9h.01M77.8 305.2h.01M69.6 306.3h.01M76.3 307.4h.01M87.3 310h.01M68.5 310.9h.01M88 326.9h.01M68.8 326.1h.01M78.5 312h.01M76.8 312h.01M75.4 289.1h.01M83 316.4h.01M81.7 294.1h.01M82.3 311.3h.01M66.6 325.6h.01M83.1 300.3h.01M74.5 305.1h.01M77.9 307.9h.01M78.9 301.7h.01M86.7 308.3h.01M61 313.3h.01M84.7 283.9h.01M81.6 317.4h.01M83.7 301.4h.01M96.4 302.5h.01M71.6 317.5h.01M74.5 326h.01M96.9 320.3h.01M80.7 325.2h.01M79.8 310.3h.01M95.5 315h.01M78.7 314.7h.01M87.5 322.5h.01M63.1 327.4h.01M82.4 297.2h.01M68.4 327.3h.01M81.3 306.7h.01M81.6 303.8h.01M80.9 327.4h.01M87 308.2h.01M88.7 302.5h.01M88.1 305.3h.01M76.9 291h.01M82 301.4h.01M85.9 298.7h.01M88.6 327.6h.01M94.7 317.1h.01M75.5 307.3h.01M84.2 323.9h.01M73.4 310.3h.01M76.7 323.7h.01M70.8 320.8h.01M75.8 314.1h.01M85.5 304h.01M83.5 316.8h.01M101.6 308h.01M90.2 306.9h.01M86.8 298.8h.01M69.1 311.3h.01M92.3 323.8h.01M70.9 318.9h.01M89.6 310h.01M91.1 323.6h.01M73.7 322h.01M77.4 315.8h.01M73 303.7h.01M85.5 320.6h.01M82.2 317.4h.01M67.2 323.2h.01M70.9 317.9h.01M75.1 317.1h.01M90.7 306.4h.01M91 310.2h.01M82.7 318.8h.01M88.6 296.9h.01M92 319.2h.01M78.9 311.7h.01M90 322.1h.01M89.6 311.7h.01M80.6 305.8h.01M69 314.9h.01M90 305.4h.01M81.5 309.3h.01M87 315.5h.01M95.3 288.9h.01M89.7 308h.01M74.3 287.4h.01M89.5 306h.01M75.4 301.2h.01M71.2 320.9h.01M76.4 308.2h.01M79.6 312.9h.01M85.4 312.5h.01M80.2 315.2h.01M77 312.6h.01M80.2 321.4h.01M85.6 320.2h.01M75 298.2h.01M83.7 305.4h.01M85.3 305.4h.01M84.1 309.6h.01M72.4 300h.01M75 323.8h.01M79.8 326.4h.01M88.9 311.7h.01M94.2 315.5h.01M72.1 305.4h.01M90 310.9h.01M85.3 304.1h.01M83.5 312h.01M88.6 318.6h.01M83.7 324.6h.01M88.2 293.7h.01M84 291.3h.01M70.6 317.4h.01M82.1 326.1h.01M67.4 314.7h.01M77 304.3h.01M73.5 312h.01M80.1 322.4h.01M84.3 310.4h.01M68.1 298.5h.01M87.5 317.9h.01M87.6 316.2h.01M95.7 300h.01M97.5 320.1h.01M82.8 314.4h.01M80.3 302.9h.01M75.6 303.2h.01M71.6 304.9h.01M80.7 306.2h.01M73.2 320.8h.01M78.5 315.8h.01M82.1 298.4h.01M77.4 296.8h.01M77.3 316.4h.01M94.1 311.5h.01M86.1 308.7h.01M71.6 323.2h.01M82.1 313.2h.01M83.9 324.8h.01M67.8 306.1h.01M79.2 294.4h.01M91.1 296h.01M78 303h.01M78 313.6h.01M91.2 324.5h.01M79.5 317.6h.01M83.2 309.1h.01M82 317.6h.01M84.4 304.7h.01M70.5 313h.01M87.3 327.4h.01M81.6 318.6h.01M90.6 309h.01M72 303.7h.01M92 318.6h.01M82.7 323.4h.01M83.2 305.4h.01M76.2 295.5h.01M75.2 327.4h.01M76.1 316.1h.01M83.7 281.5h.01M79.1 294.3h.01M83.5 307.2h.01M86.1 298.8h.01M77.9 326.4h.01M84.6 325.7h.01M81.7 320h.01M89.4 308.2h.01M80.8 313.2h.01M79.2 302.6h.01M97.9 316h.01M51.2 313.1h.01M46.6 312.6h.01M53.4 312.1h.01M58.8 314.1h.01M55.7 319.5h.01M55.5 306.7h.01M56 323.7h.01M54.1 318.1h.01M55.4 311.2h.01M54.3 317h.01M51.6 310.9h.01M50.3 315.4h.01M52.5 311.9h.01M56.9 309.9h.01M50.1 305.2h.01M57.4 309.6h.01M51.8 311.5h.01M51.1 322.7h.01M57.1 315.7h.01M55.9 314.2h.01M53.2 316.4h.01M53.2 312.6h.01M55 317.9h.01M55.8 311.4h.01M54.3 314.3h.01M56.1 325.4h.01M53.7 309.2h.01M56.1 314.8h.01M58.5 312.4h.01M50.1 306.2h.01M49.5 314.4h.01M56.5 312.8h.01M56.9 318.2h.01M54.1 304.9h.01M54.9 316.3h.01M54.8 316.3h.01M49.6 305.4h.01M54 305.9h.01M49.9 306.6h.01M44.6 313.3h.01M49.5 322.1h.01M48.8 310.3h.01M62.3 306.5h.01M51.7 311.1h.01M58.5 321.5h.01M52.8 310.1h.01M54.7 312.8h.01M57.1 309.6h.01M53.6 308.7h.01M52 303.4h.01M51.3 311.1h.01M61.4 309.7h.01M51.5 312.3h.01M47.4 304h.01M50.2 313.3h.01M45.5 313.2h.01M48 322.2h.01M58.4 312.9h.01M52.8 316.4h.01M49.6 304.7h.01M52.1 308.1h.01M53.7 307.8h.01M54.9 313h.01M50.8 309.6h.01M48.1 306.9h.01M49.6 307.5h.01M49.7 310.1h.01M54.1 308.6h.01M52.2 318h.01M52.3 308.1h.01M52.5 315.7h.01M60.6 312.5h.01M58.6 304.7h.01M48.1 316.9h.01M53.1 304h.01M59.8 313.7h.01M59.7 309.5h.01M55.8 311.9h.01M52.1 316.8h.01M44.8 322.3h.01M50.5 312.7h.01M55 312.2h.01M52.3 310.9h.01M56.4 302.7h.01M57.6 310.7h.01M57.6 316h.01M51.3 317.5h.01M54.1 303.1h.01M48.9 305.1h.01M56 308.9h.01M60.2 308.9h.01M55.2 314.8h.01M50 315h.01M54.8 313.2h.01M56.5 308.6h.01M56.1 317.8h.01M60.8 316.9h.01M55.3 301.8h.01M47.5 312.9h.01M48.7 306h.01M48.2 317.3h.01M54.4 310.3h.01M60 313.4h.01M50.5 311.8h.01M52.9 305.6h.01M57.5 312.2h.01M53.9 318.7h.01M52.9 309.8h.01M48.7 317.3h.01M44.3 306.7h.01M44.2 317.6h.01M54.5 307.6h.01M53.6 313.4h.01M53 323.5h.01M55.2 311.3h.01M51.6 318.6h.01M60.8 320.5h.01M56.5 319h.01M54.8 308.2h.01M59.8 310h.01M55.2 314.5h.01M46.7 312.2h.01M50.2 316.5h.01M66.4 304h.01M55.5 308h.01M51.4 309.9h.01M56.3 309h.01M57.9 310h.01M52.2 308.9h.01M53.9 316.4h.01M49.8 312.1h.01M44.6 307h.01M50.9 305.2h.01M57.2 316.5h.01M48.5 304.9h.01M53.4 314h.01M57 305.8h.01M54.2 315.5h.01M61.5 310.2h.01M51.5 321.8h.01M50 309.9h.01M55.9 316.3h.01M47.9 308.9h.01M38.5 305.2h.01M53 315.3h.01M52.2 307.3h.01M54.6 314.2h.01M54.3 305.5h.01M54.6 306.7h.01M63.8 309.9h.01M59.7 290.4h.01M70.9 305.8h.01M43.4 296.3h.01M52.3 304.5h.01M56.8 315.7h.01M61.9 287.2h.01M43.6 307.8h.01M38.2 310.8h.01M47.1 311h.01M62 314h.01M68.3 319.2h.01M68 324.4h.01M57.4 305.1h.01M76.7 289.5h.01M68.8 274.3h.01M77.2 299h.01M56.8 326.2h.01M43.9 309.8h.01M64.4 306.9h.01M66.9 296.2h.01M80.5 275.5h.01M56.4 279.3h.01M68.2 305h.01M64 308.9h.01M67.5 304.6h.01M38.9 315.4h.01M95 298h.01M73.9 280h.01M41.7 310.6h.01M87.7 309.2h.01M64.4 312.6h.01M54.2 291h.01M69.1 302.7h.01M48 309.8h.01M77.2 309.4h.01M96.3 294.4h.01M40 294.6h.01M63.5 300h.01M60 287.2h.01M65.7 299.6h.01M50.3 311.9h.01M80.8 292.6h.01M58.5 299h.01M69.8 308.8h.01M63.9 280.8h.01M58.5 284.4h.01M42.4 284.6h.01M62.5 324.1h.01M63.9 320.8h.01M71.4 283.4h.01M63.2 304.4h.01M66.1 295.8h.01M41.6 289.5h.01M78.7 314.7h.01M39.3 310h.01M57.3 317h.01M49 322.2h.01M59.5 309.8h.01M74.3 310.5h.01M38.5 315.7h.01M69.6 301.1h.01M51.2 300.2h.01M52.2 295.9h.01M99.9 278.4h.01M42.1 309.6h.01M56.8 301.9h.01M59.5 308h.01M37 302.2h.01M67.7 301.6h.01M60.8 298.2h.01M74.5 289.6h.01M65.1 304.7h.01M51.2 287.7h.01M56 302.3h.01M56 291h.01M81.6 277.5h.01M34.1 293.4h.01M39.2 308.6h.01M52.4 300.7h.01M55.7 298.9h.01M70.6 292.5h.01M48.7 302.6h.01M61.8 295h.01M65 301.1h.01M58 290h.01M57.6 292.6h.01M52.9 295.6h.01M52.3 293.6h.01M57.7 278h.01M58.2 303.3h.01M53.5 304.9h.01M58.8 274.4h.01M59.7 289.5h.01M65.5 299.9h.01M66.4 295.5h.01M71.9 294.8h.01M56.7 283.1h.01M58.2 299h.01M50.4 299.8h.01M69.4 283.9h.01M71.1 291.7h.01M83.8 256h.01M59.4 310.8h.01M46.9 310.1h.01M49.7 307h.01M54.8 303.4h.01M93 297.2h.01M51.9 284.7h.01M53.2 299.1h.01M73.9 303.1h.01M49.4 296.2h.01M82.3 307.3h.01M71.4 282.1h.01M57 301.8h.01M85.8 324.1h.01M61.8 313.3h.01M49.6 286.9h.01M66.5 298h.01M53.6 283.7h.01M55.2 304h.01M67.6 283.5h.01M45.7 294.4h.01M68.7 296.6h.01M59.8 299.1h.01M67 304.3h.01M56.5 306.2h.01M63.4 304.5h.01M48 312.6h.01M74.2 308.2h.01M59.3 287.7h.01M63.4 292.3h.01M65 311h.01M64.1 305.6h.01M57.2 288.4h.01M47.3 289.5h.01M51.2 301.2h.01M52.3 320.1h.01M63.7 301.6h.01M61.3 296.9h.01M60.1 288.6h.01M59.8 309h.01M77.8 279h.01M57.9 317.5h.01M60 296.4h.01M66.6 303.7h.01M76.9 293.5h.01M64.7 296.5h.01M66 268h.01M60.6 295.7h.01M49.2 299.6h.01M59.5 287.6h.01M55.3 306.1h.01M67.6 310.1h.01M48.7 307.2h.01M47.6 292.9h.01M44.9 299.5h.01M58.4 284.4h.01M66.7 310.7h.01M54.7 285.8h.01M36.1 319.7h.01M51.5 324.4h.01M49.8 294.5h.01M68.1 304.7h.01M54 304.6h.01M56.8 289.2h.01M57.4 311.1h.01M54.6 310.4h.01M68.7 305.3h.01M56 300.2h.01M65.8 304.1h.01M89.2 292.2h.01M56.5 291.5h.01M56.4 316.5h.01M51.3 313.6h.01M52.3 315.9h.01M76.3 292.6h.01M51.3 297.8h.01M59.7 297.1h.01M62.8 270.3h.01M47.8 303.5h.01M50.5 297.8h.01M57.8 299.8h.01M77.2 299.4h.01M47.1 324h.01M50.2 310.1h.01M66.2 325.9h.01M58.6 289.2h.01M61.1 322.8h.01M61.2 309.1h.01M67.1 296h.01M79.2 298.8h.01M59.3 311.1h.01M49 288.3h.01M61.9 290.6h.01M65.5 304.9h.01M35.1 280.1h.01M55 304.4h.01M77.1 267.7h.01M85.5 288.4h.01M53.1 286.2h.01M77.2 292h.01M74.2 291.1h.01M74.5 272.5h.01M54.3 308.3h.01M83.5 298.8h.01M67.2 290.5h.01M43.6 277.3h.01M43 276.2h.01M77.8 313.5h.01M42.1 295.1h.01M67.6 307.8h.01M51.4 302.8h.01M37.2 289.2h.01M50.3 291.9h.01M72.5 301.2h.01M42.1 292.6h.01M57.1 314.8h.01M60.7 302.9h.01M62.8 286.4h.01M66.3 274.1h.01M56.5 304.8h.01M73.5 326.2h.01M57.1 318.6h.01M54.4 300.2h.01M72.2 278.6h.01M53.6 303.2h.01M65.9 290.9h.01M71.5 302.2h.01M61.8 295.7h.01M55.8 304.9h.01M62.3 271.4h.01M57.4 290.6h.01M66.3 293.5h.01M64.3 279.5h.01M58.6 281.7h.01M58.5 280.1h.01M62.7 261.2h.01M75.8 291.6h.01M60.6 273.1h.01M62.7 288.2h.01M69.5 289.2h.01M84 286.3h.01M68.8 278.5h.01M68.5 277h.01M59.4 277.7h.01M64.4 278.8h.01M76.6 276.7h.01M55.9 274.8h.01M60.8 280.4h.01M66.1 280.4h.01M54.1 292.8h.01M80.8 280.8h.01M64 297.4h.01M60.8 275.9h.01M56 283.4h.01M53.5 286.2h.01M64.5 285.8h.01M54.2 268.7h.01M59.9 271.2h.01M71.8 280h.01M41.3 281.4h.01M59.9 289h.01M39.8 278.4h.01M59.2 291.4h.01M68.9 286.6h.01M71.5 282.1h.01M71.6 285.9h.01M53.1 272.2h.01M62.5 281.1h.01M76.4 273.7h.01M74.8 279.9h.01M47.3 285h.01M45.1 291.7h.01M67.5 274.6h.01M63.6 284.5h.01M67.1 280.7h.01M72.7 278.5h.01M56.5 299h.01M53.2 289.2h.01M66.5 296.3h.01M52.7 275.2h.01M53.7 272.2h.01M68.9 294.4h.01M56.1 274.8h.01M66.1 277.7h.01M53.1 281h.01M61.3 287.4h.01M43.6 270.8h.01M60.3 279.7h.01M70.5 278.4h.01M37 238.8h.01M51.8 258.3h.01M77.5 258.3h.01M81.8 259.3h.01M91.8 253h.01M73.8 267.5h.01M103.3 296.3h.01M104.5 303.8h.01M105.2 303.9h.01M58 266h.01M63 270h.01M69 269h.01M33 307h.01M35 318h.01M38 322h.01" stroke="#111" stroke-width="1.3" stroke-linecap="square" fill="none"/>
<text x="84.1" y="365.4" font-size="11.2" text-anchor="middle" font-weight="bold" textLength="29.5" lengthAdjust="spacingAndGlyphs">CD34</text>
<text x="11" y="280.8" font-size="11.2" text-anchor="middle" font-weight="bold" textLength="30.5" lengthAdjust="spacingAndGlyphs" transform="rotate(-90 11 280.8)">CD33</text>
<rect x="202.5" y="229.3" width="117" height="102" fill="none" stroke="#111" stroke-width="1.25"/>
<path d="M202.5 331.3v2.6M211.3 331.3v1.8M216.5 331.3v1.8M220.1 331.3v1.8M222.9 331.3v1.8M225.3 331.3v1.8M227.2 331.3v1.8M228.9 331.3v1.8M230.4 331.3v1.8M231.8 331.3v2.6M240.6 331.3v1.8M245.7 331.3v1.8M249.4 331.3v1.8M252.2 331.3v1.8M254.5 331.3v1.8M256.5 331.3v1.8M258.2 331.3v1.8M259.7 331.3v1.8M261 331.3v2.6M269.8 331.3v1.8M275 331.3v1.8M278.6 331.3v1.8M281.4 331.3v1.8M283.8 331.3v1.8M285.7 331.3v1.8M287.4 331.3v1.8M288.9 331.3v1.8M290.2 331.3v2.6M299.1 331.3v1.8M304.2 331.3v1.8M307.9 331.3v1.8M310.7 331.3v1.8M313 331.3v1.8M315 331.3v1.8M316.7 331.3v1.8M318.2 331.3v1.8M319.5 331.3v2.6M202.5 331.3h-2.6M202.5 323.6h-1.8M202.5 319.1h-1.8M202.5 315.9h-1.8M202.5 313.5h-1.8M202.5 311.5h-1.8M202.5 309.7h-1.8M202.5 308.3h-1.8M202.5 307h-1.8M202.5 305.8h-2.6M202.5 298.1h-1.8M202.5 293.6h-1.8M202.5 290.4h-1.8M202.5 288h-1.8M202.5 286h-1.8M202.5 284.2h-1.8M202.5 282.8h-1.8M202.5 281.5h-1.8M202.5 280.3h-2.6M202.5 272.6h-1.8M202.5 268.1h-1.8M202.5 264.9h-1.8M202.5 262.5h-1.8M202.5 260.5h-1.8M202.5 258.7h-1.8M202.5 257.3h-1.8M202.5 256h-1.8M202.5 254.8h-2.6M202.5 247.1h-1.8M202.5 242.6h-1.8M202.5 239.4h-1.8M202.5 237h-1.8M202.5 235h-1.8M202.5 233.2h-1.8M202.5 231.8h-1.8M202.5 230.5h-1.8M202.5 229.3h-2.6" stroke="#111" stroke-width=".95" fill="none"/>
<text x="202" y="340.9" font-size="7.4" font-weight="bold" text-anchor="middle" stroke="#111" stroke-width=".4" textLength="10.6" lengthAdjust="spacingAndGlyphs">10<tspan font-size="5" dy="-2">0</tspan></text>
<text x="199.1" y="331.5" font-size="7.4" font-weight="bold" text-anchor="middle" stroke="#111" stroke-width=".4" textLength="10.6" lengthAdjust="spacingAndGlyphs" transform="rotate(-90 199.1 331.5)">10<tspan font-size="5" dy="-2">0</tspan></text>
<text x="231.2" y="340.9" font-size="7.4" font-weight="bold" text-anchor="middle" stroke="#111" stroke-width=".4" textLength="10.6" lengthAdjust="spacingAndGlyphs">10<tspan font-size="5" dy="-2">1</tspan></text>
<text x="199.1" y="306" font-size="7.4" font-weight="bold" text-anchor="middle" stroke="#111" stroke-width=".4" textLength="10.6" lengthAdjust="spacingAndGlyphs" transform="rotate(-90 199.1 306)">10<tspan font-size="5" dy="-2">1</tspan></text>
<text x="260.5" y="340.9" font-size="7.4" font-weight="bold" text-anchor="middle" stroke="#111" stroke-width=".4" textLength="10.6" lengthAdjust="spacingAndGlyphs">10<tspan font-size="5" dy="-2">2</tspan></text>
<text x="199.1" y="280.5" font-size="7.4" font-weight="bold" text-anchor="middle" stroke="#111" stroke-width=".4" textLength="10.6" lengthAdjust="spacingAndGlyphs" transform="rotate(-90 199.1 280.5)">10<tspan font-size="5" dy="-2">2</tspan></text>
<text x="289.8" y="340.9" font-size="7.4" font-weight="bold" text-anchor="middle" stroke="#111" stroke-width=".4" textLength="10.6" lengthAdjust="spacingAndGlyphs">10<tspan font-size="5" dy="-2">3</tspan></text>
<text x="199.1" y="255" font-size="7.4" font-weight="bold" text-anchor="middle" stroke="#111" stroke-width=".4" textLength="10.6" lengthAdjust="spacingAndGlyphs" transform="rotate(-90 199.1 255)">10<tspan font-size="5" dy="-2">3</tspan></text>
<text x="319" y="340.9" font-size="7.4" font-weight="bold" text-anchor="middle" stroke="#111" stroke-width=".4" textLength="10.6" lengthAdjust="spacingAndGlyphs">10<tspan font-size="5" dy="-2">4</tspan></text>
<text x="199.1" y="229.5" font-size="7.4" font-weight="bold" text-anchor="middle" stroke="#111" stroke-width=".4" textLength="10.6" lengthAdjust="spacingAndGlyphs" transform="rotate(-90 199.1 229.5)">10<tspan font-size="5" dy="-2">4</tspan></text>
<path d="M264.7 323.5L260.7 324.4L263.3 326.1L260.5 326.4L262.6 328.9L258.7 327.7L259.9 330.7L258.1 330.8L256.8 331.9L255.3 332.7L253.5 330.2L252.1 330.5L250.4 331.4L249.7 329.6L248.6 329L247.7 328.2L244.8 328.7L243.8 327.5L243.5 326.2L245.4 324.5L242.5 323.5L244.3 322.3L245.7 321.4L245.4 320.1L246.2 319.2L248.1 319.1L247.9 317.2L249.5 317.1L250.5 316.1L251.8 314.6L253.5 315.4L254.9 316.3L256.8 315.1L258.6 315.3L258.9 317.4L261.4 317.1L259.4 320L260.5 320.6L261.1 321.5L264.5 322.1Z" fill="#0a0a0a" clip-path="url(#cP5)"/>
<path d="M264.5 328L263.3 328.8L261.3 329.5L261.3 330.5L258.2 330.6L256.9 331.5L254.1 331.6L251.4 331.8L249.3 331.1L247.1 330.7L244.9 330.3L241.7 329.9L241.5 328.9L242.8 328L242.8 327.2L242.9 326.3L243.4 325.3L246.4 324.9L249.2 324.9L251.3 323.9L254 324.8L256.3 324.9L258.6 325.3L261.6 325.4L263.5 326.2L263.2 327.2Z" fill="#0a0a0a" clip-path="url(#cP5)"/>
<path d="M258.3 325h.01M261.8 317.4h.01M260.6 318h.01M243.9 323.3h.01M253.4 315.9h.01M245 328h.01M246 323.1h.01M262.1 329.4h.01M242.9 328.5h.01M257.7 317.3h.01M260.7 323.1h.01M251.4 315.7h.01M264.5 320.7h.01M248.2 315.2h.01M262.2 321.6h.01M250.6 316h.01M245.6 320.6h.01M245.9 328.3h.01M245.2 329.7h.01M262.8 325.1h.01M261.9 318.1h.01M243 324.3h.01M259.5 318.5h.01M260.7 319.7h.01M252.1 313.6h.01M259.5 320.2h.01M256.7 315.4h.01M253.9 313.1h.01M243.4 320.7h.01M246.6 319.3h.01M248.5 321.4h.01M262.7 322.6h.01M251.7 330.5h.01M252 314.5h.01M253.7 329.4h.01M249.3 327.7h.01M261.9 324.6h.01M252.8 315.5h.01M244.6 326.1h.01M260.1 326.4h.01M263.5 326.2h.01M250.9 317.6h.01M261.6 323.7h.01M247.2 317.8h.01M239.3 323.5h.01M262.4 321.7h.01M250.3 330.3h.01M246.6 320.5h.01M251.9 315.2h.01M249.8 315.7h.01M243.7 328.5h.01M251.4 315.9h.01M257.4 315.2h.01M248.1 318.4h.01M247 317.6h.01M249.6 317.2h.01M245.6 321.4h.01M254.8 315.1h.01M260.7 328.5h.01M251.6 329.8h.01M243.3 319.7h.01M258 318.2h.01M245.3 321.4h.01M260.1 328.2h.01M256.6 313.4h.01M241.2 320.2h.01M249.2 318.3h.01M259.6 320.6h.01M261.5 324.4h.01M250.4 318.1h.01M244.4 327.6h.01M258.5 315.2h.01M254.4 316.3h.01M264.7 325h.01M249.4 314.8h.01M261.8 318.8h.01M260.1 330.4h.01M261.4 324.6h.01M249.7 319.4h.01M247.9 326.1h.01M265 323.5h.01M259.7 319.5h.01M261.6 325.4h.01M257.6 327.8h.01M248.1 320.1h.01M261.5 327.2h.01M259 323h.01M247.1 321.5h.01M264.9 322.8h.01M249.3 319.4h.01M260.3 327.1h.01M262.6 319.5h.01M264.9 328.6h.01M255.5 317.7h.01M253.7 315.4h.01M261.4 329.3h.01M260.6 326.5h.01M244.2 321.3h.01M245.2 327.4h.01M243.5 321.9h.01M257.5 316.1h.01M261.7 321.4h.01M248.6 318.3h.01M262 325.4h.01M245.7 325.3h.01M254.8 330.3h.01M244.2 322.1h.01M244.3 326.2h.01M259.2 314.4h.01M259.6 317.3h.01M244.2 328.6h.01M244.4 324.6h.01M264.4 324.1h.01M261.6 316.4h.01M260.2 317.1h.01M244.1 323.6h.01M259.5 330.4h.01M262.3 318.6h.01M258.5 320h.01M262.6 328.3h.01M253.6 330.3h.01M262.4 320.2h.01M254.1 316.5h.01M243.6 330h.01M246.1 318.7h.01M252.1 314.1h.01M248.1 328.4h.01M246 325.9h.01M254.2 313.4h.01M263.4 321.4h.01M249.5 316.5h.01M259.8 326.8h.01M240.9 328.4h.01M248.7 330h.01M258.3 327.7h.01M264.3 322.9h.01M260.5 316.9h.01M243.4 321.8h.01M252.6 313.8h.01M243.8 329h.01M258.9 315.9h.01M259.6 326.4h.01M244.9 329h.01M260.8 329.5h.01M254.9 329.8h.01M245 325.3h.01M245.8 327.9h.01M250.6 326.8h.01M261.5 328.2h.01M251.8 329.5h.01M245 326.5h.01M261 329.6h.01M247.3 315.6h.01M257.2 316.5h.01M244.2 324.8h.01M251.1 317.9h.01M248 328h.01M245.6 324.2h.01M250 329h.01M262.3 321.1h.01M254.5 314.3h.01M265 325h.01M254.8 313.8h.01M261.4 326.3h.01M261.4 328.6h.01M249.8 326.4h.01M250 328.3h.01M260.7 315.8h.01M265.2 324.8h.01M253.8 315.9h.01M259.5 316.8h.01M256.7 320.8h.01M261 322.8h.01M261.9 321.1h.01M248 326.2h.01M259.6 313.4h.01M264.8 324.2h.01M259.8 316.8h.01M260.1 322.4h.01M248.2 317.7h.01M259.2 317.2h.01M243.2 322.3h.01M249.1 318.3h.01M261.6 325.4h.01M243.5 326.8h.01M245.6 323.7h.01M261.2 316.6h.01M245.1 328h.01M247.3 316.5h.01M251.3 318.1h.01M261.4 318h.01M246.9 329.5h.01M244.4 325.5h.01M262.3 329h.01M264.9 326.7h.01M259.3 327.5h.01M254.9 314.5h.01M262.7 317.9h.01M245.6 330.2h.01M249.4 314.2h.01M259.2 314.5h.01M256.9 329h.01M242.1 322.3h.01M253.7 327.7h.01M248.3 325.9h.01M249.4 318h.01M261.8 328.8h.01M261.6 320.1h.01M255.3 312.9h.01M244.5 324.3h.01M245.4 323.9h.01M241.3 328.5h.01M248.3 329h.01M264.1 315.8h.01M261.4 322.5h.01M254.1 315.1h.01M242.7 324.8h.01M254.1 316.5h.01M254.4 312h.01M265.9 323.3h.01M261.7 324h.01M262.9 323.8h.01M263.4 322.9h.01M243.8 325.1h.01M260.7 317h.01M251.6 314h.01M251 327.9h.01M241.8 323.3h.01M259.2 320.4h.01M258.3 317.5h.01M261.9 315.1h.01M245.6 318.6h.01M256.9 316.3h.01M259.4 325.3h.01M264.7 323.5h.01M251.2 316.2h.01M260.9 327.8h.01M252.5 328.5h.01M244.1 328.3h.01M259.4 329.8h.01M263 329.8h.01M259.9 327h.01M263.3 324.2h.01M246 320.3h.01M253.6 317h.01M261.8 322.7h.01M254.5 327.5h.01M243.5 330h.01M259.7 320.8h.01M260.1 327.3h.01M259.8 329.1h.01M246.7 321.7h.01M252.4 329.8h.01M264.1 321.4h.01M243.1 324.6h.01M241.6 326.8h.01M249.7 312.9h.01M261.6 327.5h.01M247.5 324.4h.01M246 321.8h.01M251.9 317.6h.01M260.2 325.7h.01M242.6 321.5h.01M246.4 321.4h.01M244.8 315.4h.01M263.7 324.7h.01M261.5 329.3h.01M245.7 329.4h.01M245.8 316.4h.01M262.2 327h.01M246.5 321.7h.01M261.9 322.9h.01M260.7 325.8h.01M252.7 316.5h.01M249.3 316.8h.01M259.5 329.6h.01M249.7 316.7h.01M243.6 322.7h.01M258.2 325.8h.01M242.7 322.4h.01M246 325.7h.01M248 328.6h.01M247 329.1h.01M248.2 319.5h.01M266.3 324.7h.01M246.3 318.4h.01M245.5 328.2h.01M261.7 317.3h.01M244.5 318.7h.01M245.4 321h.01M256.6 315.8h.01M247.9 320h.01M257.5 329.5h.01M247.1 329.9h.01M263.5 328.7h.01M250.8 329.7h.01M262.6 325.8h.01M247.4 317.9h.01M258.5 318.6h.01M258 330.4h.01M246.1 318.3h.01M265.5 321.9h.01M251.3 329h.01M257.5 316.6h.01M242.1 323h.01M249.5 318.7h.01M263.5 323h.01M261.7 319h.01M257 322.4h.01M261 317.3h.01M243.9 326.9h.01M259.6 320.2h.01M263 323.9h.01M245 322.4h.01M249.3 317.6h.01M260.9 322.8h.01M249.5 326.7h.01M261.7 322.4h.01M246.2 325.8h.01M245.8 318.6h.01M261.5 316.1h.01M251.5 328.3h.01M263.3 324.7h.01M261.3 330h.01M262.8 319.1h.01M243 327.3h.01M259.4 328.9h.01M257.7 316h.01M248.3 314.9h.01M249 318.5h.01M260.3 319.5h.01M259.4 317.9h.01M255.1 329.2h.01M262.2 317.6h.01M259.4 326.3h.01M244.5 321.9h.01M258.9 330.3h.01M252.2 313.9h.01M252.8 329.2h.01M262.3 325.9h.01M240.6 325.8h.01M250.4 323.8h.01M243.2 329h.01M245.8 325.1h.01M241 329.1h.01M243.9 326.4h.01M261.7 324.5h.01M256.3 326.1h.01M265.8 328.6h.01M251 324.6h.01M263.7 325.7h.01M251.1 322.9h.01M260.4 325.6h.01M262.7 326h.01M243.8 328.1h.01M244.1 329.3h.01M253 329.3h.01M263.9 329.1h.01M263.4 328.6h.01M247 327.2h.01M245.4 325h.01M264.7 326.6h.01M247.1 321.6h.01M243.9 326.1h.01M244.5 327.3h.01M264.4 325h.01M261.2 325.8h.01M243.4 327.7h.01M249.2 329.7h.01M242.4 327.7h.01M250.6 329.9h.01M256.4 323.9h.01M250 326h.01M250.5 326.4h.01M265.4 327.7h.01M241.8 327.7h.01M244.4 325h.01M256.1 328.2h.01M248.2 324.9h.01M242.5 328.9h.01M262.5 327.8h.01M260.7 324.5h.01M259.2 324.1h.01M243.7 326.6h.01M243.1 327.3h.01M247 324.9h.01M242.4 326.8h.01M244.9 326.1h.01M261.5 324.3h.01M262 326.7h.01M261.3 326.4h.01M247 330h.01M254.5 325.4h.01M265.2 327.5h.01M255.4 326.3h.01M241.8 328.5h.01M261.9 329.7h.01M261.3 327.2h.01M240 329.6h.01M242.3 329.7h.01M262.1 329h.01M257.8 324.6h.01M257.7 325h.01M260.1 325h.01M247.9 328.4h.01M265.3 327.5h.01M262.8 325.9h.01M253.9 328.9h.01M258.4 330.4h.01M259 329.8h.01M263.5 326.8h.01M244.3 330.1h.01M265.6 327.4h.01M242.5 328.9h.01M262.2 326.6h.01M262.2 328.1h.01M241.2 328.8h.01M249 323.4h.01M264.2 324.3h.01M243.4 329.1h.01M262.7 328.8h.01M256.2 323.7h.01M263.5 328.6h.01M250.3 322.7h.01M258.1 325.4h.01M261.5 327h.01M264.1 327.1h.01M243 328.5h.01M255.4 324.2h.01M259 325.5h.01M242.4 328.3h.01M244.2 327.2h.01M242.2 329.9h.01M241.9 327.5h.01M246.2 328.6h.01M262.8 328.6h.01M243.7 324.3h.01M247.7 325h.01M263.3 326.7h.01M243.9 329.1h.01M255.4 328.3h.01M259.1 326.5h.01M259.2 304.1h.01M248.8 322.1h.01M259.4 296.8h.01M249.8 315.7h.01M254.3 325.7h.01M247.4 318h.01M254.4 325.4h.01M248.8 316.1h.01M248.3 315.5h.01M254.2 319.9h.01M250.2 315.7h.01M253.7 314.8h.01M264.9 316.4h.01M253.6 312.3h.01M246.3 322.8h.01M255.5 319.3h.01M247 317.1h.01M260.4 298.5h.01M250.4 308.5h.01M255.2 319.8h.01M249.8 312.9h.01M247.6 320.1h.01M252.8 311h.01M255.9 316.3h.01M238.9 321.5h.01M252.1 329.2h.01M243.7 317.8h.01M248.8 321.8h.01M257.2 320h.01M246.9 303.6h.01M249.1 320.9h.01M247.3 322.9h.01M256 298.1h.01M257.8 314.6h.01M254.3 320.9h.01M265.5 318.6h.01M251.1 306.8h.01M258.8 305.8h.01M254.6 325.5h.01M261.9 320.2h.01M256.1 324.2h.01M247.1 323.7h.01M245.8 323.1h.01M244.6 321.7h.01M250.6 303.1h.01M249.6 326.4h.01M255.4 312.5h.01M250.3 327h.01M248.9 320.1h.01M260.7 318.9h.01M252.6 315.5h.01M239.4 318.1h.01M248.4 321.1h.01M255.5 319.4h.01M261 310.6h.01M251 294h.01M238.5 314.7h.01M259.7 315.7h.01M250.9 321.5h.01M254.7 325.3h.01M258.1 304.8h.01M246.4 308.4h.01M245.3 305.4h.01M241.1 311.9h.01M246 320.7h.01M261.6 319.2h.01M262.7 316h.01M261.4 323.7h.01M251.7 319.1h.01M262.1 316.7h.01M269 321.4h.01M260.1 327.5h.01M246.1 322.2h.01M253.2 320h.01M244.7 320.6h.01M249.1 327.4h.01M244.9 316.1h.01M255.5 323.4h.01M260.2 309.4h.01M252.4 311.9h.01M238 308.5h.01M254.2 323.3h.01M257 302.9h.01M253.3 330.2h.01M244.2 312.6h.01M257.5 320.1h.01M257.7 306.4h.01M251.5 326.9h.01M251.6 321.8h.01M245.6 318.8h.01M244.7 301.9h.01M244.9 304.5h.01M244.9 302.7h.01M259.5 316.3h.01M250.5 317.1h.01M256.1 312.8h.01M252.6 324.2h.01M252.2 322.2h.01M251.7 328.5h.01M264.8 315.7h.01M249.4 296.5h.01M252.3 317.7h.01M257.8 316.3h.01M252.6 311.7h.01M267.6 309.8h.01M260 307.6h.01M250.3 328.9h.01M254.1 304.1h.01M241.4 319.3h.01M255.7 313h.01M247.6 319.8h.01M251.6 322.1h.01M243.8 316.5h.01M251.9 308.6h.01M247.7 307.5h.01M257.4 327.8h.01M262.6 323.9h.01M255.5 321h.01M259.2 312.2h.01M248.4 318.5h.01M245.9 323h.01M257.5 321.7h.01M244.2 320.2h.01M252 324.9h.01M259.1 328.8h.01M247.3 322.5h.01M250.8 318.4h.01M249.6 322.3h.01M251.8 329.3h.01M251.3 312.3h.01M261.9 313.9h.01M262.6 321.2h.01M255.1 326.1h.01M258.3 323.4h.01M255.6 304.8h.01M248.1 313.7h.01M247.8 317.9h.01M258.5 318.7h.01M253.8 318.6h.01M263.1 305.6h.01M259.4 313.2h.01M247.4 316.2h.01M259.1 317.9h.01M258.2 303.2h.01M251.7 320.3h.01M243.5 305h.01M247.5 299h.01M257.3 316.4h.01M262.9 307.4h.01M253.2 319.5h.01M256 313.8h.01M245.9 314.5h.01M261.9 304.6h.01M251.3 308.7h.01M245 291h.01M244.7 320.6h.01M249.8 328.4h.01M255.7 324.4h.01M245.2 307.7h.01M247.8 329h.01M254 309.9h.01M257.1 318.6h.01M254.8 327.9h.01M254.8 320.3h.01M265.9 321h.01M257.6 321h.01M251.3 311.5h.01M249.4 326.7h.01M262 300.8h.01M250.1 313.3h.01M251.8 321.7h.01M254.2 308.4h.01M247.3 313.1h.01M263 309.7h.01M258.7 314.7h.01M253.6 320.5h.01M255.5 319.9h.01M258 328.5h.01M238.1 307.9h.01M260.1 308.7h.01M250.8 317.3h.01M255.3 306.2h.01M250.2 322.5h.01M261.6 315.9h.01M250.8 319.8h.01M250.5 298.6h.01M268 314.9h.01M244.8 305.4h.01M244.5 319h.01M253.5 319.7h.01M251.7 319.5h.01M255.1 310.7h.01M254 307.9h.01M247.6 320.2h.01M256.2 313.3h.01M256.2 301.9h.01M254.9 312.7h.01M252.5 323.9h.01M257.4 313.8h.01M263.2 302.5h.01M246.6 316.9h.01M248.7 308.1h.01M250.7 319.2h.01M253.5 324.5h.01M253.4 321.5h.01M252.1 296.2h.01M251.8 309.5h.01M256.7 308.5h.01M248.4 319.3h.01M258.7 310.8h.01M260.9 319.7h.01M238.4 302.6h.01M260.8 320.9h.01M245.1 328.8h.01M264.4 319.6h.01M256.7 324.8h.01M264.4 316.7h.01M257 312.5h.01M256.6 303.6h.01M247.2 312.6h.01M248 313.5h.01M256.6 320.9h.01M248.6 323h.01M248.6 324.4h.01M255.3 288.6h.01M261.8 310.6h.01M251.8 304.5h.01M254.4 316.3h.01M249.5 322.7h.01M271.8 308.9h.01M255.8 323.3h.01M254.2 317.7h.01M250.2 309h.01M258.2 308.2h.01M251.8 306.1h.01M251.2 324.4h.01M242.7 301.2h.01M255.6 314h.01M252.7 322.7h.01M247.1 317.2h.01M248.9 329.8h.01M254.4 322.9h.01M261.2 323.5h.01M255.7 318.2h.01M247.5 311.3h.01M261 302.1h.01M257.7 323.9h.01M239.7 324.6h.01M259.8 320.9h.01M250.7 319.4h.01M247.9 310.8h.01M255.2 312.2h.01M246.9 321.4h.01M259.4 316.6h.01M245.5 320.7h.01M251 318.1h.01M243.7 314.7h.01M250.9 313.1h.01M250.5 311.6h.01M253.5 314.6h.01M253.1 315.8h.01M248.5 317.3h.01M251.6 310.5h.01M254.9 314.9h.01M255.2 300.9h.01M251.2 303.9h.01M260.9 325.2h.01M252 307.9h.01M257 309.5h.01M249.4 312.1h.01M258.5 312.3h.01M247.3 317.8h.01M260.8 304.6h.01M257.6 319.4h.01M245.3 316.7h.01M245.5 328h.01M249.5 319.3h.01M262.7 306.2h.01M248.3 320.9h.01M254.7 319.8h.01M252.9 310.8h.01M245.1 307.1h.01M250.5 298.6h.01M246.8 308.9h.01M250.8 325h.01M243.5 322.5h.01M250.6 322.6h.01M251.4 328h.01M264.9 311.5h.01M250.4 311.9h.01M248.3 297.5h.01M257.3 318.6h.01M249.6 311h.01M258.4 305.8h.01M245.2 325.1h.01M255.8 320.9h.01M244.8 305.2h.01M262.9 318.2h.01M266.6 322.9h.01M253.8 306.8h.01M249.3 321h.01M257.2 321.3h.01M265.3 317.7h.01M246.2 321.5h.01M252.9 310.3h.01M263 325.9h.01M238.8 296.3h.01M263.6 327.4h.01M252.1 327.2h.01M257.3 310.5h.01M260.1 318.4h.01M248.5 329.1h.01M256.1 310.4h.01M254.6 324.9h.01M261.1 326.1h.01M246.7 294.6h.01M247.9 325.4h.01M249.1 315.2h.01M255 324.2h.01M252.5 308.2h.01M253 309.2h.01M253.5 310.9h.01M252.5 321.6h.01M259.7 316.1h.01M252.2 306.3h.01M255.5 320.2h.01M252.1 292.2h.01M259.2 305.2h.01M247.5 323.7h.01M254.1 327.9h.01M252.9 307.9h.01M262 311.3h.01M259.4 313.3h.01M249.4 304.9h.01M268.5 299.4h.01M259.8 322h.01M249.4 306.7h.01M251.2 316h.01M260.8 303.8h.01M250 313.8h.01M257.3 314.7h.01M257.8 328.1h.01M258.1 319.9h.01M248.7 303.8h.01M247.7 312.8h.01M249.9 328.3h.01M252.9 309h.01M243 310.1h.01M249.7 313.4h.01M252.5 312.2h.01M255 328.1h.01M256.1 323h.01M245.1 317.9h.01M243.8 320.7h.01M248.7 320.5h.01M244.2 312.2h.01M261.5 319h.01M270 309.9h.01M241.1 293.3h.01M254.3 319.3h.01M252.1 313.6h.01M259.4 325.8h.01M259.1 314.5h.01M265.7 294h.01M258.8 312.3h.01M241.1 317h.01M256.8 306h.01M253.1 319.3h.01M252.1 308.9h.01M243.9 313.5h.01M246.9 295.1h.01M254.9 312.1h.01M248.2 303.3h.01M249.3 302h.01M236.1 322.6h.01M244.3 312.7h.01M248.8 320.3h.01M251.6 319h.01M260.7 319.1h.01M251.8 321.5h.01M249.4 322.4h.01M255.2 305.4h.01M261.9 319.1h.01M262 310.8h.01M249 317.2h.01M254 309.8h.01M252.5 300.4h.01M254.9 305.7h.01M255.5 317.4h.01M275.7 319.9h.01M250.4 312.1h.01M252.7 313h.01M257.6 306.7h.01M255.7 302.5h.01M251.2 321.4h.01M248.6 313.8h.01M254.7 325.8h.01M256.6 325.4h.01M248.4 319h.01M253.9 322.1h.01M269.4 301.9h.01M260.7 314.3h.01M238.3 319.6h.01M260.5 310.9h.01M242.8 316h.01M254.3 321.9h.01M262.2 308.6h.01M251.3 308h.01M250.6 321.3h.01M250.4 326.9h.01M260.2 317.4h.01M246.9 321h.01M251.6 318.2h.01M250.6 315.1h.01M248.5 309.4h.01M254.4 294.8h.01M257.9 312.3h.01M264.2 311.1h.01M249.7 313.1h.01M254.5 302.5h.01M249.5 293h.01M262.2 270.4h.01M259.1 307.6h.01M249.6 298.6h.01M259.7 317h.01M258.7 284.9h.01M258.7 295.5h.01M252.3 307.7h.01M253.3 261.9h.01M250.6 291.3h.01M255.7 291.9h.01M250.3 302.6h.01M256.6 329.2h.01M258.6 301.4h.01M253.2 297.9h.01M253.5 308.8h.01M252.7 286.8h.01M259.7 277.5h.01M254.8 303.9h.01M245.4 317.8h.01M257.2 296.6h.01M248.7 312.5h.01M253.6 295.8h.01M258.2 300h.01M239.3 307.1h.01M250 319.4h.01M249.5 296.8h.01M245.3 311.9h.01M249.7 279.7h.01M255.6 289.9h.01M249 310.3h.01M256.1 291.8h.01M258.4 307.6h.01M251 273.1h.01M246.5 296.1h.01M258 297.1h.01M246.7 310.2h.01M256.1 317.4h.01M256.2 289.3h.01M259.4 306.6h.01M253.8 271.6h.01M254.2 297.6h.01M254.6 281.5h.01M258.8 257h.01M254.9 290.8h.01M257 317.2h.01M251.1 298.4h.01M254.7 304.1h.01M255.8 273.6h.01M254.2 284.3h.01M259.7 297.8h.01M244.9 286.5h.01M252.1 313h.01M248.9 281.6h.01M251 305.2h.01M260.7 307.8h.01M251.6 289.9h.01M249.4 300.9h.01M260.4 301.7h.01M249.1 280.8h.01M254.8 293.9h.01M236.6 301.1h.01M258.2 290.7h.01M253.4 297.6h.01M249.2 322h.01M250.1 277.3h.01M251.8 292.2h.01M258.7 289.4h.01M248.5 273.8h.01M255.5 292.2h.01M257 279.4h.01M252.7 252.2h.01M255.8 325.3h.01M253.7 288.6h.01M255.2 291.2h.01M257.3 309.1h.01M255.4 271.2h.01M265.2 315.9h.01M251.2 315.4h.01M244.7 288.4h.01M239.1 312.2h.01M253.5 325.6h.01M252.1 259.8h.01M266.1 302.8h.01M258.9 281.4h.01M255.6 289.6h.01M252.9 286.5h.01M249.2 270.4h.01M255.7 310.5h.01M247.1 292.2h.01M260.1 325.2h.01M247.4 301h.01M246 281.7h.01M260.1 270.2h.01M248.4 289.5h.01M247.9 287.2h.01M250.2 293.3h.01M249 314.2h.01M244.8 281.2h.01M251.6 293.2h.01M254.1 326.6h.01M251.1 325.3h.01M253 319.7h.01M250.7 311.2h.01M260.3 279.9h.01M252.1 312.9h.01M258.3 290.8h.01M253.3 302.8h.01M260.3 287.7h.01M247.1 295.9h.01M255 314.6h.01M253.5 296.8h.01M257.2 294.5h.01M252.4 288.7h.01M247.7 287.6h.01M264 298.5h.01M243.2 265.7h.01M251.3 297.7h.01M260.1 262.2h.01M258.8 322h.01M250 304.1h.01M250.9 292.9h.01M259.5 287.6h.01M257.7 292.8h.01M252.5 319.6h.01M259.6 282.4h.01M260.1 295.4h.01M249.5 301.9h.01M254.5 291.8h.01M261.1 307.9h.01M257.7 293.1h.01M248.8 300.9h.01M272.8 317.5h.01M253 298.4h.01M251.6 295h.01M256.5 289h.01M250.9 305.7h.01M248.2 306.4h.01M265.8 292.1h.01M254.6 299h.01M257.8 299.3h.01M253 266.8h.01M255.6 305.9h.01M257.2 291.3h.01M251.9 287.7h.01M247.5 282.1h.01M256.7 294h.01M255.6 283.4h.01M252 318.5h.01M255.9 307h.01M251.4 276.5h.01M258.3 306.4h.01M250.5 320.4h.01M250.6 287.6h.01M247.7 294.2h.01M255.4 311.4h.01M255.7 294.2h.01M255.8 290.6h.01M249.1 314.8h.01M259.1 295h.01M255.4 269.5h.01M247.7 304.7h.01M248.6 297.1h.01M248.4 294.7h.01M262.8 296.1h.01M262.5 256.2h.01M261.4 301.7h.01M257.2 282.7h.01M260.9 313.2h.01M252.3 295.3h.01M252.2 273.4h.01M247.6 269.6h.01M258.5 298.9h.01M255.2 275.8h.01M252.9 267.8h.01M257.8 281.7h.01M252.2 325.7h.01M261.9 284.5h.01M258.5 289.4h.01M261.4 315.2h.01M253.3 284.4h.01M258.4 284.6h.01M248.3 300.1h.01M244.2 296.4h.01M251 293.2h.01M257.4 310.7h.01M250.1 295.7h.01M259.2 292.2h.01M257.9 309.6h.01M252 290.9h.01M246.5 289.7h.01M255.3 310.3h.01M260.4 311.9h.01M255.1 318.3h.01M252.4 304.8h.01M254.8 315h.01M245 286.1h.01M247.1 300.6h.01M248.2 301.4h.01M251.5 293.8h.01M259.5 275.4h.01M254.5 303.7h.01M263.2 327h.01M258.7 283h.01M243.3 316.8h.01M252.1 286.8h.01M249.1 283.5h.01M245 325.2h.01M251.6 307.4h.01M257.6 295.2h.01M259 289.4h.01M250.6 285.7h.01M244.1 283.2h.01M251 290.2h.01M253 296.9h.01M248.8 288.1h.01M248.3 323.7h.01M251.8 286.5h.01M259.5 312.2h.01M240.2 286.9h.01M264.4 313.3h.01M259.8 320.2h.01M258.3 296.5h.01M244.1 301h.01M254.9 297.7h.01M245.5 303.2h.01M261.7 315.7h.01M252.1 296.4h.01M256 293.4h.01M245.2 301.9h.01M252.5 299.9h.01M253.2 281.3h.01M257.6 269.1h.01M252.5 277.3h.01M262.2 322.3h.01M258.5 289.2h.01M252.4 299.5h.01M255.9 304.8h.01M250 302.8h.01M257.3 285.4h.01M253.1 267.7h.01M252.1 311.1h.01M258.1 282.6h.01M256 300.2h.01M254.3 283.9h.01M248.4 306.9h.01M247 307.4h.01M257 317.4h.01M256.5 288.9h.01M245.8 290.7h.01M250.4 282.9h.01M248.1 292.3h.01M256.5 292.4h.01M253.7 311.3h.01M255.3 324.6h.01M260.3 315.4h.01M258.2 302.5h.01M256.5 311.1h.01M251.7 315.5h.01M252.8 282.6h.01M247 276.7h.01M256.6 297.1h.01M257.3 292h.01M254.7 307.9h.01M259.6 299.7h.01M263.5 280.7h.01M254.3 291.5h.01M256.1 294.2h.01M243.3 303.8h.01M247.6 309h.01M252.1 308.2h.01M242.4 315.5h.01M252.6 292.5h.01M247.9 321h.01M257.9 307.7h.01M252.7 279.1h.01M247.7 258.8h.01M249.7 289.7h.01M251.2 314.4h.01M253.4 276.3h.01M248.2 328.9h.01M247.2 304.9h.01M253.6 298.3h.01M250.9 321.1h.01M253.7 279.1h.01M255 264.4h.01M262.2 325.7h.01M251.3 289.9h.01M257 316.8h.01M256.7 313.9h.01M259.1 303.3h.01M254.2 273.5h.01M252.4 302.9h.01M246.8 263.7h.01M254.5 289.5h.01M253.3 330h.01M254.4 292h.01M255 293.6h.01M257.2 304.7h.01M249.3 329.8h.01M251 297h.01M249 274.3h.01M253.5 310.1h.01M250.6 298.1h.01M253.6 299.1h.01M255.6 300h.01M254.6 292.5h.01M251.3 316.5h.01M245 322h.01M260 289.8h.01M256.1 299.5h.01M257.6 300.6h.01M265.4 313.5h.01M248.7 306.5h.01M252.8 289.7h.01M250.9 295.5h.01M252 283.2h.01M261.8 310h.01M246.7 293h.01M255.2 316.1h.01M250.4 319.4h.01M260.8 282.5h.01M240.8 278.6h.01M254.3 305.5h.01M254.9 289.1h.01M248 292h.01M250.8 300.7h.01M261.9 304.8h.01M256.6 319h.01M259 300.8h.01M251.5 306h.01M257 284h.01M249.4 293.1h.01M246.2 306.1h.01M253.1 276.8h.01M251.6 277.2h.01M253 320h.01M251.3 290.7h.01M249.6 304.6h.01M247.8 283.3h.01M252.9 319.9h.01M263.3 305.8h.01M254 259.7h.01M256.6 294.3h.01M239.9 294.1h.01M262.7 307.6h.01M267.9 310.2h.01M252.7 295.2h.01M240.9 311.9h.01M245.1 275h.01M245 287h.01M246.6 281.2h.01M248.9 283.6h.01M259.5 313.9h.01M255 324.4h.01M250.8 281.1h.01M247.5 280.1h.01M248.6 321.9h.01M243.6 283.2h.01M256.5 315.7h.01M246.5 315.6h.01M247.5 290.5h.01M250.4 294.3h.01M254.6 316.7h.01M246.7 308.9h.01M251.7 278.2h.01M251.8 308.5h.01M252.1 297.8h.01M242.3 287.2h.01M255.3 316.2h.01M255.4 283.5h.01M263.4 298.5h.01M255 299.3h.01M261.8 298.8h.01M252.9 329.3h.01M263.6 315.8h.01M253.5 291.7h.01M261.2 312.9h.01M256.1 303.2h.01M246.7 293.1h.01M258.9 280.7h.01M245.3 311.7h.01M254.2 306h.01M248.4 284.1h.01M245.2 303.2h.01M256.8 330h.01M262.8 285.1h.01M252.3 270.8h.01M254.2 305.1h.01M254.3 285.6h.01M253.9 297.8h.01M252.4 294.5h.01M251.3 270.4h.01M250.8 307.7h.01M244.8 302.5h.01M256 320h.01M249.2 270.2h.01M249 314.7h.01M254.5 260.4h.01M254.7 271.7h.01M247.7 326.5h.01M251.2 291.9h.01M260.3 317.7h.01M250.6 299.6h.01M258.4 290.9h.01M256.2 297.9h.01M243.4 278.8h.01M252.5 311.1h.01M254.5 328h.01M263.7 289.2h.01M254.5 308.6h.01M251 290.7h.01M254.5 300h.01M249.9 296.8h.01M260.4 282.6h.01M254 277h.01M251.3 295.2h.01M250.2 299.4h.01M254.2 306h.01M256.5 291.8h.01M255.6 305.5h.01M258.2 306h.01M248.9 292.4h.01M250.2 298h.01M260.4 315.4h.01M252.8 309.1h.01M245.5 296.6h.01M262.4 315.6h.01M259.1 294h.01M259.3 303.5h.01M260.9 304.1h.01M252 273.5h.01M254.7 275.2h.01M247.8 298h.01M247.5 281.7h.01M256.1 302.2h.01M254.7 299.6h.01M257.2 272.2h.01M251.2 294.7h.01M246.5 280.3h.01M254.7 303.9h.01M261.4 313.5h.01M258.9 295.5h.01M250.3 292.3h.01M251.6 301.5h.01M251.2 318.6h.01M258.2 272h.01M253.1 305.9h.01M260.3 310.3h.01M254.6 307.2h.01M244.5 300h.01M250.9 290.6h.01M258.1 307.7h.01M253.1 295.5h.01M255.6 316.2h.01M254.6 314.4h.01M257.2 257.9h.01M253.9 300.4h.01M256.8 295.4h.01M255 279.5h.01M250.8 292.5h.01M245.7 286.4h.01M250.4 298.8h.01M258 311.8h.01M248.7 288.6h.01M261.6 276.2h.01M254 314.1h.01M254.6 310.9h.01M253.1 275h.01M255.7 285.5h.01M249.8 303.7h.01M252.2 295.5h.01M247.6 310h.01M254.1 294.4h.01M242.8 276.5h.01M249.6 289h.01M251.7 277.9h.01M259.4 307.3h.01M250.9 289.4h.01M254.9 314.6h.01M253.5 288.6h.01M252.1 297.9h.01M251.3 318.6h.01M258.3 283h.01M255.7 310.8h.01M243.7 290.5h.01M258 283.7h.01M248.7 317.4h.01M248.2 315.8h.01M248.1 299.2h.01M252.7 306.6h.01M253.8 277.1h.01M254.8 289.8h.01M249.3 311.2h.01M246.2 280.6h.01M255 306.3h.01M248.7 287.9h.01M253 279.3h.01M251 292.3h.01M255.6 283.8h.01M257.8 306.5h.01M241.7 292.6h.01M251.4 281.5h.01M259.7 305.5h.01M245.9 280.1h.01M255.6 282.9h.01M247.1 297.4h.01M254 294.1h.01M259 301.7h.01M260.1 292h.01M257.8 281.7h.01M248.5 297h.01M246.6 284.6h.01M252.4 277.8h.01M261.8 320.7h.01M261.4 294.5h.01M248.5 301.7h.01M246.6 295.7h.01M255.6 315h.01M270.7 312.4h.01M249 312.4h.01M248.8 283.7h.01M254.8 268.7h.01M259.8 306.1h.01M243.4 294.8h.01M261.8 307h.01M250.4 274.9h.01M247.4 308.8h.01M254.3 277.4h.01M251.9 284.4h.01M252.3 302.3h.01M243.7 321.7h.01M259.8 310.1h.01M259.3 299.3h.01M247.9 326.6h.01M252.2 298.8h.01M249.8 299h.01M263.1 286.6h.01M249.3 289.7h.01M248.2 296.1h.01M249.7 320.3h.01M253.1 295h.01M250.4 298.9h.01M247.6 271.3h.01M254.9 288.6h.01M247 285.4h.01M254.7 293.7h.01M257.4 282.2h.01M257.4 299.4h.01M253.1 290.5h.01M251.5 303.6h.01M245.5 292.6h.01M247.8 274.8h.01M236.2 312.7h.01M247.1 311.6h.01M245.2 308.8h.01M258.8 296.8h.01M249.6 277h.01M263.3 322.2h.01M248.1 308.1h.01M245.6 306.2h.01M255.8 304.6h.01M261.8 308.4h.01M259 265.9h.01M258.7 292.8h.01M252.3 293.5h.01M255.7 278.9h.01M245.4 286.7h.01M246.2 300.9h.01M260.3 295.6h.01M253.9 299.7h.01M256 285.8h.01M258.1 292.2h.01M255.3 292.1h.01M257.1 324.1h.01M251.1 292.8h.01M235.1 269.5h.01M248.4 316.6h.01M251.9 312h.01M257 275.6h.01M255.7 273.1h.01M260.4 296.4h.01M245.3 285.8h.01M251.2 304.3h.01M251.3 307.8h.01M249.5 306.7h.01M252.7 284.6h.01M248.9 310.9h.01M252.1 277.2h.01M247.5 285.4h.01M256.5 302.5h.01M252.5 273.2h.01M245.8 274.2h.01M238.7 302.3h.01M256.5 299.6h.01M250 325.6h.01M245.2 280.2h.01M248.1 288.3h.01M246.7 326.9h.01M255.7 283.6h.01M243.2 294.3h.01M249.1 290h.01M255.1 297.6h.01M241.4 302.8h.01M253.6 305.6h.01M243.1 323.7h.01M250.9 305.1h.01M251.6 325.6h.01M249.4 283.1h.01M256.8 271.4h.01M257.2 310.7h.01M256.2 306.7h.01M252.3 303h.01M240.3 287.2h.01M259.1 291.7h.01M249 320.8h.01M257.8 312.1h.01M251.1 305.6h.01M261.1 318.5h.01M263.3 281.4h.01M249.9 326.5h.01M238 310.6h.01M243.3 298.9h.01M248.4 277.6h.01M255.3 292.4h.01M256.6 313.8h.01M260.3 287h.01M244.6 302.8h.01M265.9 292.8h.01M254.7 311.9h.01M243.9 282.8h.01M256.1 290h.01M254.4 312.6h.01M251.8 291.1h.01M250.8 288h.01M261.9 293.3h.01M261.5 302.8h.01M252.6 311.2h.01M251.8 284.1h.01M254 311.8h.01M265.5 318.3h.01M261.2 311.7h.01M261.2 278.3h.01M260.7 308.7h.01M256.1 274.3h.01M250.1 299.8h.01M254.2 288.1h.01M247.8 318.4h.01M261.1 305.6h.01M260.2 295.3h.01M255.1 292.1h.01M250.6 304.9h.01M258.7 276.5h.01M259.2 287.4h.01M257.9 305.8h.01M261.4 307.3h.01M239.8 275.6h.01M250.4 275.3h.01M263.2 312h.01M259 290h.01M247.6 298.1h.01M256.2 318.5h.01M253.5 316.2h.01M252.9 264.3h.01M258.2 303.4h.01M252.6 268.6h.01M240.3 319.8h.01M249.2 259.5h.01M262.6 285.4h.01M246.6 299.8h.01M259.2 293.6h.01M253.8 289.8h.01M250.6 313.9h.01M264.7 301.2h.01M253.3 288.9h.01M255 294.4h.01M262.7 293.7h.01M251.6 314.1h.01M243.6 273.6h.01M259.7 280.2h.01M255 304.4h.01M248.5 330.4h.01M252.3 300.1h.01M257.3 290.6h.01M257.6 289.8h.01M252.1 313.8h.01M251.1 311.1h.01M260.5 293.2h.01M246.1 266.2h.01M251.4 314h.01M248.6 295h.01M265.7 295.5h.01M259.7 284.4h.01M260.2 303.6h.01M269 283.6h.01M253.8 320.7h.01M260.9 303.5h.01M258.6 328.4h.01M261 279.9h.01M260.4 291.1h.01M244.4 268h.01M250.7 308.2h.01M251 328.3h.01M242.3 298h.01M260.2 294.6h.01M252.8 290.6h.01M250.3 288.9h.01M254.7 279.8h.01M249.8 269.9h.01M253.4 298.4h.01M245.7 314.9h.01M250.5 306.8h.01M260.5 325h.01M252.7 263.2h.01M251 291.4h.01M256.4 288.1h.01M256 311.3h.01M258.5 312.2h.01M260.2 317.4h.01M251.6 299.9h.01M253.6 268.6h.01M246.2 298.1h.01M261.1 298.3h.01M256.7 285.4h.01M256.6 307.8h.01M254.2 295.5h.01M245.3 304.5h.01M260.3 304.7h.01M258.3 294.8h.01M249.9 301.6h.01M250.8 302.3h.01M255.1 277.3h.01M249.2 282.4h.01M259.4 304.2h.01M254.4 289.4h.01M254.9 308.1h.01M252.2 305.4h.01M254.4 286.8h.01M249.9 308.5h.01M247.3 283h.01M256.3 267h.01M248.2 290.1h.01M259.3 316.4h.01M246.7 274.2h.01M253.5 287h.01M265.8 295.9h.01M249.9 297.8h.01M260.1 297.8h.01M259.2 294.2h.01M260.7 284.1h.01M260.8 322.2h.01M255.1 309.6h.01M250.5 283.9h.01M257.7 313.9h.01M249.1 316.8h.01M254 292.6h.01M251.9 304.8h.01M246.9 277.8h.01M255.6 294.3h.01M253 298.7h.01M250.2 319.2h.01M256.2 300.2h.01M250.8 296.2h.01M250.8 308.4h.01M251.3 308.8h.01M257.9 329.4h.01M256.7 306.9h.01M245.8 280.9h.01M254.4 255.6h.01M255.6 283.9h.01M250 270.8h.01M252.1 311.3h.01M255.1 320h.01M253.6 299.3h.01M260 292.9h.01M253.7 298.4h.01M258 298.2h.01M247.5 284.5h.01M259.9 299.8h.01M257.6 274h.01M244.2 290.4h.01M258.2 277.2h.01M244.6 329h.01M261.1 271.1h.01M247.4 289.6h.01M246.8 318.6h.01M252.2 282.1h.01M258.4 312.1h.01M254.2 275.7h.01M258.6 265.7h.01M250.3 293.5h.01M255.1 308h.01M250.5 296.1h.01M267.8 304.6h.01M260.6 306.9h.01M259.2 283.4h.01M244.3 320.1h.01M246.8 303.9h.01M247.8 280.7h.01M249.7 265.6h.01M251.6 301.9h.01M246.8 306.1h.01M251.7 292.3h.01M250.5 276.4h.01M257.3 301.1h.01M256.1 292.2h.01M247.2 301h.01M259.3 298h.01M249.3 312.5h.01M249.6 277.8h.01M255.5 282.3h.01M257.8 290.2h.01M255.2 293.6h.01M261.3 310.8h.01M247.9 299h.01M255.5 281.3h.01M268.1 298.1h.01M244.7 298.7h.01M261.2 306.3h.01M264 307.3h.01M250.5 298.2h.01M250.1 314.3h.01M250.9 291.7h.01M270.4 273h.01M251.4 287.7h.01M244.3 300h.01M261.3 292.7h.01M249.9 310.3h.01M247.4 309.4h.01M250.9 286.1h.01M252.9 290h.01M262.1 297h.01M256.1 282.6h.01M247.9 292.5h.01M256.1 319.4h.01M257.2 281.6h.01M252.3 292.7h.01M257.4 299.7h.01M252.6 295.4h.01M256.7 292.8h.01M250.4 291.2h.01M253.4 301.2h.01M243.2 291.5h.01M254 276.5h.01M252.9 299.4h.01M250.8 288.5h.01M256.2 313.2h.01M253.6 269.2h.01M252.7 278.2h.01M245.1 303.1h.01M246.5 279.8h.01M248.2 307.3h.01M252.7 285.5h.01M245.8 295.2h.01M260.7 287.2h.01M255.4 288.2h.01M248.1 307.6h.01M258.1 303.6h.01M253 301.8h.01M252.9 317.4h.01M263.8 306h.01M251.5 277.1h.01M250.2 284.4h.01M253.1 276.7h.01M254.2 284.9h.01M252.8 299.2h.01M244.9 303h.01M260.1 298.8h.01M248 282h.01M251.7 302.8h.01M246.9 303.1h.01M251.6 298h.01M255 292.9h.01M260.7 317.4h.01M261.8 263.1h.01M255.5 259.7h.01M246 274.8h.01M258.7 305h.01M253.8 294.3h.01M257.4 313.1h.01M246.5 314h.01M253.1 267.4h.01M246.6 280.7h.01M256.9 281.2h.01M249.1 300.3h.01M264 301.3h.01M254.8 323.1h.01M252.6 311.8h.01M255.9 279.9h.01M249.5 275.8h.01M247.8 283.6h.01M254.2 308.8h.01M255.3 277.9h.01M254.2 295.4h.01M251.9 270.4h.01M255.7 251.4h.01M261.4 252.6h.01M257.2 274.9h.01M248.3 264.1h.01M240.6 259.8h.01M244.8 266.6h.01M235.8 270h.01M254.1 254.2h.01M255.6 258.6h.01M257 275.2h.01M246.7 271.2h.01M248.1 270.7h.01M252.6 273.8h.01M252.8 275.8h.01M251.8 263.7h.01M259.9 271.3h.01M255.2 270.2h.01M247.4 266.3h.01M260.7 272.1h.01M248.7 265.9h.01M256 267.2h.01M251.9 259.6h.01M244.6 265.4h.01M255.8 280.6h.01M243.1 247.9h.01M236.4 264.4h.01M244.7 259h.01M254.6 272.8h.01M252.7 271.9h.01M253.6 256.3h.01M255.1 253.3h.01M249.2 277.4h.01M252.3 257.4h.01M257.2 276.2h.01M244.9 265.3h.01M258.7 262.7h.01M249.1 264.6h.01M241.9 262h.01M248.6 259.5h.01M254.1 265.3h.01M251.2 283.3h.01M242.7 264.5h.01M248.8 269.8h.01M267.1 255.4h.01M244 271.8h.01M258.3 270.3h.01M252.5 267.8h.01M247.4 270.9h.01M251.6 285.7h.01M257.4 266.7h.01M246.4 261.6h.01M263.2 264.2h.01M258.7 262.7h.01M260 288.8h.01M249.3 264.1h.01M246 268h.01M253.1 263.2h.01M248.7 271h.01M250.6 264.2h.01M259.7 251.8h.01M258.9 283.4h.01M254 261h.01M256.7 256.1h.01M255 268.8h.01M248.2 261.8h.01M252.8 274.9h.01M245.5 273.8h.01M258.9 269.2h.01M250.4 263.8h.01M246.9 271.2h.01M255.8 262.4h.01M255.2 266.6h.01M246.7 253.8h.01M249.7 275.8h.01M244.4 263h.01M243.2 273.9h.01M254.7 267.9h.01M256.1 274.7h.01M261.2 272.8h.01M248.1 269.6h.01M246.9 269h.01M261.1 273.3h.01M244.9 276.4h.01M254.7 262.8h.01M254.6 270.4h.01M251.5 277.3h.01M262.8 261.5h.01M247.7 267.5h.01M243.4 256.6h.01M244.6 254.4h.01M260.2 259.5h.01M257.3 270.9h.01M256.3 260.2h.01M256.5 258.4h.01M254.3 268.6h.01M254.2 266.2h.01M255.4 280.6h.01M242.5 267.9h.01M255 269.3h.01M256.3 271h.01M252.9 265.8h.01M250 261.8h.01M241.7 253.5h.01M255.8 277h.01M256.5 258.8h.01M251.4 257.3h.01M249.8 252.8h.01M252.7 259.5h.01M257.2 258.3h.01M220 314.4h.01M231.7 322.9h.01M228.4 324.9h.01M223.7 312.8h.01M227.4 310.1h.01M231.2 314.6h.01M226.2 309.5h.01M219.2 319.2h.01M229.2 313.8h.01M227.5 314.4h.01M229.1 320.8h.01M231.9 320.3h.01M232.6 327.9h.01M223.8 317.5h.01M220.3 322.2h.01M232.2 322.6h.01M227.4 323h.01M226.5 322h.01M221.1 317.5h.01M225.1 315.7h.01M228.8 325.6h.01M228.1 319h.01M230.5 314.8h.01M233.2 320.4h.01M221.7 320.3h.01M224.2 314.2h.01M225.7 328.6h.01M228.2 322.9h.01M225.7 314.3h.01M217.9 322.5h.01M218.6 323.2h.01M217.1 319.8h.01M231 316.7h.01M219.5 314.9h.01M229.7 323.6h.01M225.2 310.1h.01M224.1 318.8h.01M229.2 317.8h.01M226.5 325.2h.01M228 318.5h.01M225.8 318.6h.01M228.7 311h.01M232 310h.01M229.3 327.3h.01M225.5 315.5h.01M231.9 317.1h.01M237.2 325.5h.01M223.2 318.9h.01M226.5 322.4h.01M231.6 317.2h.01M219.5 318.4h.01M220.5 322.8h.01M226.3 316.5h.01M225.7 319h.01M225.1 328.1h.01M225.7 314.7h.01M229.8 321.5h.01M234.4 326.9h.01M224.5 313.3h.01M224.6 311.5h.01M226.1 316.2h.01M237.9 322.7h.01M222.8 328.1h.01M228.3 319.8h.01M225.8 320.2h.01M225 319.4h.01M226.5 316.5h.01M227.7 316.7h.01M230.5 319.8h.01M223.5 318.6h.01M219.1 313.6h.01M221.9 309.6h.01M227.5 325h.01M224.3 318.1h.01M226.6 318.7h.01M233.1 321.9h.01M218 326.4h.01M232.8 318.7h.01M226.5 319h.01M224.3 314.7h.01M230.8 320.5h.01M221.1 321.5h.01M214.8 317.8h.01M230.9 317.4h.01M226.3 316.6h.01M226.1 315.7h.01M228 319h.01M226.7 319.2h.01M229.2 317.2h.01M232 320.5h.01M222.7 326h.01M225.5 312.4h.01M229 317.2h.01M227.1 322h.01M218.1 314.1h.01M235.4 322.7h.01M219.3 330h.01M223.3 323.7h.01M234.6 325.2h.01M230 322.7h.01M225.8 320.5h.01M232.7 326.3h.01M223.7 312h.01M217.3 318.2h.01M228 314.7h.01M217.3 324.7h.01M235.7 311.9h.01M232.1 315.3h.01M217.1 329.3h.01M213.5 320.3h.01M220 319.2h.01M225 316.5h.01M222.4 322.4h.01M230.9 312.1h.01M235.7 314.5h.01M226.3 328.2h.01M218.9 319.9h.01M230.1 313.4h.01M231 316.5h.01M227.5 313.4h.01M232.5 322.7h.01M228.2 316.7h.01M226.4 314.8h.01M220.1 311.6h.01M226.4 322.4h.01M221.8 313.2h.01M229.9 319h.01M228.8 322.9h.01M219.3 317.3h.01M227.5 319h.01M223.1 317.8h.01M236.8 323.3h.01M225.7 320.8h.01M223.6 311.4h.01M222.5 316.2h.01M219.4 317.1h.01M231.8 321.3h.01M224 312.4h.01M232 325.5h.01M225.1 310.1h.01M226.3 318.2h.01M225.4 323.1h.01M229.8 311.8h.01M225.5 325.7h.01M232.8 317.2h.01M221.1 323.6h.01M238.6 305.7h.01M225.9 315.4h.01M225.4 315.1h.01M232 308.2h.01M226.6 322.9h.01M229.4 330.3h.01M230.2 321.3h.01M216.7 320.4h.01M221 319.7h.01M227.7 319.3h.01M224.5 327.1h.01M232.3 317.3h.01M220.8 319.4h.01M236.7 320.5h.01M219.4 313.1h.01M228.8 314.3h.01M227.2 319.2h.01M232 321.5h.01M228.8 322.8h.01M216.8 318.3h.01M222.5 329h.01M231.5 316.9h.01M229.3 316h.01M227.4 324.2h.01M228.4 314.6h.01M234.7 322.9h.01M228.1 312h.01M234.3 321.3h.01M230 317.7h.01M226 317.5h.01M222.3 318.7h.01M222.2 320.7h.01M217.9 317.9h.01M220.3 311.5h.01M221.2 317.4h.01M227.7 315.6h.01M229.7 320.4h.01M225.8 320.3h.01M223.3 320.5h.01M216.5 319.2h.01M229.4 313.6h.01M223.6 325.7h.01M229 318.3h.01M219.6 325.1h.01M230.1 310.8h.01M221.5 314.7h.01M223.3 326.4h.01M215.2 315.9h.01M218.8 326.3h.01M228.3 328.9h.01M227.5 319h.01M228.7 320.6h.01M217.2 323.8h.01M228.3 320.2h.01M220.9 329.4h.01M226.8 314.1h.01M224.1 322.7h.01M226.1 311.8h.01M219.8 308.2h.01M223.2 312h.01M229.9 317.8h.01M227.1 316.6h.01M220.8 319.9h.01M233.9 321h.01M232.1 318.8h.01M217.6 311h.01M228.5 319h.01M229.6 321h.01M225.7 323.5h.01M224.8 307.4h.01M214.6 311.4h.01M223.1 324.1h.01M223.3 318.7h.01M234.2 319.3h.01M219.7 325.8h.01M232.5 315.1h.01M218.4 322.6h.01M229.2 318.3h.01M227.2 316h.01M232.6 318.9h.01M222.3 318.9h.01M233.2 319.7h.01M221.5 322.1h.01M227.1 319.8h.01M225.5 325.1h.01M233 311.8h.01M224.6 311h.01M228.7 326.8h.01M226.7 329.1h.01M228.4 319.4h.01M231.3 314.5h.01M229.8 316.4h.01M220.6 311.7h.01M241.6 310.4h.01M233.6 317.4h.01M216.6 312.4h.01M218.4 314.6h.01M228.3 324.9h.01M225.7 319.3h.01M221.1 310.1h.01M227.7 325.3h.01M231.7 320.7h.01M229.3 328h.01M229.9 317.1h.01M222.3 312.1h.01M234.1 325.4h.01M235.5 328.9h.01M223.2 316.3h.01M223.9 329.5h.01M231.9 321.1h.01M235.4 318.3h.01M223.3 319.3h.01M223 319h.01M226 317h.01M219.3 316.2h.01M229 309.4h.01M214.2 319.8h.01M234 323h.01M223.7 328.3h.01M223.5 315h.01M228.5 315.1h.01M231.1 323.3h.01M230.7 316.7h.01M232.1 323.4h.01M243.9 307.2h.01M228.6 299h.01M241.8 323.3h.01M221.9 292.8h.01M221.5 286.1h.01M248 291.4h.01M241.3 293.2h.01M239.7 290.2h.01M241.4 298.4h.01M223.4 276.5h.01M225 300.3h.01M241.7 311.1h.01M232.2 283.5h.01M242.3 298.7h.01M235.1 297.1h.01M221.4 285.1h.01M226.5 291.4h.01M228.7 278.8h.01M240.1 284.4h.01M214.2 302.4h.01M228.8 300.2h.01M235.9 302.6h.01M221.9 310.5h.01M233.1 291.8h.01M232.5 309.2h.01M236.2 308.4h.01M226.3 273.6h.01M226.3 291.5h.01M240.9 297.2h.01M232.2 281.9h.01M242.8 299.1h.01M231.6 304.6h.01M236.9 284.1h.01M239.6 292.7h.01M241.5 290.4h.01M250.6 324.6h.01M227.5 296.7h.01M250.5 309.8h.01M222 300.3h.01M234.2 300.5h.01M239 290.9h.01M229.8 307.5h.01M250.1 288h.01M237.5 277.1h.01M239.8 318h.01M244.1 292.2h.01M239.7 306.3h.01M235.9 307h.01M237.4 288.7h.01M226.3 299.1h.01M231.6 310.6h.01M228.5 285h.01M235.4 295.6h.01M225.1 302.9h.01M238.7 297.7h.01M232.4 297h.01M253.9 307.9h.01M227.5 282.6h.01M249.3 305.5h.01M242.7 288.9h.01M211 260.8h.01M225.5 275h.01M230.8 283.8h.01M221 298.8h.01M248.5 247h.01M246 252h.01M257 250h.01M209 322h.01M213 316h.01M273 322h.01M271.5 310h.01" stroke="#111" stroke-width="1.3" stroke-linecap="square" fill="none"/>
<text x="259.5" y="365.4" font-size="11.2" text-anchor="middle" font-weight="bold" textLength="29.5" lengthAdjust="spacingAndGlyphs">CD34</text>
<text x="179.2" y="281.8" font-size="11.2" text-anchor="middle" font-weight="bold" textLength="37" lengthAdjust="spacingAndGlyphs" transform="rotate(-90 179.2 281.8)">CD41a</text>
<rect x="382" y="229.5" width="117.3" height="102.5" fill="none" stroke="#111" stroke-width="1.25"/>
<path d="M382 332v2.6M390.8 332v1.8M396 332v1.8M399.7 332v1.8M402.5 332v1.8M404.8 332v1.8M406.8 332v1.8M408.5 332v1.8M410 332v1.8M411.3 332v2.6M420.2 332v1.8M425.3 332v1.8M429 332v1.8M431.8 332v1.8M434.1 332v1.8M436.1 332v1.8M437.8 332v1.8M439.3 332v1.8M440.6 332v2.6M449.5 332v1.8M454.6 332v1.8M458.3 332v1.8M461.1 332v1.8M463.5 332v1.8M465.4 332v1.8M467.1 332v1.8M468.6 332v1.8M470 332v2.6M478.8 332v1.8M484 332v1.8M487.6 332v1.8M490.5 332v1.8M492.8 332v1.8M494.8 332v1.8M496.5 332v1.8M498 332v1.8M499.3 332v2.6M382 332h-2.6M382 324.3h-1.8M382 319.8h-1.8M382 316.6h-1.8M382 314.1h-1.8M382 312.1h-1.8M382 310.3h-1.8M382 308.9h-1.8M382 307.5h-1.8M382 306.4h-2.6M382 298.7h-1.8M382 294.1h-1.8M382 290.9h-1.8M382 288.5h-1.8M382 286.4h-1.8M382 284.7h-1.8M382 283.2h-1.8M382 281.9h-1.8M382 280.8h-2.6M382 273h-1.8M382 268.5h-1.8M382 265.3h-1.8M382 262.8h-1.8M382 260.8h-1.8M382 259.1h-1.8M382 257.6h-1.8M382 256.3h-1.8M382 255.1h-2.6M382 247.4h-1.8M382 242.9h-1.8M382 239.7h-1.8M382 237.2h-1.8M382 235.2h-1.8M382 233.5h-1.8M382 232h-1.8M382 230.7h-1.8M382 229.5h-2.6" stroke="#111" stroke-width=".95" fill="none"/>
<text x="381.5" y="341.6" font-size="7.4" font-weight="bold" text-anchor="middle" stroke="#111" stroke-width=".4" textLength="10.6" lengthAdjust="spacingAndGlyphs">10<tspan font-size="5" dy="-2">0</tspan></text>
<text x="378.6" y="332.2" font-size="7.4" font-weight="bold" text-anchor="middle" stroke="#111" stroke-width=".4" textLength="10.6" lengthAdjust="spacingAndGlyphs" transform="rotate(-90 378.6 332.2)">10<tspan font-size="5" dy="-2">0</tspan></text>
<text x="410.8" y="341.6" font-size="7.4" font-weight="bold" text-anchor="middle" stroke="#111" stroke-width=".4" textLength="10.6" lengthAdjust="spacingAndGlyphs">10<tspan font-size="5" dy="-2">1</tspan></text>
<text x="378.6" y="306.6" font-size="7.4" font-weight="bold" text-anchor="middle" stroke="#111" stroke-width=".4" textLength="10.6" lengthAdjust="spacingAndGlyphs" transform="rotate(-90 378.6 306.6)">10<tspan font-size="5" dy="-2">1</tspan></text>
<text x="440.1" y="341.6" font-size="7.4" font-weight="bold" text-anchor="middle" stroke="#111" stroke-width=".4" textLength="10.6" lengthAdjust="spacingAndGlyphs">10<tspan font-size="5" dy="-2">2</tspan></text>
<text x="378.6" y="280.9" font-size="7.4" font-weight="bold" text-anchor="middle" stroke="#111" stroke-width=".4" textLength="10.6" lengthAdjust="spacingAndGlyphs" transform="rotate(-90 378.6 280.9)">10<tspan font-size="5" dy="-2">2</tspan></text>
<text x="469.5" y="341.6" font-size="7.4" font-weight="bold" text-anchor="middle" stroke="#111" stroke-width=".4" textLength="10.6" lengthAdjust="spacingAndGlyphs">10<tspan font-size="5" dy="-2">3</tspan></text>
<text x="378.6" y="255.3" font-size="7.4" font-weight="bold" text-anchor="middle" stroke="#111" stroke-width=".4" textLength="10.6" lengthAdjust="spacingAndGlyphs" transform="rotate(-90 378.6 255.3)">10<tspan font-size="5" dy="-2">3</tspan></text>
<text x="498.8" y="341.6" font-size="7.4" font-weight="bold" text-anchor="middle" stroke="#111" stroke-width=".4" textLength="10.6" lengthAdjust="spacingAndGlyphs">10<tspan font-size="5" dy="-2">4</tspan></text>
<text x="378.6" y="229.7" font-size="7.4" font-weight="bold" text-anchor="middle" stroke="#111" stroke-width=".4" textLength="10.6" lengthAdjust="spacingAndGlyphs" transform="rotate(-90 378.6 229.7)">10<tspan font-size="5" dy="-2">4</tspan></text>
<path d="M415.5 263.5L415.6 264.9L414.8 266.1L414 267.4L412.7 268.5L411.9 269.8L409.2 270.1L408.1 271.4L405 270.8L403.3 271.7L401.1 271.9L398.8 271.5L396.3 272.5L394.3 271.3L391.4 271.6L388.9 271.1L388.3 269.1L385 268.9L383.5 267.6L382.6 266.1L383.7 264.4L381.6 263.3L380.7 261.9L381.8 260.5L382.3 259.3L382.6 258L383.6 256.8L383.2 255L385.9 254.6L387.4 253.7L388.9 252.6L390.6 251.4L393.7 252.3L396.1 252.7L398.2 250.8L400.7 251.3L403.2 251.8L405.2 252.9L406.8 254.1L408.5 255.1L410.6 255.9L412.5 256.8L412.5 258.4L415.5 259.2L416.3 260.7L414.2 262.1Z" fill="#0a0a0a" clip-path="url(#cP6)"/>
<path d="M396.4 260.5L397.2 263L396.2 265.3L394.5 266.9L393 268.5L391.2 269.9L389 269.4L387 269L385.3 267.8L383.5 266.8L382.3 264.9L381.9 262.7L380.5 260.5L382 258.3L382.1 255.9L383.3 254L384.8 252.2L386.9 251.6L389 251.6L390.9 252.2L393.1 252.3L394.8 253.8L395.3 256.3L397.4 257.9Z" fill="#0a0a0a" clip-path="url(#cP6)"/>
<path d="M391.7 249.7h.01M405.5 270.1h.01M414 263.3h.01M383.6 261h.01M404.2 254.2h.01M416.4 259.3h.01M407.5 270.8h.01M383.8 256.9h.01M416.3 258.2h.01M412 258.2h.01M389.1 269.7h.01M401.6 272.5h.01M388.4 253.2h.01M395.3 275.4h.01M408.2 270.6h.01M384.8 255.9h.01M383.6 255.6h.01M393.7 251.5h.01M383.8 254.8h.01M405.5 268.6h.01M390.8 250.9h.01M386.2 254.2h.01M413.9 258h.01M414.1 265.9h.01M412.7 267.8h.01M387.8 253.4h.01M410.1 255.4h.01M400.2 252.7h.01M411.2 255.1h.01M394.5 252.9h.01M403.8 268.6h.01M410 271h.01M383.9 263.1h.01M405 270.8h.01M416.9 260.5h.01M395.2 273.1h.01M388.3 253.7h.01M416.6 261h.01M416.1 268.8h.01M394.9 272.7h.01M411.4 269.1h.01M400.2 251.3h.01M412.2 267.4h.01M398.3 273.6h.01M409.3 257.6h.01M403.4 271.9h.01M394.4 273.5h.01M406.1 253h.01M398.5 251.1h.01M406.9 254.1h.01M403.5 271.2h.01M385.3 254.6h.01M401.6 272.9h.01M415.3 260.8h.01M410.4 257.9h.01M405.4 252.7h.01M383.6 256.8h.01M395.5 271.5h.01M394.7 270.7h.01M408 253.5h.01M410.1 268.1h.01M416.1 265.1h.01M383.6 268.9h.01M396.2 252.6h.01M416.5 263.5h.01M394.9 272.4h.01M415 262.8h.01M406 270.5h.01M388.2 270.7h.01M398.3 270.5h.01M411.2 266.9h.01M410.4 253.3h.01M413.8 265.9h.01M393.3 251.6h.01M415.8 261.8h.01M398 274.7h.01M394.2 251.5h.01M388.2 250.5h.01M386.5 267.7h.01M383.7 254.5h.01M411.7 256.4h.01M408.2 254.7h.01M408.5 272.2h.01M413.6 269.4h.01M416.2 267.6h.01M412.2 268.9h.01M409.4 271.2h.01M396.5 270.6h.01M411.2 269h.01M394.4 271.3h.01M395.7 269.9h.01M407.6 255.3h.01M411.8 257.2h.01M412.9 263.6h.01M385.6 266.6h.01M415.1 268.2h.01M409.2 270.5h.01M384.3 255.7h.01M407 252.3h.01M383 256.1h.01M386.2 253.4h.01M409.5 258.4h.01M407.3 254.6h.01M406.9 252h.01M386.2 252.7h.01M399.1 272.5h.01M412 268.6h.01M383.4 254.8h.01M384.5 256.4h.01M383.8 269.8h.01M388.2 268.5h.01M408 256.9h.01M413.6 258.7h.01M413.1 257.8h.01M409.2 254.2h.01M384.9 267.9h.01M412.9 256h.01M384.6 258.2h.01M383.5 263.2h.01M394.8 251.5h.01M386.5 253.2h.01M394 271.5h.01M411.7 267.2h.01M391.4 253.2h.01M383.9 268.4h.01M394.4 272h.01M391.9 253.4h.01M392.5 254h.01M414.2 262.8h.01M392 250.7h.01M413.3 267.5h.01M407.3 271.5h.01M405.9 255.2h.01M387.7 251h.01M413.5 261.6h.01M407.4 271.6h.01M384.1 255.3h.01M416.5 264.5h.01M405.4 269.9h.01M414 270.4h.01M411.4 258.7h.01M414.5 265.1h.01M409.3 268.9h.01M414.4 266.4h.01M401.6 271.7h.01M383.2 270.7h.01M405 254.4h.01M396.6 270.5h.01M410.7 256.8h.01M394.6 253.1h.01M389.9 253h.01M398.8 270.5h.01M387.1 267.6h.01M405.6 272h.01M414.8 262h.01M400.9 270.6h.01M392.4 253.1h.01M383.7 262.2h.01M389.7 271.2h.01M385.5 269.8h.01M412.6 259.3h.01M385.5 253.7h.01M414.6 260.8h.01M389.8 271.8h.01M383 262.1h.01M411.3 269.1h.01M413.6 266.1h.01M394.4 273.3h.01M414.8 265.7h.01M406.9 253.1h.01M396.3 273.9h.01M384.1 252.7h.01M386.2 250.6h.01M417 262.2h.01M397 273.7h.01M414.2 263.6h.01M407.7 253.2h.01M411.5 260.1h.01M400.1 273.2h.01M392.1 252.9h.01M391.1 270.6h.01M396.2 268.6h.01M387.9 270.7h.01M408.4 255.2h.01M407.8 271.4h.01M415.9 266.6h.01M415.9 259.9h.01M400.3 251.3h.01M383 255.7h.01M391 271.3h.01M397.2 251.9h.01M393.9 251.4h.01M384.7 264.6h.01M389.5 253.8h.01M413.5 258.7h.01M406.2 250.3h.01M407.8 258.5h.01M384.5 255h.01M410.3 271.3h.01M399.9 270.3h.01M412 256.6h.01M414.8 265.7h.01M411.6 269.3h.01M391.4 252h.01M390.1 254.3h.01M399.8 273h.01M389.9 271h.01M411.4 266.1h.01M398.4 272.8h.01M401.4 252h.01M412 263.1h.01M411.4 257.4h.01M389.2 270.3h.01M392.3 272.5h.01M403.1 250h.01M408.8 253h.01M413 265.9h.01M384 259.3h.01M403.1 270.6h.01M413.2 267.6h.01M384.2 264.3h.01M414.9 269.8h.01M412.8 269.5h.01M388.9 269.5h.01M385 266.2h.01M385.8 270.2h.01M405 254.6h.01M412.6 258.7h.01M388 254.5h.01M386.8 255.3h.01M414.8 257h.01M384.3 257.7h.01M411.2 271.6h.01M399.2 270.5h.01M402.3 272.3h.01M396.5 251.7h.01M397.1 272.3h.01M401.4 252.4h.01M403.5 252.1h.01M405.6 255.4h.01M409.3 255.2h.01M414.2 256.3h.01M398.7 270.8h.01M403.3 270.1h.01M408.2 253.4h.01M382.8 260.3h.01M415.8 266.9h.01M384.4 269.5h.01M411.8 264.1h.01M400.7 250.2h.01M403.6 252.6h.01M404.5 271.3h.01M409.6 270.9h.01M387.2 252.7h.01M408.3 253.8h.01M384.9 266.3h.01M392.2 272.3h.01M390.1 254.1h.01M414.4 267.2h.01M408.4 256.2h.01M399.4 268.8h.01M392.1 253h.01M395.2 251.8h.01M408.3 271.6h.01M397.2 253.3h.01M400.4 272.1h.01M411.2 257.5h.01M388.2 253.6h.01M413.5 268.4h.01M395 271.7h.01M388.1 253.6h.01M408.4 271.3h.01M386.6 254.7h.01M399.8 270.1h.01M397.4 250.4h.01M389.1 253.9h.01M415.2 263.6h.01M414.4 266.9h.01M403 250.8h.01M387.3 252.7h.01M386.3 263.3h.01M415.7 262.3h.01M387.5 270.1h.01M413.6 254.6h.01M393 269.8h.01M404 252.4h.01M415.1 263h.01M382.8 255.1h.01M384.7 253h.01M416.5 266.6h.01M397.9 271.1h.01M417.7 259.3h.01M401.5 251.2h.01M390.2 250.2h.01M391.9 270.1h.01M414.1 257.1h.01M399.6 252.9h.01M386.4 269.4h.01M415.7 257.8h.01M414.6 265.9h.01M394.6 272.1h.01M398.6 269.8h.01M384.4 252.8h.01M398.1 271.3h.01M400.4 249.4h.01M384.7 269.5h.01M413.7 262h.01M415.8 269.5h.01M401.5 270.4h.01M399.2 272.8h.01M391.3 268.6h.01M406.1 273.8h.01M416.7 261.5h.01M408.5 271.2h.01M405.6 270.6h.01M390.1 271.9h.01M392.2 250.8h.01M398.1 270h.01M416.2 266.4h.01M395.7 272.9h.01M410.7 255.2h.01M390.4 252.7h.01M401.3 272.7h.01M391.6 267.1h.01M399.9 272.3h.01M403.5 272.4h.01M397.6 250.8h.01M393.2 253.1h.01M413.1 268.7h.01M410.7 254.4h.01M401.7 271.5h.01M405.2 252.7h.01M388.5 270.1h.01M408.9 255.5h.01M409.4 253.8h.01M384.7 260.1h.01M416.5 261.9h.01M407.2 251.8h.01M397.2 272.8h.01M390 253.8h.01M388.1 269.9h.01M390.8 252.8h.01M414 269.4h.01M393.4 269.9h.01M408.8 272.2h.01M411.1 259.4h.01M382.8 262h.01M400.4 271.6h.01M386 266.1h.01M394.9 253.2h.01M398.1 251.5h.01M410.3 270.3h.01M392 253.5h.01M383.6 258.6h.01M393.1 254h.01M390.9 254h.01M391.3 272.1h.01M383.1 260.5h.01M402 271.1h.01M388.4 250h.01M405.9 270.1h.01M401.9 250.7h.01M384 256.4h.01M415.2 260.2h.01M402.2 251.1h.01M412.1 261.6h.01M414.2 259.6h.01M401.6 273.3h.01M391.2 269.5h.01M394.2 268.1h.01M397.4 257.5h.01M383.3 253.9h.01M390.6 252.6h.01M387.5 251.9h.01M388.3 269.7h.01M385.2 268.3h.01M388.3 271.9h.01M394.6 261.8h.01M394.3 268.8h.01M388.1 253.8h.01M390.5 251.5h.01M397.4 264.6h.01M385.3 266.9h.01M392.6 267.5h.01M383.2 254.6h.01M383.9 269.7h.01M395 267.3h.01M394.3 253.9h.01M392 266.3h.01M396.1 254.4h.01M390.1 268.5h.01M387.3 270h.01M387.9 267.8h.01M389.8 250.1h.01M396 253.2h.01M384.2 270.6h.01M390.5 252.7h.01M382.9 258h.01M394.2 266.4h.01M384 269.1h.01M383.9 265.3h.01M383.2 268.6h.01M392 268.3h.01M397.8 258.7h.01M390.5 268.9h.01M395.6 268h.01M397.3 264.4h.01M395.3 261.5h.01M387.1 269.7h.01M394.9 255h.01M383.4 266.7h.01M393.3 264.3h.01M386.3 252.4h.01M396.5 254.9h.01M387 250.9h.01M395.2 252.9h.01M394.3 250.9h.01M396.7 263.9h.01M387.4 250.4h.01M396.1 267.3h.01M397.9 264.4h.01M387.2 251.9h.01M383.2 254.9h.01M385 251.8h.01M395.9 255.8h.01M397.1 265h.01M382.9 263.6h.01M383.1 263.7h.01M392.1 253.2h.01M386.4 269.2h.01M382.8 257.6h.01M382.9 258.3h.01M391.4 252.7h.01M396.6 254.8h.01M395.3 261.5h.01M390.8 252h.01M396 261.7h.01M392.9 264.1h.01M385.9 252.4h.01M392 251.8h.01M394.7 251.2h.01M397 264.2h.01M392.4 267.2h.01M386.6 269.5h.01M396.8 262.2h.01M390.4 252.2h.01M396.5 260.2h.01M390.3 251.1h.01M396.5 263h.01M397.3 256.2h.01M396.1 255.4h.01M398.5 261.5h.01M394.9 253.9h.01M394.6 266.1h.01M387.7 252h.01M382.9 269.6h.01M395 266.4h.01M398.8 260h.01M397.1 254.9h.01M397.5 266.3h.01M389.8 267.3h.01M383.5 259.6h.01M392.8 267.6h.01M391.9 269h.01M384.8 252.4h.01M389 252.1h.01M395.4 263.3h.01M397.9 264.2h.01M394.6 266.7h.01M393.4 246.7h.01M424.2 263.7h.01M387.7 260.8h.01M407.7 269h.01M393.4 274.1h.01M400.2 246.4h.01M398.4 257h.01M406.1 262.4h.01M393 256.2h.01M411.6 258.8h.01M394.7 258.5h.01M416.4 262.1h.01M386.2 271.5h.01M412.1 260.3h.01M406.6 269.4h.01M390.9 258.2h.01M407.5 263.7h.01M396.1 258.2h.01M417.8 248.3h.01M399.1 256.6h.01M392.5 264h.01M415.3 262.3h.01M414.7 267.3h.01M391.3 268.2h.01M392.4 255.1h.01M393.4 248.4h.01M399 259.7h.01M421.3 263.5h.01M388.3 256h.01M386.4 278.5h.01M387.8 242.6h.01M401.1 258h.01M386.6 266.5h.01M386.6 259.2h.01M388.3 273.7h.01M394.6 261.3h.01M401.6 261.9h.01M399.4 260.3h.01M413.4 266.6h.01M405.2 263.1h.01M422.4 255.8h.01M388.4 265.8h.01M384.2 249.2h.01M410.2 262.1h.01M417 269.6h.01M398.5 256.8h.01M390.9 267.5h.01M387.9 271.3h.01M390.7 259.5h.01M399.3 266.5h.01M383.6 255.8h.01M401.5 266.8h.01M391.9 265.1h.01M404.2 265.6h.01M399.3 266h.01M400 255.1h.01M409.7 259.5h.01M400.5 266.3h.01M408.6 248.4h.01M404.7 245.7h.01M399.1 269.1h.01M404.9 260.8h.01M405 265.7h.01M410.9 254.8h.01M422.4 258.9h.01M411.8 258.3h.01M409.2 243.3h.01M413.7 259.4h.01M391.4 272.2h.01M418.1 259.1h.01M393.2 270.8h.01M408.4 263.5h.01M392.4 259.1h.01M403.6 269.4h.01M399 259.4h.01M389.9 252.6h.01M395.5 250h.01M405.8 265h.01M390.8 274.1h.01M406.3 272.5h.01M392.2 260.8h.01M405.8 254.8h.01M405 260.5h.01M393.4 256.6h.01M408.9 267.1h.01M388.1 259.3h.01M415.4 265.6h.01M414.5 259.9h.01M401.6 272.7h.01M394.9 261.7h.01M408.9 263.3h.01M389.8 273.9h.01M407.4 257.7h.01M408.5 265.4h.01M397.9 272.4h.01M407.3 257.8h.01M405.9 263.7h.01M405.8 266.6h.01M422.5 257.5h.01M404.5 252.4h.01M412.8 265.3h.01M396.3 259.3h.01M395.3 270.8h.01M395 264.2h.01M389.1 263.8h.01M411.4 261.2h.01M399 261.7h.01M384.6 265.8h.01M406.4 259.6h.01M386 264.1h.01M394 269h.01M404.5 261.9h.01M412.1 265.9h.01M390.6 261.4h.01M400.5 273h.01M410.5 254.3h.01M398.1 269.1h.01M400.2 263.3h.01M399.2 252.4h.01M401.9 260.2h.01M409 256.9h.01M406.6 269.1h.01M401.3 258.7h.01M398.6 259.7h.01M411.5 257.4h.01M394 268.3h.01M412.5 260.7h.01M419.6 262.3h.01M400.1 265.1h.01M424 271.6h.01M402.8 255h.01M383.7 265.4h.01M387.2 263h.01M384.1 270.6h.01M384.4 258.8h.01M397.3 255.1h.01M402.8 260.7h.01M413.9 262.3h.01M391.5 272.7h.01M413.5 267.2h.01M395.6 271.8h.01M403.7 260.3h.01M400.5 259.5h.01M419 261.5h.01M393 259.5h.01M406.4 268.9h.01M410.1 259.7h.01M412.3 252.6h.01M399.9 260.6h.01M406.6 263.8h.01M398.1 267.2h.01M392.6 262.1h.01M399.5 254.9h.01M420.6 263h.01M406.5 272.1h.01M404 263.7h.01M399.3 282.1h.01M403.9 261.2h.01M403.7 256.2h.01M398.4 257.1h.01M400 265.3h.01M397.8 260.1h.01M407 263.7h.01M406 265.1h.01M395.8 257h.01M394.7 261h.01M413.1 267h.01M394.1 262.9h.01M406 260.3h.01M392.4 264h.01M403.5 259.9h.01M405.7 264.8h.01M420.4 262.9h.01M406.7 259.2h.01M407.8 265.3h.01M426.9 273.6h.01M402.4 257.6h.01M414.4 270.1h.01M418.9 273.1h.01M412.5 256.4h.01M396.4 256.4h.01M394.4 270.4h.01M388.5 257.6h.01M396 261.1h.01M391.6 271.8h.01M389 260h.01M416.4 272.2h.01M423 263.5h.01M410.7 270.6h.01M410.9 265.9h.01M400.2 269.1h.01M414.9 266.6h.01M407.6 259.8h.01M410.7 262.4h.01M388.7 258.3h.01M411.9 264.2h.01M417.5 260h.01M398.9 257.1h.01M400.3 250.6h.01M413.2 265.6h.01M394.7 266h.01M402.6 263.6h.01M402.1 255.9h.01M409.7 264h.01M409 251h.01M400.7 270h.01M398.8 258.8h.01M388.9 264.9h.01M388.4 256.3h.01M404.2 263.9h.01M415.7 263.5h.01M391.4 259.8h.01M401.4 270.2h.01M409.2 268.2h.01M412.8 263.8h.01M405.3 256.7h.01M390.7 271.9h.01M387.1 253.9h.01M386.9 264.8h.01M402.7 262h.01M416.5 256.9h.01M428.4 268.7h.01M385.2 254.2h.01M405.5 258h.01M394.5 253.3h.01M388.5 263.6h.01M388 264.2h.01M403.5 270.1h.01M413.4 263.9h.01M384.1 256.2h.01M396.9 270.6h.01M403.2 254.6h.01M408.3 263.2h.01M412 268.7h.01M394.7 262.8h.01M414.8 265h.01M407.4 258.9h.01M391.6 258.1h.01M426.1 271.1h.01M419.1 262.5h.01M411.5 258.8h.01M404.2 262.7h.01M402.1 267.5h.01M401 266.1h.01M400.3 264.8h.01M415.5 259.1h.01M399.3 249.1h.01M411.1 261.9h.01M430 274.4h.01M414.9 277.9h.01M407.5 261.8h.01M413.4 272.4h.01M422.6 262.4h.01M384.2 269.9h.01M409.9 251.4h.01M416.4 263.3h.01M416.3 256.4h.01M406.8 267.8h.01M389.3 259.5h.01M383 258.6h.01M393.7 267h.01M430.8 254h.01M398.1 248.2h.01M418.4 271.3h.01M413.1 259.7h.01M403.1 255.2h.01M385.4 256.7h.01M399.5 273.8h.01M403.2 267h.01M406 262.7h.01M400.4 262.4h.01M416.7 261.4h.01M400.6 260.8h.01M405.5 261.4h.01M384.6 268.7h.01M409.5 274.4h.01M393.4 267h.01M419.6 261.6h.01M397.1 266.5h.01M398.1 270.6h.01M404.3 265.9h.01M394.8 253.9h.01M401 264.3h.01M407.4 267.1h.01M410.7 261.1h.01M421.5 257.9h.01M404.2 267.4h.01M406.8 270.6h.01M404.9 249.2h.01M383 251.4h.01M406.8 275.1h.01M410.1 271.4h.01M392.5 259.7h.01M389.7 272.1h.01M391.6 265.9h.01M407.6 268.3h.01M388.2 263.3h.01M391.2 263.5h.01M389.3 266.2h.01M383.8 256.4h.01M405.6 266.5h.01M411.1 254.4h.01M395.5 258.1h.01M403.7 255.2h.01M403.1 251.3h.01M398.8 248.9h.01M404.6 265.4h.01M392.6 258.8h.01M398.6 271h.01M394.6 265.1h.01M413.3 266.9h.01M389.8 265.2h.01M391.3 261.2h.01M384.3 255.5h.01M384.8 256.5h.01M399.3 252.4h.01M407.7 267.7h.01M407.9 267.3h.01M395.4 269.5h.01M412.6 274h.01M394.5 266.4h.01M398.6 254h.01M419.9 263.2h.01M395.2 268h.01M404 261.1h.01M387 264.6h.01M413.1 265.8h.01M407.3 280.4h.01M400.7 253.9h.01M415.5 272.1h.01M421.7 255.4h.01M420.4 256.8h.01M428.3 266.1h.01M426.4 259.3h.01M419.2 257.2h.01M414.3 258.6h.01M429.7 268.3h.01M419.6 250.9h.01M412.8 265.9h.01M435.6 258.5h.01M414.6 262.9h.01M414.7 260.9h.01M422.1 250h.01M423.6 258.3h.01M417.2 265.8h.01M419.3 267.5h.01M426.2 260h.01M422.8 258.8h.01M429.1 257.4h.01M425.2 254.6h.01M427.4 259.4h.01M421.5 254.5h.01M429.9 267.4h.01M416.6 253.9h.01M432.9 254.8h.01M413.6 250.2h.01M417.3 261h.01M422.1 259.3h.01M412.7 252.9h.01M415.9 261.6h.01M407.8 255.8h.01M423.5 262.7h.01M422.3 253.1h.01M423.5 255.2h.01M417.3 259.4h.01M432.3 258.5h.01M411.2 257.6h.01M424.9 256.2h.01M405.5 251.1h.01M413.7 255.1h.01M402.4 257.1h.01M425.4 265.3h.01M408.1 270.1h.01M416.8 259.5h.01M430.1 260.5h.01M407.6 264.8h.01M417.4 256.4h.01M418.6 262.4h.01M405.8 258.1h.01M424.8 261.9h.01M427 259.2h.01M418.2 252.5h.01M426.8 262.6h.01M406.3 260.5h.01M415.2 263.8h.01M407.1 265h.01M415.5 260.8h.01M417.8 249.3h.01M413.6 254.8h.01M404.2 263.7h.01M412.3 313.5h.01M410.2 307.3h.01M410.3 296.7h.01M410.8 305h.01M409.3 312.3h.01M410.9 311h.01M410.3 304.5h.01M411.5 318.4h.01M404.9 312.2h.01M410.8 304.3h.01M411.4 307.9h.01M407.6 304.9h.01M406.7 322h.01M402.8 302.9h.01M409.8 319.4h.01M407.5 300.9h.01M403.7 327.6h.01M409.5 318.9h.01M411.6 308h.01M404.8 315.9h.01M405.2 309.1h.01M414.8 305.6h.01M411.5 298.7h.01M406.6 316.5h.01M406.1 306.2h.01M417 296h.01M408.7 322.5h.01M408.5 305.4h.01M407.2 314.2h.01M405.8 301.1h.01M410.2 314h.01M406.5 317.4h.01M404.8 314.8h.01M409.1 302.3h.01M415.1 313h.01M411.6 310.1h.01M402.4 312.1h.01M410 298.3h.01M404.5 307h.01M405.1 314.3h.01M410.2 312.3h.01M407.6 308.4h.01M403.3 312.1h.01M412.6 308.6h.01M408.3 307.5h.01M407.2 309.2h.01M410.6 307.2h.01M407.7 316.2h.01M408 316.7h.01M407.1 317.2h.01M401.7 298.5h.01M409.7 313h.01M401 320.6h.01M410.4 310.4h.01M412.6 308.8h.01M413.5 308.3h.01M414 312.3h.01M408.1 306.6h.01M410 305h.01M408.7 308.2h.01M408.9 322.3h.01M411.9 306.5h.01M408.7 313.8h.01M410.6 308.8h.01M406.6 317.4h.01M406.8 301.7h.01M405.7 317.3h.01M399.2 311.4h.01M414.6 317.7h.01M413.9 309.7h.01M408 307.3h.01M416.7 297h.01M407.4 295.3h.01M408.6 309.5h.01M408 308.2h.01M407.2 312.3h.01M407.9 297.2h.01M410.7 316.1h.01M412.3 325.4h.01M405.5 308h.01M410.2 311.8h.01M405.6 322.8h.01M411.3 313.9h.01M410 308.8h.01M411.3 319.5h.01M407.8 323.6h.01M411.6 296.1h.01M402.5 300.8h.01M407.2 304.8h.01M413.1 312.4h.01M407.5 314.7h.01M406.6 305.2h.01M410.9 328.6h.01M407.1 314.2h.01M406.2 317h.01M405.9 302.5h.01M407.9 306h.01M402.8 308.2h.01M408.4 312.3h.01M413.7 313.1h.01M414.9 308.4h.01M404.9 314.6h.01M411.8 310.9h.01M406 305.9h.01M405.7 286.5h.01M404.4 311h.01M405.8 307.5h.01M414.2 302.1h.01M413 318.1h.01M407 297.2h.01M408.2 311.6h.01M409.8 306.5h.01M413.3 315h.01M405.5 319.2h.01M412.2 302.5h.01M410.8 315.6h.01M411.2 317.4h.01M403.8 297.9h.01M409.9 308.6h.01M405.8 310h.01M410.6 305.8h.01M408.5 308.6h.01M408.4 299.8h.01M404.9 299.3h.01M409 309.1h.01M409.4 304.9h.01M411.7 304.1h.01M406.4 302.9h.01M409.1 305.9h.01M406 317.7h.01M408.3 304.7h.01M410.8 311h.01M406.7 307.9h.01M413.6 307.7h.01M410.6 324.6h.01M409.2 307.6h.01M412.7 311.7h.01M410.7 317.7h.01M413.9 312.1h.01M409.4 317.5h.01M407.5 315.6h.01M405.5 310.2h.01M407.1 300.1h.01M410.3 311.6h.01M415.1 302.1h.01M403.7 312.7h.01M405.5 309.3h.01M411.2 300.1h.01M404.6 309.4h.01M401.1 310h.01M404.5 296.9h.01M406.4 300.3h.01M408.2 296.8h.01M404.5 286.1h.01M405.9 295.7h.01M399.2 287.4h.01M404 297.6h.01M404.1 295.6h.01M404.6 298.2h.01M400.9 300.7h.01M400.6 290.3h.01M402.3 273.9h.01M402.8 275.3h.01M404.2 305.6h.01M413.6 298.6h.01M412.7 290.4h.01M412.5 322.3h.01M404.3 298.5h.01M409.1 300.9h.01M404 307.2h.01M418.7 294.1h.01M406.8 278.9h.01M408.3 299.4h.01M412.2 290.7h.01M403.2 285h.01M412.8 284.2h.01M413.5 291.5h.01M406.3 292.8h.01M417.9 298.8h.01M405.6 284.2h.01M407.3 281.7h.01M404.7 295.7h.01M411.8 285.7h.01M401.7 295.4h.01M413.7 282.6h.01M403.8 290.2h.01M404.1 285.8h.01M411.6 300h.01M404.5 294.7h.01M409.7 284.1h.01M401.9 296.6h.01M410 274.2h.01M405.4 295.2h.01M410.9 298.5h.01M398.5 290h.01M410.3 285.3h.01M400.6 306.6h.01M395.7 293.1h.01M403.2 286.8h.01M398.1 302.5h.01M401.2 296.7h.01M405.8 299.8h.01M406 282.8h.01M413.8 266.9h.01M408.1 291.8h.01M411.5 268.5h.01M406.4 285h.01M409.2 272.6h.01M412.2 296.5h.01M411.6 304h.01M441.8 269.5h.01M444.7 264.2h.01M437 278.8h.01M446.2 269.4h.01M431.3 265.8h.01M439.6 258.2h.01M442.7 276h.01M440.8 287.3h.01M456.7 278.1h.01M443.8 260.6h.01M429.8 272.5h.01M440.7 269.6h.01M444.1 266h.01M454.9 273.9h.01M438.2 279.5h.01M446.3 272.7h.01M450.4 271.9h.01M441.9 264.4h.01M447.3 272h.01M442 283h.01M439.8 270.5h.01M441.1 292.3h.01M441.5 270.1h.01M439 270.7h.01M450.5 266.5h.01M449.3 283.7h.01M439.3 275.3h.01M437.1 282.5h.01M441.4 286.1h.01M444.4 265.9h.01M441.3 272h.01M437.4 274.2h.01M438.8 274.6h.01M436.4 276.4h.01M441.3 261.6h.01M438.4 282.9h.01M441 279.4h.01M439.7 272.1h.01M440.5 260.9h.01M437.4 265.3h.01M441.7 256.1h.01M439.5 269.9h.01M441.2 258.9h.01M447.3 274.4h.01M449.1 278.3h.01M450.7 288.1h.01M449.6 265h.01M445 286.7h.01M432.2 290.5h.01M440.1 273.2h.01M429.7 273.1h.01M435.7 274.2h.01M445.8 270.7h.01M439.4 269h.01M439.3 276.3h.01M455.4 254.5h.01M438.8 266h.01M440.1 286.4h.01M445.5 279.9h.01M437.7 257.9h.01M444 276.1h.01M445.1 269.9h.01M439.6 262.1h.01M445.3 285.7h.01M445 272.4h.01M448.6 288.1h.01M439 273.1h.01M436.7 264.6h.01M442.7 281.7h.01M428.6 272.8h.01M436.4 262.7h.01M454.6 258.5h.01M445.1 275.8h.01M443.3 277.4h.01M445.4 266h.01M438.2 289.8h.01M438 255.9h.01M441.7 279.2h.01M439.1 274.9h.01M434.7 263.7h.01M446.3 253.6h.01M440.1 278.9h.01M438.8 274.3h.01M448.6 277.6h.01M438.9 278.9h.01M424.3 254.9h.01M446.4 252.8h.01M423.4 260.5h.01M429 259h.01M424.9 255.8h.01M429 258.6h.01M452.9 255.2h.01M443.5 263.3h.01M436.9 264.8h.01M429.2 261.6h.01M433.8 259.2h.01M437.2 255.6h.01M461.8 255.3h.01M414.6 254.5h.01M442.3 255.7h.01M436.8 255.5h.01M431.8 259.5h.01M441.7 262.7h.01M422.2 267h.01M432.4 255.3h.01M424.3 265.7h.01M424.8 255.9h.01M440.2 257h.01M459 261h.01M445 260.6h.01M434.4 260h.01M434.1 274.4h.01M433.7 262.6h.01M443.8 255h.01M463.8 264.7h.01M422.2 263.7h.01M433 259.9h.01M442.1 264h.01M432.7 263.3h.01M423.4 263.2h.01M422.9 250.6h.01M446.8 259.7h.01M418.4 268.5h.01M437.4 259.4h.01M435.2 247.8h.01M432.7 268.6h.01M432.5 259.1h.01M447.6 257.1h.01M437.7 258.5h.01M444.2 255h.01M434.2 256.2h.01M431.2 255.5h.01M430.2 255.5h.01M410.2 264.4h.01M419.8 248.8h.01M422.5 255h.01M453.8 253.8h.01M424.2 254.4h.01M445.2 253.7h.01M437.1 268.3h.01M458.3 243.3h.01M444 298h.01M444.5 315h.01M452 326h.01M420 285h.01M428 296h.01M397 316h.01M400 323h.01M415 322h.01M391 300h.01" stroke="#111" stroke-width="1.3" stroke-linecap="square" fill="none"/>
<text x="439.7" y="365.4" font-size="11.2" text-anchor="middle" font-weight="bold" textLength="29.5" lengthAdjust="spacingAndGlyphs">Gly A</text>
<text x="358.9" y="285.8" font-size="11.2" text-anchor="middle" font-weight="bold" textLength="30.5" lengthAdjust="spacingAndGlyphs" transform="rotate(-90 358.9 285.8)">CD34</text>
<path d="M25 420.5V534.6H161" stroke="#111" stroke-width="1.5" fill="none"/>
<path d="M25 534.6v2.6M35.2 534.6v1.7M41.2 534.6v1.7M45.5 534.6v1.7M48.8 534.6v1.7M51.5 534.6v1.7M53.7 534.6v1.7M55.7 534.6v1.7M57.4 534.6v1.7M59 534.6v2.6M69.2 534.6v1.7M75.2 534.6v1.7M79.5 534.6v1.7M82.8 534.6v1.7M85.5 534.6v1.7M87.7 534.6v1.7M89.7 534.6v1.7M91.4 534.6v1.7M93 534.6v2.6M103.2 534.6v1.7M109.2 534.6v1.7M113.5 534.6v1.7M116.8 534.6v1.7M119.5 534.6v1.7M121.7 534.6v1.7M123.7 534.6v1.7M125.4 534.6v1.7M127 534.6v2.6M137.2 534.6v1.7M143.2 534.6v1.7M147.5 534.6v1.7M150.8 534.6v1.7M153.5 534.6v1.7M155.7 534.6v1.7M157.7 534.6v1.7M159.4 534.6v1.7M161 534.6v2.6M25 534.6h-2.6M25 506.1h-2.6M25 477.6h-2.6M25 449h-2.6M25 420.5h-2.6" stroke="#111" stroke-width=".95" fill="none"/>
<text x="25.6" y="545.5" font-size="7.4" font-weight="bold" text-anchor="middle" stroke="#111" stroke-width=".4" textLength="10.6" lengthAdjust="spacingAndGlyphs">10<tspan font-size="5" dy="-2">0</tspan></text>
<text x="59.6" y="545.5" font-size="7.4" font-weight="bold" text-anchor="middle" stroke="#111" stroke-width=".4" textLength="10.6" lengthAdjust="spacingAndGlyphs">10<tspan font-size="5" dy="-2">1</tspan></text>
<text x="93.6" y="545.5" font-size="7.4" font-weight="bold" text-anchor="middle" stroke="#111" stroke-width=".4" textLength="10.6" lengthAdjust="spacingAndGlyphs">10<tspan font-size="5" dy="-2">2</tspan></text>
<text x="127.6" y="545.5" font-size="7.4" font-weight="bold" text-anchor="middle" stroke="#111" stroke-width=".4" textLength="10.6" lengthAdjust="spacingAndGlyphs">10<tspan font-size="5" dy="-2">3</tspan></text>
<text x="160.4" y="545.5" font-size="7.4" font-weight="bold" text-anchor="middle" stroke="#111" stroke-width=".4" textLength="10.6" lengthAdjust="spacingAndGlyphs">10<tspan font-size="5" dy="-2">4</tspan></text>
<text x="20.4" y="419.3" font-size="7.4" font-weight="bold" stroke="#111" stroke-width=".4" text-anchor="middle" textLength="8.6" lengthAdjust="spacingAndGlyphs" transform="rotate(-90 20.4 419.3)">40</text>
<text x="20.4" y="534.6" font-size="7.4" font-weight="bold" stroke="#111" stroke-width=".4" text-anchor="middle" transform="rotate(-90 20.4 534.6)">0</text>
<path d="M25 534.6V523.3H25.7V521.1H26.4V519.5H27.1V518H27.8V516.3H28.5V513.1H29.2V510.7H29.9V508.7H30.6V506.4H31.3V504.4H32V502.4H32.7V498.9H33.4V495.8H34.1V494.6H34.8V489.8H35.5V488.2H36.2V484.6H36.9V481.6H37.6V474.1H38.3V471.2H39V466.3H39.7V463.2H40.4V462H41.1V456.3H41.8V451.1H42.5V449.4H43.2V442.8H43.9V450.2H44.6V454.8H45.3V454.3H46V460.3H46.7V457.8H47.4V462H48.1V464.1H48.8V467.9H49.5V470.1H50.2V475.3H50.9V482.7H51.6V486.8H52.3V495.7H53V501.4H53.7V509.5H54.4V513.9H55.1V519.5H55.8V525H56.5V529.3H57.2V530.8H57.9V532.2H58.6V533.6H59.3V534.1H60V534.6H60V534.6Z" fill="#0a0a0a"/>
<path d="M48 474.4H48.6V468.5H49.2V463.7H49.8V460.2H50.4V456.3H51V452.1H51.6V451.5H52.2V449.6H52.8V451.5H53.4V453.1H54V454H54.6V453.7H55.2V452.4H55.8V451.8H56.4V451H57V450.7H57.6V450H58.2V453.7H58.8V457.7H59.4V466.5H60V473.3H60.6V480.4H61.2V485.9H61.8V491.2H62.4V496.2H63V502.1H63.6V507.3H64.2V512.3H64.8V516H65.4V519.6H66V521.4H66.6V523.2H67.2V525.1H67.8V526.4H68.4V527.4H69V528.3H69.6V529.3H70.2V530.2H70.8V530.5H71.4V531H72V531.4H72.6V531.8H73.2V531.8H73.8V531.9H74.4V531.9H75V531.9H75.6V532H76.2V532H76.8V532H77.4V532H78V532H78.6V529.7H79.2V529.7H79.8V531.7H80.4V532H81V532H81.6V532H82.2V532H82.8V532H83.4V532H84V532H84.6V529.8H85.2V529.8H85.8V531.9H86.4V532.2H87V532.2H87.6V532.2H88.2V532.2H88.8V532.2H89.4V532.2H90V532.2H90.6V532.2H91.2V532.2H91.8V532.2H92.4V532.2H93V532.2H93.6V532.2H94.2V531.5H94.8V529.5H95.4V530.1H96V532.1H96.6V532.4H97.2V532.4H97.8V532.5H98.4V532.5H99V532.5H99.6V531.3H100.2V531.1H100.8V532.5H101.4V533H102V533H102.6V533H103.2V533H103.8V533H104.4V533H105V533H105.6V533H106.2V533H106.8V533H107.4V533H108V531.3H108.6V529.6H109.2V531.4H109.8V533.2H110.4V533.2H111V533.2H111.6V533.3H112.2V533.3H112.8V533.3H113.4V533.3H114V533.3H114.6V533.3H115.2V533.3H115.8V533.3H116.4V533.4H117V533.4H117.6V533.4H118.2V533.4H118.8V533.4H119.4V533.4H120V533.4H120.6V533.4H121.2V533.4H121.8V533.4H122.4V533.5H123V533.5H123.6V533.5H124.2V533.5H124.8V533.5H125.4V533.5H126V533.5H126.6V533.5H127.2V533.5H127.8V533.5H128.4V533.5H129V533.5H129.6V533.5H130.2V533.5H130.8V533.5H131.4V533.6H132V533.6H132.6V533.6H133.2V533.6H133.8V533.6H134.4V533.6H135V533.6" stroke="#111" stroke-width="1.9" fill="none" stroke-linejoin="miter"/>
<text x="92.1" y="572.9" font-size="12.4" text-anchor="middle" font-weight="bold" textLength="24.6" lengthAdjust="spacingAndGlyphs" stroke="#111" stroke-width=".4">c-Kit</text>
<path d="M201.3 421.3V536H335" stroke="#111" stroke-width="1.5" fill="none"/>
<path d="M201.3 536v2.6M211.4 536v1.7M217.2 536v1.7M221.4 536v1.7M224.7 536v1.7M227.3 536v1.7M229.5 536v1.7M231.5 536v1.7M233.2 536v1.7M234.7 536v2.6M244.8 536v1.7M250.7 536v1.7M254.8 536v1.7M258.1 536v1.7M260.7 536v1.7M263 536v1.7M264.9 536v1.7M266.6 536v1.7M268.1 536v2.6M278.2 536v1.7M284.1 536v1.7M288.3 536v1.7M291.5 536v1.7M294.2 536v1.7M296.4 536v1.7M298.3 536v1.7M300 536v1.7M301.6 536v2.6M311.6 536v1.7M317.5 536v1.7M321.7 536v1.7M324.9 536v1.7M327.6 536v1.7M329.8 536v1.7M331.8 536v1.7M333.5 536v1.7M335 536v2.6M201.3 536h-2.6M201.3 507.3h-2.6M201.3 478.6h-2.6M201.3 450h-2.6M201.3 421.3h-2.6" stroke="#111" stroke-width=".95" fill="none"/>
<text x="201.9" y="546.9" font-size="7.4" font-weight="bold" text-anchor="middle" stroke="#111" stroke-width=".4" textLength="10.6" lengthAdjust="spacingAndGlyphs">10<tspan font-size="5" dy="-2">0</tspan></text>
<text x="235.3" y="546.9" font-size="7.4" font-weight="bold" text-anchor="middle" stroke="#111" stroke-width=".4" textLength="10.6" lengthAdjust="spacingAndGlyphs">10<tspan font-size="5" dy="-2">1</tspan></text>
<text x="268.8" y="546.9" font-size="7.4" font-weight="bold" text-anchor="middle" stroke="#111" stroke-width=".4" textLength="10.6" lengthAdjust="spacingAndGlyphs">10<tspan font-size="5" dy="-2">2</tspan></text>
<text x="302.2" y="546.9" font-size="7.4" font-weight="bold" text-anchor="middle" stroke="#111" stroke-width=".4" textLength="10.6" lengthAdjust="spacingAndGlyphs">10<tspan font-size="5" dy="-2">3</tspan></text>
<text x="334.4" y="546.9" font-size="7.4" font-weight="bold" text-anchor="middle" stroke="#111" stroke-width=".4" textLength="10.6" lengthAdjust="spacingAndGlyphs">10<tspan font-size="5" dy="-2">4</tspan></text>
<text x="196.7" y="423.8" font-size="7.4" font-weight="bold" stroke="#111" stroke-width=".4" text-anchor="middle" textLength="12.9" lengthAdjust="spacingAndGlyphs" transform="rotate(-90 196.7 423.8)">140</text>
<text x="196.7" y="536" font-size="7.4" font-weight="bold" stroke="#111" stroke-width=".4" text-anchor="middle" transform="rotate(-90 196.7 536)">0</text>
<path d="M201.3 536V525.4H201.9V525H202.5V523.1H203.1V520.4H203.7V518.3H204.3V516.6H204.9V516H205.5V513.2H206.1V507.8H206.7V508.2H207.3V507.2H207.9V502.5H208.5V498.4H209.1V496.3H209.7V492.9H210.3V486.6H210.9V482.8H211.5V478.8H212.1V472.4H212.7V468.9H213.3V469.8H213.9V460.4H214.5V458.3H215.1V449.3H215.7V452.6H216.3V450.9H216.9V445.2H217.5V440.7H218.1V451H218.7V450.4H219.3V452.6H219.9V449.1H220.5V449.8H221.1V463.5H221.7V465.3H222.3V469.4H222.9V476.4H223.5V473.8H224.1V482.5H224.7V487.3H225.3V486.6H225.9V494.5H226.5V499.8H227.1V505H227.7V509.5H228.3V513.9H228.9V519.2H229.5V522.4H230.1V524H230.7V527.5H231.3V530.3H231.9V531.1H232.5V532.5H233.1V533.3H233.7V534.5H234.3V535H234.9V535.3H235.5V535.7H236V536Z" fill="#0a0a0a"/>
<path d="M226 527.8H226.6V522.7H227.2V517.8H227.8V514.8H228.4V509.7H229V503.9H229.6V502.2H230.2V496.9H230.8V490.5H231.4V485.7H232V478.2H232.6V473.1H233.2V471H233.8V468.9H234.4V465.9H235V462.8H235.6V462H236.2V454.9H236.8V456.4H237.4V447.5H238V446.7H238.6V449H239.2V442H239.8V443.3H240.4V452.2H241V455.7H241.6V464.6H242.2V463.8H242.8V474.8H243.4V478H244V483.6H244.6V490.9H245.2V499.8H245.8V503.4H246.4V507.6H247V509.9H247.6V511.5H248.2V513.5H248.8V517.1H249.4V518.3H250V519.8H250.6V521.9H251.2V522.5H251.8V523.9H252.4V525.7H253V526.9H253.6V527.5H254.2V528.7H254.8V529.9H255.4V530.4H256V530.8H256.6V530.9H257.2V531.5H257.8V531.8H258.4V532H259V532.2H259.6V532.7H260.2V532.9H260.8V533H261.4V533.3H262V533.6H262.6V533.8H263.2V534H263.8V534.1H264.4V534.3H265V534.4H265.6V534.5H266.2V534.6H266.8V534.7H267.4V534.9H268V535H268.6V535H269.2V535H269.8V535.1H270.4V535H271V535.1H271.6V535.1H272.2V535.1H272.8V535.1H273.4V535.1H274V535.2H274.6V535.2H275.2V535.2H275.8V535.2H276.4V535.2H277V535.2H277.6V535.3H278.2V535.3H278.8V535.3H279.4V535.3H280V535.3H280.6V535.3H281.2V535.4H281.8V535.4H282.4V535.4H283V535.4H283.6V535.5H284.2V535.5H284.8V535.5H285.4V535.5H286V535.5H286.6V535.5H287.2V535.5H287.8V535.5H288.4V535.5H289V535.5H289.6V535.5H290.2V535.5H290.8V535.5H291.4V535.5H292V535.5H292.6V535.5H293.2V535.5H293.8V535.5H294.4V535.5H295V535.5H295.6V535.6H296.2V535.6H296.8V535.5H297.4V535.6H298V535.6H298.6V535.6H299.2V535.6H299.8V535.6H300.4V535.6H301V535.6H301.6V535.6H302.2V535.6H302.8V535.6H303.4V535.6H304V535.6H304.6V535.6H305.2V535.6H305.8V535.6H306.4V535.6H307V535.6H307.6V535.6H308.2V535.6H308.8V535.6H309.4V535.6H310V535.6H310.6V535.6H311.2V535.6H311.8V535.6H312.4V535.6H313V535.6H313.6V535.6H314.2V535.6H314.8V535.6H315.4V535.6H316V535.6H316.6V535.6H317.2V535.6H317.8V535.6H318.4V535.7H319V535.6H319.6V535.7H320.2V535.7H320.8V535.7H321.4V535.7H322V535.6H322.6V535.7H323.2V535.7H323.8V535.7H324.4V535.7H325V535.7H325.6V535.7H326.2V535.7H326.8V535.7H327.4V535.7H328V535.7H328.6V535.7H329.2V535.7H329.8V535.7" stroke="#222" stroke-width="0.85" fill="none" stroke-linejoin="miter"/>
<text x="269.3" y="572.8" font-size="11.8" text-anchor="middle" font-weight="bold" textLength="71.3" lengthAdjust="spacingAndGlyphs" stroke="#111" stroke-width=".2">Thy-1 (CD90)</text>
<path d="M376.3 422V536H510.6" stroke="#111" stroke-width="1.5" fill="none"/>
<path d="M376.3 536v2.6M386.4 536v1.7M392.3 536v1.7M396.5 536v1.7M399.8 536v1.7M402.4 536v1.7M404.7 536v1.7M406.6 536v1.7M408.3 536v1.7M409.9 536v2.6M420 536v1.7M425.9 536v1.7M430.1 536v1.7M433.3 536v1.7M436 536v1.7M438.2 536v1.7M440.2 536v1.7M441.9 536v1.7M443.5 536v2.6M453.6 536v1.7M459.5 536v1.7M463.7 536v1.7M466.9 536v1.7M469.6 536v1.7M471.8 536v1.7M473.8 536v1.7M475.5 536v1.7M477 536v2.6M487.1 536v1.7M493 536v1.7M497.2 536v1.7M500.5 536v1.7M503.2 536v1.7M505.4 536v1.7M507.3 536v1.7M509.1 536v1.7M510.6 536v2.6M376.3 536h-2.6M376.3 507.5h-2.6M376.3 479h-2.6M376.3 450.5h-2.6M376.3 422h-2.6" stroke="#111" stroke-width=".95" fill="none"/>
<text x="376.9" y="546.9" font-size="7.4" font-weight="bold" text-anchor="middle" stroke="#111" stroke-width=".4" textLength="10.6" lengthAdjust="spacingAndGlyphs">10<tspan font-size="5" dy="-2">0</tspan></text>
<text x="410.5" y="546.9" font-size="7.4" font-weight="bold" text-anchor="middle" stroke="#111" stroke-width=".4" textLength="10.6" lengthAdjust="spacingAndGlyphs">10<tspan font-size="5" dy="-2">1</tspan></text>
<text x="444.1" y="546.9" font-size="7.4" font-weight="bold" text-anchor="middle" stroke="#111" stroke-width=".4" textLength="10.6" lengthAdjust="spacingAndGlyphs">10<tspan font-size="5" dy="-2">2</tspan></text>
<text x="477.6" y="546.9" font-size="7.4" font-weight="bold" text-anchor="middle" stroke="#111" stroke-width=".4" textLength="10.6" lengthAdjust="spacingAndGlyphs">10<tspan font-size="5" dy="-2">3</tspan></text>
<text x="510" y="546.9" font-size="7.4" font-weight="bold" text-anchor="middle" stroke="#111" stroke-width=".4" textLength="10.6" lengthAdjust="spacingAndGlyphs">10<tspan font-size="5" dy="-2">4</tspan></text>
<text x="371.7" y="423.8" font-size="7.4" font-weight="bold" stroke="#111" stroke-width=".4" text-anchor="middle" textLength="12.9" lengthAdjust="spacingAndGlyphs" transform="rotate(-90 371.7 423.8)">120</text>
<text x="371.7" y="536" font-size="7.4" font-weight="bold" stroke="#111" stroke-width=".4" text-anchor="middle" transform="rotate(-90 371.7 536)">0</text>
<path d="M376.3 536V516.8H376.9V513.1H377.5V515.4H378.1V515.1H378.7V512.8H379.3V511.2H379.9V509.3H380.5V507.9H381.1V501.5H381.7V502.7H382.3V500.2H382.9V499.3H383.5V497H384.1V492.3H384.7V493.3H385.3V485.4H385.9V485.2H386.5V485.7H387.1V482.7H387.7V481.7H388.3V484.5H388.9V480.1H389.5V482.5H390.1V481.7H390.7V476.1H391.3V470.6H391.9V472.8H392.5V474.9H393.1V465H393.7V461.2H394.3V451.2H394.9V465.4H395.5V460.6H396.1V463.9H396.7V470.3H397.3V471.4H397.9V468.1H398.5V466.7H399.1V469.9H399.7V458.3H400.3V468.2H400.9V470.5H401.5V466.7H402.1V473.7H402.7V476.3H403.3V475H403.9V478.2H404.5V486.2H405.1V487H405.7V495.1H406.3V497.8H406.9V500.8H407.5V499.5H408.1V509H408.7V510.3H409.3V511H409.9V517.9H410.5V520.9H411.1V524.1H411.7V527.1H412.3V527.9H412.9V529.8H413.5V531.1H414.1V532.2H414.7V533.2H415.3V533.7H415.9V533.9H416.5V534.2H417.1V534.2H417.7V534.8H418.3V535.1H418.9V535.3H419.5V535.5H420.1V535.7H420.7V535.9H421V536Z" fill="#0a0a0a"/>
<path d="M409.5 530.1H410.1V525.9H410.7V523.4H411.3V519.8H411.9V518.7H412.5V516.3H413.1V515.1H413.7V512.1H414.3V509.5H414.9V502.6H415.5V503.9H416.1V505.9H416.7V501.6H417.3V503.5H417.9V498.2H418.5V498.2H419.1V491.8H419.7V495.5H420.3V485.7H420.9V490.4H421.5V478H422.1V479.9H422.7V485.7H423.3V470.9H423.9V476.2H424.5V471.9H425.1V472.9H425.7V457.5H426.3V469.2H426.9V453.6H427.5V457.2H428.1V447.7H428.7V457.8H429.3V466.2H429.9V453.9H430.5V463.4H431.1V476.2H431.7V468.6H432.3V476.2H432.9V492H433.5V498.4H434.1V496.7H434.7V505.7H435.3V505.1H435.9V510.7H436.5V513H437.1V517H437.7V518.9H438.3V521.6H438.9V525H439.5V526.8H440.1V529.1H440.7V530.9H441.3V531.9H441.9V532.2H442.5V533.8H443.1V533.9H443.7V534.2H444.3V534.3H444.9V534.5H445.5V534.7H446.1V535H446.7V535.1H447.3V535.1H447.9V535.1H448.5V535.1H449.1V535.3H449.7V535.2H450.3V535.3H450.9V535.3H451.5V535.5H452.1V535.5H452.7V535.5H453.3V535.5H453.9V535.6H454.5V535.5H455.1V535.5H455.7V535.5H456.3V535.5H456.9V535.6H457.5V535.5H458.1V535.6H458.7V535.6H459.3V535.5H459.9V535.5H460.5V535.5H461.1V535.6H461.7V535.6H462.3V535.6H462.9V535.5H463.5V535.6H464.1V535.6H464.7V535.5H465.3V535.6H465.9V535.5H466.5V535.6H467.1V535.6H467.7V535.6H468.3V535.6H468.9V535.6H469.5V535.5H470.1V535.6H470.7V535.6H471.3V535.7H471.9V535.6H472.5V535.6H473.1V535.6H473.7V535.7H474.3V535.7H474.9V535.6H475.5V535.6H476.1V535.6H476.7V535.6H477.3V535.6H477.9V535.7H478.5V535.7H479.1V535.6H479.7V535.7H480.3V535.7H480.9V535.7H481.5V535.7H482.1V535.7H482.7V535.7H483.3V535.7H483.9V535.7H484.5V535.7H485.1V535.7H485.7V535.7H486.3V535.7H486.9V535.7H487.5V535.7H488.1V535.7H488.7V535.7H489.3V535.7H489.9V535.7H490.5V535.7H491.1V535.7H491.7V535.7H492.3V535.7H492.9V535.7H493.5V535.7H494.1V535.8H494.7V535.7H495.3V535.7H495.9V535.7H496.5V535.8H497.1V535.7H497.7V535.7H498.3V535.8H498.9V535.8H499.5V535.7H500.1V535.7H500.7V535.8H501.3V535.8H501.9V535.8H502.5V535.8H503.1V535.8H503.7V535.8H504.3V535.8H504.9V535.8" stroke="#222" stroke-width="0.85" fill="none" stroke-linejoin="miter"/>
<text x="445.6" y="572.9" font-size="12.8" text-anchor="middle" font-weight="bold" textLength="18.5" lengthAdjust="spacingAndGlyphs" stroke="#111" stroke-width=".35">Flt3</text>
<clipPath id="b101"><rect x="46.3" y="624.8" width="93.7" height="59.6"/></clipPath>
<path d="M46.3 675.6H47V672.2H47.7V673.1H48.4V673.9H49.1V671.6H49.8V670.1H50.5V671.4H51.2V668.9H51.9V667.4H52.6V665.9H53.3V665.2H54V663.4H54.7V662.5H55.4V658.3H56.1V656.3H56.8V658H57.5V656H58.2V658H58.9V653.3H59.6V655H60.3V654.3H61V655.2H61.7V655.9H62.4V655.8H63.1V653.7H63.8V655.3H64.5V656.7H65.2V661H65.9V663H66.6V670.6H67.3V672.7H68V671.8H68.7V677H69.4V678H70.1V679.6H70.8V683V683.8H46.3Z" fill="#0a0a0a" clip-path="url(#b101)"/>
<path d="M70.9 681.9H71.7V680.3H72.4V678.7H73.2V675.5H74V675.6H74.7V672.5H75.5V671.9H76.3V668.9H77.1V667.1H77.8V665.6H78.6V662.9H79.4V658.4H80.1V659H80.9V653.8H81.7V651.7H82.4V651.6H83.2V648.7H84V650.4H84.8V649.9H85.5V651.5H86.3V653.5H87.1V654.3H87.8V661.6H88.6V664.9H89.4V668.4H90.1V671.8H90.9V674.9H91.7V677.1H92.5V678.6H93.2V680.7H94V681.4H94.8V682.2H95.5V682.2H96.3V683.1H97.1V682.1H97.8V683H98.6V683.2H99.4V682.3H100.2V683H100.9V682.3H101.7V683.1H102.5V683.3H103.2V683.4H104V682.4H104.8V682.8H105.5V682.8H106.3V682.3H107.1V683.2H107.9V683.5H108.6V683.1H109.4V683.4H110.2V682.6H110.9V683.4H111.7V683.5H112.5V682.9H113.2V682.5H114V683.7H114.8V683.1H115.6V682.4H116.3V683.4H117.1V682.4H117.9V682.5H118.6V682.9H119.4V683.6H120.2V683.8H120.9V682.8H121.7V682.9H122.5V683.2H123.3V683.1H124V683.2H124.8V683.1H125.6V683.1H126.3V683.1H127.1V683.2H127.9V683.2H128.6V683.1H129.4V683.2H130.2V683.1H131V683.2H131.7V683.1H132.5V683.1H133.3V683.1H134V683.1H134.8V683.2H135.6V683.2H136.3V683.2H137.1V683.2H137.9V683.2H138.7V683.2H139.4V683.3" fill="none" stroke="#111" stroke-width="1.3" clip-path="url(#b101)"/>
<rect x="46.3" y="625.8" width="93.7" height="58" fill="none" stroke="#111" stroke-width="1.25"/>
<path d="M46.3 683.8h-2.6M46.3 680.9h-1.4M46.3 678h-1.4M46.3 675.1h-1.4M46.3 672.2h-1.4M46.3 669.3h-2.6M46.3 666.4h-1.4M46.3 663.5h-1.4M46.3 660.6h-1.4M46.3 657.7h-1.4M46.3 654.8h-2.6M46.3 651.9h-1.4M46.3 649h-1.4M46.3 646.1h-1.4M46.3 643.2h-1.4M46.3 640.3h-2.6M46.3 637.4h-1.4M46.3 634.5h-1.4M46.3 631.6h-1.4M46.3 628.7h-1.4M46.3 625.8h-2.6M46.3 683.8v1.8M69.7 683.8v1.8M93.2 683.8v1.8M116.6 683.8v1.8M140 683.8v1.8" stroke="#111" stroke-width="1" fill="none"/>
<text x="41.8" y="687.6" font-size="9.6" font-weight="bold" text-anchor="end" stroke="#111" stroke-width=".35" textLength="5.4" lengthAdjust="spacingAndGlyphs">0</text>
<text x="41.8" y="673.1" font-size="9.6" font-weight="bold" text-anchor="end" stroke="#111" stroke-width=".35" textLength="5.4" lengthAdjust="spacingAndGlyphs">5</text>
<text x="41.8" y="658.6" font-size="9.6" font-weight="bold" text-anchor="end" stroke="#111" stroke-width=".35" textLength="10.8" lengthAdjust="spacingAndGlyphs">10</text>
<text x="41.8" y="644.1" font-size="9.6" font-weight="bold" text-anchor="end" stroke="#111" stroke-width=".35" textLength="10.8" lengthAdjust="spacingAndGlyphs">15</text>
<text x="41.8" y="629.6" font-size="9.6" font-weight="bold" text-anchor="end" stroke="#111" stroke-width=".35" textLength="10.8" lengthAdjust="spacingAndGlyphs">20</text>
<text x="42.1" y="696.2" font-size="10.3" font-weight="bold" stroke="#111" stroke-width=".25" textLength="11.4" lengthAdjust="spacingAndGlyphs">10</text>
<text x="53.3" y="695.8" font-size="6.9" font-weight="bold" stroke="#111" stroke-width=".2" textLength="3.7" lengthAdjust="spacingAndGlyphs">0</text>
<text x="64.8" y="696.2" font-size="10.3" font-weight="bold" stroke="#111" stroke-width=".25" textLength="11.4" lengthAdjust="spacingAndGlyphs">10</text>
<text x="76" y="695.8" font-size="6.9" font-weight="bold" stroke="#111" stroke-width=".2" textLength="3.7" lengthAdjust="spacingAndGlyphs">1</text>
<text x="87.5" y="696.2" font-size="10.3" font-weight="bold" stroke="#111" stroke-width=".25" textLength="11.4" lengthAdjust="spacingAndGlyphs">10</text>
<text x="98.8" y="695.8" font-size="6.9" font-weight="bold" stroke="#111" stroke-width=".2" textLength="3.7" lengthAdjust="spacingAndGlyphs">2</text>
<text x="110.3" y="696.2" font-size="10.3" font-weight="bold" stroke="#111" stroke-width=".25" textLength="11.4" lengthAdjust="spacingAndGlyphs">10</text>
<text x="121.5" y="695.8" font-size="6.9" font-weight="bold" stroke="#111" stroke-width=".2" textLength="3.7" lengthAdjust="spacingAndGlyphs">3</text>
<text x="133" y="696.2" font-size="10.3" font-weight="bold" stroke="#111" stroke-width=".25" textLength="11.4" lengthAdjust="spacingAndGlyphs">10</text>
<text x="144.2" y="695.8" font-size="6.9" font-weight="bold" stroke="#111" stroke-width=".2" textLength="3.7" lengthAdjust="spacingAndGlyphs">4</text>
<clipPath id="b102"><rect x="167.5" y="625.3" width="93.3" height="59.8"/></clipPath>
<path d="M167.5 677.6H168.2V676.5H168.9V675.5H169.6V674.2H170.3V674.8H171V672.5H171.7V668.4H172.4V668.7H173.1V666H173.8V661.1H174.5V660.1H175.2V658.3H175.9V655.6H176.6V648.5H177.3V649.9H178V646.2H178.7V642.7H179.4V642.9H180.1V637.3H180.8V642.7H181.5V639.6H182.2V642.6H182.9V642.8H183.6V646.6H184.3V653.2H185V658.4H185.7V659.9H186.4V666.1H187.1V668.8H187.8V672.8H188.5V674.7H189.2V677.5H189.9V681H190.6V681.5H191.3V683.5V684.5H167.5Z" fill="#0a0a0a" clip-path="url(#b102)"/>
<path d="M181.5 647.8H182.3V644.4H183V647.7H183.8V644.5H184.6V647.6H185.3V648.4H186.1V653.2H186.9V656H187.7V658.4H188.4V660H189.2V663.1H190V666.4H190.7V667.2H191.5V669.5H192.3V671.3H193V672.5H193.8V675.7H194.6V676.2H195.4V676.6H196.1V676.3H196.9V678.7H197.7V679.2H198.4V678.3H199.2V678.1H200V678.2H200.7V678.5H201.5V678.9H202.3V678.8H203.1V680.7H203.8V680.5H204.6V680.6H205.4V680.5H206.1V681.2H206.9V681.1H207.7V682.1H208.4V682.8H209.2V682.5H210V681.7H210.8V681.6H211.5V681.9H212.3V681.3H213.1V682.1H213.8V681.7H214.6V682.1H215.4V681H216.1V680.9H216.9V682.1H217.7V682H218.5V681.1H219.2V682.1H220V682.1H220.8V681.4H221.5V681.7H222.3V681.7H223.1V681.1H223.8V682H224.6V682.7H225.4V682.4H226.2V682.1H226.9V683.2H227.7V681.8H228.5V682.9H229.2V682.2H230V682.8H230.8V683.5H231.5V682.7H232.3V683.4H233.1V683.5H233.9V682.7H234.6V683.7H235.4V683.1H236.2V683.2H236.9V683H237.7V683.9H238.5V683.2H239.2V683.1H240V683.5H240.8V684.2H241.6V683.9H242.3V683.9H243.1V683.9H243.9V683.8H244.6V683.8H245.4V683.9H246.2V683.9H246.9V683.9H247.7V683.9H248.5V684H249.3V683.9H250V684H250.8V684H251.6V684H252.3V684.1H253.1V684.1H253.9V684H254.6V684.1H255.4V684.1H256.2V684.1H257V684.1H257.7V684.2H258.5V684.2H259.3V684.2H260V684.2" fill="none" stroke="#111" stroke-width="1.3" clip-path="url(#b102)"/>
<rect x="167.5" y="626.3" width="93.3" height="58.2" fill="none" stroke="#111" stroke-width="1.25"/>
<path d="M167.5 684.5h-2.6M167.5 681.6h-1.4M167.5 678.7h-1.4M167.5 675.8h-1.4M167.5 672.9h-1.4M167.5 670h-2.6M167.5 667h-1.4M167.5 664.1h-1.4M167.5 661.2h-1.4M167.5 658.3h-1.4M167.5 655.4h-2.6M167.5 652.5h-1.4M167.5 649.6h-1.4M167.5 646.7h-1.4M167.5 643.8h-1.4M167.5 640.8h-2.6M167.5 637.9h-1.4M167.5 635h-1.4M167.5 632.1h-1.4M167.5 629.2h-1.4M167.5 626.3h-2.6M167.5 684.5v1.8M190.8 684.5v1.8M214.2 684.5v1.8M237.5 684.5v1.8M260.8 684.5v1.8" stroke="#111" stroke-width="1" fill="none"/>
<text x="163" y="688.3" font-size="9.6" font-weight="bold" text-anchor="end" stroke="#111" stroke-width=".35" textLength="5.4" lengthAdjust="spacingAndGlyphs">0</text>
<text x="163" y="673.8" font-size="9.6" font-weight="bold" text-anchor="end" stroke="#111" stroke-width=".35" textLength="10.8" lengthAdjust="spacingAndGlyphs">10</text>
<text x="163" y="659.2" font-size="9.6" font-weight="bold" text-anchor="end" stroke="#111" stroke-width=".35" textLength="10.8" lengthAdjust="spacingAndGlyphs">20</text>
<text x="163" y="644.6" font-size="9.6" font-weight="bold" text-anchor="end" stroke="#111" stroke-width=".35" textLength="10.8" lengthAdjust="spacingAndGlyphs">30</text>
<text x="163" y="630.1" font-size="9.6" font-weight="bold" text-anchor="end" stroke="#111" stroke-width=".35" textLength="10.8" lengthAdjust="spacingAndGlyphs">40</text>
<text x="162.8" y="696.9" font-size="10.3" font-weight="bold" stroke="#111" stroke-width=".25" textLength="11.4" lengthAdjust="spacingAndGlyphs">10</text>
<text x="174" y="696.5" font-size="6.9" font-weight="bold" stroke="#111" stroke-width=".2" textLength="3.7" lengthAdjust="spacingAndGlyphs">0</text>
<text x="185.4" y="696.9" font-size="10.3" font-weight="bold" stroke="#111" stroke-width=".25" textLength="11.4" lengthAdjust="spacingAndGlyphs">10</text>
<text x="196.6" y="696.5" font-size="6.9" font-weight="bold" stroke="#111" stroke-width=".2" textLength="3.7" lengthAdjust="spacingAndGlyphs">1</text>
<text x="208.1" y="696.9" font-size="10.3" font-weight="bold" stroke="#111" stroke-width=".25" textLength="11.4" lengthAdjust="spacingAndGlyphs">10</text>
<text x="219.3" y="696.5" font-size="6.9" font-weight="bold" stroke="#111" stroke-width=".2" textLength="3.7" lengthAdjust="spacingAndGlyphs">2</text>
<text x="230.7" y="696.9" font-size="10.3" font-weight="bold" stroke="#111" stroke-width=".25" textLength="11.4" lengthAdjust="spacingAndGlyphs">10</text>
<text x="241.9" y="696.5" font-size="6.9" font-weight="bold" stroke="#111" stroke-width=".2" textLength="3.7" lengthAdjust="spacingAndGlyphs">3</text>
<text x="253.3" y="696.9" font-size="10.3" font-weight="bold" stroke="#111" stroke-width=".25" textLength="11.4" lengthAdjust="spacingAndGlyphs">10</text>
<text x="264.5" y="696.5" font-size="6.9" font-weight="bold" stroke="#111" stroke-width=".2" textLength="3.7" lengthAdjust="spacingAndGlyphs">4</text>
<clipPath id="b103"><rect x="291.3" y="625.3" width="94.2" height="59.8"/></clipPath>
<path d="M291.3 676.5H292V675.5H292.7V677.4H293.4V675.7H294.1V673.7H294.8V671.9H295.5V671.9H296.2V667.2H296.9V667.3H297.6V664.3H298.3V661.5H299V654.3H299.7V653.4H300.4V649.2H301.1V650.9H301.8V644.5H302.5V643H303.2V645.4H303.9V642.6H304.6V634.9H305.3V642.4H306V648.3H306.7V653.4H307.4V657.7H308.1V658.2H308.8V662.5H309.5V669.5H310.2V667.9H310.9V672.8H311.6V676.5H312.3V678H313V679.2H313.7V680.8H314.4V683.1V684.5H291.3Z" fill="#0a0a0a" clip-path="url(#b103)"/>
<path d="M308.3 678.9H309V675.1H309.8V672.4H310.6V670.7H311.3V666.5H312.1V664.6H312.9V662.4H313.6V659.7H314.4V657.2H315.2V656.4H316V656.8H316.7V657.4H317.5V653.9H318.3V654.3H319V654H319.8V658.3H320.6V659H321.3V662.4H322.1V663H322.9V665.6H323.7V665.9H324.4V667.4H325.2V670.7H326V671.6H326.7V673.1H327.5V673.5H328.3V675.1H329V675H329.8V676.2H330.6V677.8H331.4V679.1H332.1V679.8H332.9V679.8H333.7V680.9H334.4V680.8H335.2V681.5H336V682.9H336.7V682.3H337.5V682.3H338.3V682.6H339.1V683.7H339.8V683.2H340.6V683.3H341.4V683.8H342.1V683.6H342.9V683.8H343.7V683.9H344.4V684H345.2V684H346V684H346.8V684.1H347.5V684.1H348.3V684.1H349.1V684.1H349.8V684.1H350.6V684.1H351.4V684.1H352.1V684.1H352.9V684.1H353.7V684.1H354.5V684.1H355.2V684.1H356V684.1H356.8V684.1H357.5V684.1H358.3V684.1H359.1V684.1H359.8V684.1H360.6V684.1H361.4V684.1H362.2V684.1H362.9V684.1H363.7V684.1H364.5V684.1H365.2V684.1H366V684.1H366.8V684.2H367.5V684.2H368.3V684.1H369.1V684.2H369.9V684.2H370.6V684.2H371.4V684.1H372.2V684.2H372.9V684.1H373.7V684.2H374.5V684.2H375.2V684.2H376V684.2H376.8V684.2H377.6V684.2H378.3V684.2H379.1V684.2H379.9V684.2H380.6V684.2H381.4V684.2H382.2V684.2H382.9V684.2H383.7V684.2H384.5V684.2H385.3V684.2" fill="none" stroke="#111" stroke-width="1.3" clip-path="url(#b103)"/>
<rect x="291.3" y="626.3" width="94.2" height="58.2" fill="none" stroke="#111" stroke-width="1.25"/>
<path d="M291.3 684.5h-2.6M291.3 681.6h-1.4M291.3 678.7h-1.4M291.3 675.8h-1.4M291.3 672.9h-1.4M291.3 670h-2.6M291.3 667h-1.4M291.3 664.1h-1.4M291.3 661.2h-1.4M291.3 658.3h-1.4M291.3 655.4h-2.6M291.3 652.5h-1.4M291.3 649.6h-1.4M291.3 646.7h-1.4M291.3 643.8h-1.4M291.3 640.8h-2.6M291.3 637.9h-1.4M291.3 635h-1.4M291.3 632.1h-1.4M291.3 629.2h-1.4M291.3 626.3h-2.6M291.3 684.5v1.8M314.9 684.5v1.8M338.4 684.5v1.8M361.9 684.5v1.8M385.5 684.5v1.8" stroke="#111" stroke-width="1" fill="none"/>
<text x="286.8" y="688.3" font-size="9.6" font-weight="bold" text-anchor="end" stroke="#111" stroke-width=".35" textLength="5.4" lengthAdjust="spacingAndGlyphs">0</text>
<text x="286.8" y="673.8" font-size="9.6" font-weight="bold" text-anchor="end" stroke="#111" stroke-width=".35" textLength="10.8" lengthAdjust="spacingAndGlyphs">10</text>
<text x="286.8" y="659.2" font-size="9.6" font-weight="bold" text-anchor="end" stroke="#111" stroke-width=".35" textLength="10.8" lengthAdjust="spacingAndGlyphs">20</text>
<text x="286.8" y="644.6" font-size="9.6" font-weight="bold" text-anchor="end" stroke="#111" stroke-width=".35" textLength="10.8" lengthAdjust="spacingAndGlyphs">30</text>
<text x="286.8" y="630.1" font-size="9.6" font-weight="bold" text-anchor="end" stroke="#111" stroke-width=".35" textLength="10.8" lengthAdjust="spacingAndGlyphs">40</text>
<text x="287.1" y="696.9" font-size="10.3" font-weight="bold" stroke="#111" stroke-width=".25" textLength="11.4" lengthAdjust="spacingAndGlyphs">10</text>
<text x="298.3" y="696.5" font-size="6.9" font-weight="bold" stroke="#111" stroke-width=".2" textLength="3.7" lengthAdjust="spacingAndGlyphs">0</text>
<text x="310" y="696.9" font-size="10.3" font-weight="bold" stroke="#111" stroke-width=".25" textLength="11.4" lengthAdjust="spacingAndGlyphs">10</text>
<text x="321.2" y="696.5" font-size="6.9" font-weight="bold" stroke="#111" stroke-width=".2" textLength="3.7" lengthAdjust="spacingAndGlyphs">1</text>
<text x="332.8" y="696.9" font-size="10.3" font-weight="bold" stroke="#111" stroke-width=".25" textLength="11.4" lengthAdjust="spacingAndGlyphs">10</text>
<text x="344" y="696.5" font-size="6.9" font-weight="bold" stroke="#111" stroke-width=".2" textLength="3.7" lengthAdjust="spacingAndGlyphs">2</text>
<text x="355.7" y="696.9" font-size="10.3" font-weight="bold" stroke="#111" stroke-width=".25" textLength="11.4" lengthAdjust="spacingAndGlyphs">10</text>
<text x="366.9" y="696.5" font-size="6.9" font-weight="bold" stroke="#111" stroke-width=".2" textLength="3.7" lengthAdjust="spacingAndGlyphs">3</text>
<text x="378.5" y="696.9" font-size="10.3" font-weight="bold" stroke="#111" stroke-width=".25" textLength="11.4" lengthAdjust="spacingAndGlyphs">10</text>
<text x="389.7" y="696.5" font-size="6.9" font-weight="bold" stroke="#111" stroke-width=".2" textLength="3.7" lengthAdjust="spacingAndGlyphs">4</text>
<clipPath id="b104"><rect x="413.2" y="625.5" width="93.4" height="59.3"/></clipPath>
<path d="M413.2 678.5H413.9V680H414.6V679.1H415.3V680H416V678.5H416.7V678.9H417.4V678.5H418.1V677.5H418.8V678.2H419.5V676.4H420.2V676.5H420.9V676.1H421.6V675.5H422.3V675H423V671.8H423.7V673.1H424.4V670H425.1V668.9H425.8V668.5H426.5V666.4H427.2V666.4H427.9V663.1H428.6V666.6H429.3V666.8H430V666H430.7V662.9H431.4V664.7H432.1V660.7H432.8V665.8H433.5V664.9H434.2V668H434.9V670.2H435.6V671.2H436.3V673.1H437V675.4H437.7V676.4H438.4V678.8H439.1V678.6H439.8V678.6H440.5V678.9H441.2V677.7H441.9V678.9H442.6V677.5H443.3V677.7H444V678.9H444.7V679.9H445.4V679.8H446.1V680.1H446.8V679.8H447.5V679.5H448.2V680.4H448.9V681.8V684.2H413.2Z" fill="#0a0a0a" clip-path="url(#b104)"/>
<path d="M413.2 681.4H414.1V681.1H415V680.6H415.9V681.2H416.8V680.5H417.8V681.2H418.7V681.2H419.6V680.9H420.5V680.6H421.4V681.2H422.3V680.6H423.2V681.6H424.1V681.1H425V683.1H425.9V680.6H426.8V683.1H427.8V681.4H428.7V681.3H429.6V680.8H430.5V683.1H431.4V681.5H432.3V681.1H433.2V680.7H434.1V681.6H435V681.3H435.9V681.1H436.9V680.5H437.8V680.5H438.7V681.4H439.6V681.5H440.5V681.5H441.4V681.3H442.3V681.4H443.2V681.4H444.1V680.7H445.1V681H446V681.4H446.9V683.1H447.8V681.5H448.7V681.6H449.6V680.9H450.5V681.6V684.2H413.2Z" fill="#111" clip-path="url(#b104)"/>
<path d="M450.6 682H451.5V683.3H452.4V681.3H453.3V682.2H454.2V681.7H455.1V681.9H456V681.6H456.9V681.4H457.8V681.3H458.8V681.8H459.7V681.4H460.6V681.8H461.5V681.8H462.4V683.3H463.3V682H464.2V681.5H465.1V683.3H466V681.4H466.9V681.5H467.9V681.4H468.8V681.5H469.7V681.6H470.6V682.2H471.5V683.3H472.4V683.3H473.3V681.4H474.2V681.5H475.1V681.4H476V681.8H476.9V681.9H477.9V681.9H478.8V682.1H479.7V682.2H480.6V681.9H481.5V681.5H482.4V683.3H483.3V681.8H484.2V681.9H485.1V682.2H486V682.1H487V682.1H487.9V681.9H488.8V682.1H489.7V682.2H490.6V683.3H491.5V681.7H492.4V681.6H493.3V681.7H494.2V681.9H495.1V682.1H496.1V681.7H497V681.8H497.9V682H498.8V682H499.7V681.4H500.6V681.8H501.5V681.6H502.4V681.4H503.3V682H504.2V681.4H505.2V682H506.1V681.4V684.2H450.6Z" fill="#111" clip-path="url(#b104)"/>
<path d="M448.2 680.7H449V678H449.8V676.8H450.5V675.4H451.3V673.9H452.1V669.9H452.8V668.5H453.6V668.7H454.4V666H455.2V667H455.9V665.9H456.7V663.2H457.5V665.6H458.2V663.1H459V667H459.8V666.2H460.5V669.7H461.3V670.4H462.1V672.2H462.9V671.2H463.6V673.6H464.4V676.1H465.2V677.5H465.9V676.6H466.7V677.5H467.5V679.7H468.2V680.5H469V680.3H469.8V679.7H470.6V680.9H471.3V680.9H472.1V681.8H472.9V681H473.6V680.6H474.4V681.4H475.2V681.1H475.9V680.9H476.7V681.5H477.5V681H478.3V681.9H479V680.9H479.8V680.4H480.6V680.7H481.3V680.8H482.1V681.1H482.9V681.5H483.6V681H484.4V681.5H485.2V681.7H486V681.6H486.7V681H487.5V681.3H488.3V681.2H489V680.9H489.8V681.3H490.6V681.1H491.3V681.3H492.1V680.9H492.9V681.2H493.7V681.6H494.4V681.9H495.2V681.9H496V681.2H496.7V681H497.5V681.6H498.3V681.8H499V681.6H499.8V681.7H500.6V681.3H501.4V681.3H502.1V681.8H502.9V682H503.7V681.5H504.4V680.8H505.2V681.4H506V681.1" fill="none" stroke="#111" stroke-width="1.3" clip-path="url(#b104)"/>
<rect x="413.2" y="626.5" width="93.4" height="57.7" fill="none" stroke="#111" stroke-width="1.25"/>
<path d="M413.2 684.2h-2.6M413.2 681.3h-1.4M413.2 678.4h-1.4M413.2 675.5h-1.4M413.2 672.7h-1.4M413.2 669.8h-2.6M413.2 666.9h-1.4M413.2 664h-1.4M413.2 661.1h-1.4M413.2 658.2h-1.4M413.2 655.4h-2.6M413.2 652.5h-1.4M413.2 649.6h-1.4M413.2 646.7h-1.4M413.2 643.8h-1.4M413.2 640.9h-2.6M413.2 638h-1.4M413.2 635.2h-1.4M413.2 632.3h-1.4M413.2 629.4h-1.4M413.2 626.5h-2.6M413.2 684.2v1.8M436.6 684.2v1.8M459.9 684.2v1.8M483.2 684.2v1.8M506.6 684.2v1.8" stroke="#111" stroke-width="1" fill="none"/>
<text x="408.7" y="688" font-size="9.6" font-weight="bold" text-anchor="end" stroke="#111" stroke-width=".35" textLength="5.4" lengthAdjust="spacingAndGlyphs">0</text>
<text x="408.7" y="673.6" font-size="9.6" font-weight="bold" text-anchor="end" stroke="#111" stroke-width=".35" textLength="5.4" lengthAdjust="spacingAndGlyphs">5</text>
<text x="408.7" y="659.1" font-size="9.6" font-weight="bold" text-anchor="end" stroke="#111" stroke-width=".35" textLength="10.8" lengthAdjust="spacingAndGlyphs">10</text>
<text x="408.7" y="644.7" font-size="9.6" font-weight="bold" text-anchor="end" stroke="#111" stroke-width=".35" textLength="10.8" lengthAdjust="spacingAndGlyphs">15</text>
<text x="408.7" y="630.3" font-size="9.6" font-weight="bold" text-anchor="end" stroke="#111" stroke-width=".35" textLength="10.8" lengthAdjust="spacingAndGlyphs">20</text>
<text x="409.6" y="696.6" font-size="10.3" font-weight="bold" stroke="#111" stroke-width=".25" textLength="11.4" lengthAdjust="spacingAndGlyphs">10</text>
<text x="420.8" y="696.2" font-size="6.9" font-weight="bold" stroke="#111" stroke-width=".2" textLength="3.7" lengthAdjust="spacingAndGlyphs">0</text>
<text x="432.3" y="696.6" font-size="10.3" font-weight="bold" stroke="#111" stroke-width=".25" textLength="11.4" lengthAdjust="spacingAndGlyphs">10</text>
<text x="443.5" y="696.2" font-size="6.9" font-weight="bold" stroke="#111" stroke-width=".2" textLength="3.7" lengthAdjust="spacingAndGlyphs">1</text>
<text x="454.9" y="696.6" font-size="10.3" font-weight="bold" stroke="#111" stroke-width=".25" textLength="11.4" lengthAdjust="spacingAndGlyphs">10</text>
<text x="466.1" y="696.2" font-size="6.9" font-weight="bold" stroke="#111" stroke-width=".2" textLength="3.7" lengthAdjust="spacingAndGlyphs">2</text>
<text x="477.6" y="696.6" font-size="10.3" font-weight="bold" stroke="#111" stroke-width=".25" textLength="11.4" lengthAdjust="spacingAndGlyphs">10</text>
<text x="488.8" y="696.2" font-size="6.9" font-weight="bold" stroke="#111" stroke-width=".2" textLength="3.7" lengthAdjust="spacingAndGlyphs">3</text>
<text x="500.2" y="696.6" font-size="10.3" font-weight="bold" stroke="#111" stroke-width=".25" textLength="11.4" lengthAdjust="spacingAndGlyphs">10</text>
<text x="511.4" y="696.2" font-size="6.9" font-weight="bold" stroke="#111" stroke-width=".2" textLength="3.7" lengthAdjust="spacingAndGlyphs">4</text>
<clipPath id="b201"><rect x="46.3" y="732.3" width="93.7" height="59.6"/></clipPath>
<path d="M46.3 783.9H47V781.8H47.7V775.9H48.4V774.4H49.1V772.8H49.8V772.3H50.5V770.3H51.2V769.8H51.9V768.1H52.6V769.3H53.3V768.8H54V764H54.7V768H55.4V766.9H56.1V764.3H56.8V758.8H57.5V759.5H58.2V766.3H58.9V764.2H59.6V763.8H60.3V765.7H61V765.2H61.7V769.2H62.4V763.5H63.1V767.6H63.8V767.4H64.5V767.3H65.2V771.4H65.9V771H66.6V773.8H67.3V777.6H68V777.9H68.7V779.4H69.4V781.8H70.1V783.1H70.8V786.6H71.5V786.4H72.2V787.2H72.9V788.1H73.6V787.7H74.3V789.3V791.3H46.3Z" fill="#0a0a0a" clip-path="url(#b201)"/>
<path d="M63.6 768.5H64.4V763.3H65.2V766.2H65.9V758.5H66.7V757.3H67.5V758.6H68.3V758.4H69V756.9H69.8V751.8H70.6V749H71.3V753.6H72.1V759.4H72.9V765.5H73.6V768.5H74.4V772H75.2V776.3H76V777.9H76.7V779.5H77.5V784H78.3V784.3H79V786.6H79.8V787.6H80.6V788.4H81.3V788.9H82.1V789.6H82.9V790.4H83.7V789.8H84.4V790.7H85.2V790.3H86V790.6H86.7V790.7H87.5V789.8H88.3V790.6H89V790.7H89.8V791H90.6V790.7H91.4V790.6H92.1V790H92.9V790.5H93.7V790.4H94.4V790.7H95.2V791H96V790.5H96.7V790.7H97.5V790.4H98.3V789.7H99.1V790.3H99.8V790.6H100.6V790.2H101.4V790.4H102.1V789.6H102.9V790.8H103.7V789.9H104.4V790.6H105.2V790.4H106V790.3H106.8V789.8H107.5V789.9H108.3V789.8H109.1V790.8H109.8V789.9H110.6V790.7H111.4V790.1H112.1V790.2H112.9V789.8H113.7V790H114.5V791.1H115.2V790.7H116V790.7H116.8V790.7H117.5V790.7H118.3V790.7H119.1V790.7H119.8V790.8H120.6V790.8H121.4V790.8H122.2V790.8H122.9V790.8H123.7V790.8H124.5V790.8H125.2V790.8H126V790.8H126.8V790.8H127.5V790.9H128.3V790.9H129.1V790.8H129.9V790.9H130.6V790.9H131.4V790.9H132.2V790.9H132.9V790.9H133.7V790.9H134.5V790.9H135.2V790.9H136V791H136.8V790.9H137.6V791H138.3V791H139.1V791H139.9V791" fill="none" stroke="#111" stroke-width="1.3" clip-path="url(#b201)"/>
<rect x="46.3" y="733.3" width="93.7" height="58" fill="none" stroke="#111" stroke-width="1.25"/>
<path d="M46.3 791.3h-2.6M46.3 788.4h-1.4M46.3 785.5h-1.4M46.3 782.6h-1.4M46.3 779.7h-1.4M46.3 776.8h-2.6M46.3 773.9h-1.4M46.3 771h-1.4M46.3 768.1h-1.4M46.3 765.2h-1.4M46.3 762.3h-2.6M46.3 759.4h-1.4M46.3 756.5h-1.4M46.3 753.6h-1.4M46.3 750.7h-1.4M46.3 747.8h-2.6M46.3 744.9h-1.4M46.3 742h-1.4M46.3 739.1h-1.4M46.3 736.2h-1.4M46.3 733.3h-2.6M46.3 791.3v1.8M69.7 791.3v1.8M93.2 791.3v1.8M116.6 791.3v1.8M140 791.3v1.8" stroke="#111" stroke-width="1" fill="none"/>
<text x="41.8" y="795.1" font-size="9.6" font-weight="bold" text-anchor="end" stroke="#111" stroke-width=".35" textLength="5.4" lengthAdjust="spacingAndGlyphs">0</text>
<text x="41.8" y="780.6" font-size="9.6" font-weight="bold" text-anchor="end" stroke="#111" stroke-width=".35" textLength="10.8" lengthAdjust="spacingAndGlyphs">10</text>
<text x="41.8" y="766.1" font-size="9.6" font-weight="bold" text-anchor="end" stroke="#111" stroke-width=".35" textLength="10.8" lengthAdjust="spacingAndGlyphs">20</text>
<text x="41.8" y="751.6" font-size="9.6" font-weight="bold" text-anchor="end" stroke="#111" stroke-width=".35" textLength="10.8" lengthAdjust="spacingAndGlyphs">30</text>
<text x="41.8" y="737.1" font-size="9.6" font-weight="bold" text-anchor="end" stroke="#111" stroke-width=".35" textLength="10.8" lengthAdjust="spacingAndGlyphs">40</text>
<text x="42.1" y="803.6" font-size="10.3" font-weight="bold" stroke="#111" stroke-width=".25" textLength="11.4" lengthAdjust="spacingAndGlyphs">10</text>
<text x="53.3" y="803.2" font-size="6.9" font-weight="bold" stroke="#111" stroke-width=".2" textLength="3.7" lengthAdjust="spacingAndGlyphs">0</text>
<text x="64.8" y="803.6" font-size="10.3" font-weight="bold" stroke="#111" stroke-width=".25" textLength="11.4" lengthAdjust="spacingAndGlyphs">10</text>
<text x="76" y="803.2" font-size="6.9" font-weight="bold" stroke="#111" stroke-width=".2" textLength="3.7" lengthAdjust="spacingAndGlyphs">1</text>
<text x="87.5" y="803.6" font-size="10.3" font-weight="bold" stroke="#111" stroke-width=".25" textLength="11.4" lengthAdjust="spacingAndGlyphs">10</text>
<text x="98.8" y="803.2" font-size="6.9" font-weight="bold" stroke="#111" stroke-width=".2" textLength="3.7" lengthAdjust="spacingAndGlyphs">2</text>
<text x="110.3" y="803.6" font-size="10.3" font-weight="bold" stroke="#111" stroke-width=".25" textLength="11.4" lengthAdjust="spacingAndGlyphs">10</text>
<text x="121.5" y="803.2" font-size="6.9" font-weight="bold" stroke="#111" stroke-width=".2" textLength="3.7" lengthAdjust="spacingAndGlyphs">3</text>
<text x="133" y="803.6" font-size="10.3" font-weight="bold" stroke="#111" stroke-width=".25" textLength="11.4" lengthAdjust="spacingAndGlyphs">10</text>
<text x="144.2" y="803.2" font-size="6.9" font-weight="bold" stroke="#111" stroke-width=".2" textLength="3.7" lengthAdjust="spacingAndGlyphs">4</text>
<clipPath id="b202"><rect x="167.5" y="730.3" width="95" height="61.1"/></clipPath>
<path d="M167.5 781H168.2V781.9H168.9V778.6H169.6V778.6H170.3V778.8H171V776.1H171.7V771.2H172.4V769.1H173.1V769.2H173.8V763.9H174.5V760.6H175.2V760.4H175.9V754.2H176.6V756H177.3V746H178V747.1H178.7V750.1H179.4V741.3H180.1V748.2H180.8V743.3H181.5V743.8H182.2V750.3H182.9V754.9H183.6V753.4H184.3V762.3H185V766.4H185.7V768H186.4V773.8H187.1V775.9H187.8V778.2H188.5V783.1H189.2V782.9H189.9V785.5H190.6V787.6V790.8H167.5Z" fill="#0a0a0a" clip-path="url(#b202)"/>
<path d="M184.1 758.6H184.9V757H185.7V761.2H186.4V760.1H187.2V765H188V767.5H188.7V769.1H189.5V768H190.3V770.6H191.1V773.4H191.8V775.2H192.6V775.7H193.4V774.6H194.1V778.6H194.9V776.8H195.7V779H196.4V779.9H197.2V779.2H198V780.1H198.8V780.4H199.5V781.6H200.3V781.5H201.1V782.3H201.8V783.3H202.6V781.4H203.4V781.6H204.1V781.7H204.9V781.5H205.7V781.6H206.5V782.2H207.2V781.7H208V780.3H208.8V780.2H209.5V781H210.3V781.5H211.1V784.3H211.8V784.1H212.6V784.8H213.4V785.9H214.2V786.5H214.9V786.9H215.7V786.6H216.5V786.8H217.2V787.5H218V787.5H218.8V787.9H219.5V789H220.3V788.2H221.1V788.6H221.9V788.6H222.6V789.9H223.4V790.1H224.2V790H224.9V790.3H225.7V790H226.5V790.6H227.2V789.8H228V789.6H228.8V790.1H229.6V790H230.3V790H231.1V789.4H231.9V789.3H232.6V789H233.4V789.9H234.2V789.4H234.9V789.2H235.7V789.5H236.5V789.3H237.3V789.5H238V789.4H238.8V790.1H239.6V790.1H240.3V789.2H241.1V789.7H241.9V789.4H242.6V790H243.4V789.7H244.2V789.2H245V790.1H245.7V790.4H246.5V790.4H247.3V790.4H248V790.4H248.8V790.4H249.6V790.4H250.3V790.4H251.1V790.4H251.9V790.4H252.7V790.4H253.4V790.4H254.2V790.4H255V790.4H255.7V790.4H256.5V790.4H257.3V790.4H258V790.4H258.8V790.4H259.6V790.4H260.4V790.4H261.1V790.4H261.9V790.4" fill="none" stroke="#111" stroke-width="1.3" clip-path="url(#b202)"/>
<rect x="167.5" y="731.3" width="95" height="59.5" fill="none" stroke="#111" stroke-width="1.25"/>
<path d="M167.5 790.8h-2.6M167.5 786.8h-1.4M167.5 782.9h-1.4M167.5 778.9h-1.4M167.5 774.9h-1.4M167.5 771h-2.6M167.5 767h-1.4M167.5 763h-1.4M167.5 759.1h-1.4M167.5 755.1h-1.4M167.5 751.1h-2.6M167.5 747.2h-1.4M167.5 743.2h-1.4M167.5 739.2h-1.4M167.5 735.3h-1.4M167.5 731.3h-2.6M167.5 790.8v1.8M191.2 790.8v1.8M215 790.8v1.8M238.8 790.8v1.8M262.5 790.8v1.8" stroke="#111" stroke-width="1" fill="none"/>
<text x="163" y="794.6" font-size="9.6" font-weight="bold" text-anchor="end" stroke="#111" stroke-width=".35" textLength="5.4" lengthAdjust="spacingAndGlyphs">0</text>
<text x="163" y="774.8" font-size="9.6" font-weight="bold" text-anchor="end" stroke="#111" stroke-width=".35" textLength="10.8" lengthAdjust="spacingAndGlyphs">10</text>
<text x="163" y="754.9" font-size="9.6" font-weight="bold" text-anchor="end" stroke="#111" stroke-width=".35" textLength="10.8" lengthAdjust="spacingAndGlyphs">20</text>
<text x="163" y="735.1" font-size="9.6" font-weight="bold" text-anchor="end" stroke="#111" stroke-width=".35" textLength="10.8" lengthAdjust="spacingAndGlyphs">30</text>
<text x="162.8" y="803.1" font-size="10.3" font-weight="bold" stroke="#111" stroke-width=".25" textLength="11.4" lengthAdjust="spacingAndGlyphs">10</text>
<text x="174" y="802.7" font-size="6.9" font-weight="bold" stroke="#111" stroke-width=".2" textLength="3.7" lengthAdjust="spacingAndGlyphs">0</text>
<text x="185.9" y="803.1" font-size="10.3" font-weight="bold" stroke="#111" stroke-width=".25" textLength="11.4" lengthAdjust="spacingAndGlyphs">10</text>
<text x="197.1" y="802.7" font-size="6.9" font-weight="bold" stroke="#111" stroke-width=".2" textLength="3.7" lengthAdjust="spacingAndGlyphs">1</text>
<text x="208.9" y="803.1" font-size="10.3" font-weight="bold" stroke="#111" stroke-width=".25" textLength="11.4" lengthAdjust="spacingAndGlyphs">10</text>
<text x="220.1" y="802.7" font-size="6.9" font-weight="bold" stroke="#111" stroke-width=".2" textLength="3.7" lengthAdjust="spacingAndGlyphs">2</text>
<text x="232" y="803.1" font-size="10.3" font-weight="bold" stroke="#111" stroke-width=".25" textLength="11.4" lengthAdjust="spacingAndGlyphs">10</text>
<text x="243.2" y="802.7" font-size="6.9" font-weight="bold" stroke="#111" stroke-width=".2" textLength="3.7" lengthAdjust="spacingAndGlyphs">3</text>
<text x="255" y="803.1" font-size="10.3" font-weight="bold" stroke="#111" stroke-width=".25" textLength="11.4" lengthAdjust="spacingAndGlyphs">10</text>
<text x="266.2" y="802.7" font-size="6.9" font-weight="bold" stroke="#111" stroke-width=".2" textLength="3.7" lengthAdjust="spacingAndGlyphs">4</text>
<clipPath id="b203"><rect x="291.5" y="730.3" width="97.3" height="60.8"/></clipPath>
<path d="M291.5 780.8H292.2V780.5H292.9V778.5H293.6V777.8H294.3V775.8H295V775.9H295.7V770.6H296.4V767.2H297.1V766.8H297.8V763.5H298.5V757.3H299.2V758.7H299.9V755.9H300.6V754.5H301.3V749.4H302V745.8H302.7V749.5H303.4V740.5H304.1V745.6H304.8V747.4H305.5V750.9H306.2V755.9H306.9V759.1H307.6V764.2H308.3V766.2H309V766.2H309.7V774.1H310.4V774.6H311.1V777.7H311.8V778.4H312.5V780.3H313.2V782.7H313.9V785.9H314.6V787.7H315.3V788.6H316V789.4V790.5H291.5Z" fill="#0a0a0a" clip-path="url(#b203)"/>
<path d="M311 779.5H311.7V774.7H312.5V773.5H313.3V767.7H314V766.8H314.8V764.8H315.6V761.4H316.4V762.8H317.1V756.7H317.9V756.9H318.7V761.3H319.4V757.2H320.2V756.8H321V754.2H321.7V756.5H322.5V756.5H323.3V759.1H324.1V753.3H324.8V755.5H325.6V759.3H326.4V758.5H327.1V762.6H327.9V767.9H328.7V768.3H329.4V772.1H330.2V775.8H331V780.1H331.8V781.8H332.5V783.8H333.3V786H334.1V786.2H334.8V787.4H335.6V787.6H336.4V788.3H337.1V789.1H337.9V790H338.7V790H339.5V790.4H340.2V790.3H341V789.7H341.8V790.2H342.5V789.1H343.3V789.1H344.1V789.3H344.8V789.9H345.6V789.2H346.4V790.1H347.2V789.8H347.9V789.9H348.7V789.8H349.5V789.8H350.2V789.8H351V789.8H351.8V789.8H352.5V789.9H353.3V789.8H354.1V789.9H354.9V789.8H355.6V789.9H356.4V789.9H357.2V789.9H357.9V789.9H358.7V789.9H359.5V789.9H360.2V789.9H361V789.9H361.8V789.9H362.6V789.9H363.3V789.9H364.1V790H364.9V790H365.6V789.9H366.4V789.9H367.2V790H367.9V790H368.7V789.9H369.5V790H370.3V790H371V789.9H371.8V790H372.6V790H373.3V790H374.1V790H374.9V790H375.6V790H376.4V790H377.2V790H378V790H378.7V790.1H379.5V790H380.3V790H381V790.1H381.8V790.1H382.6V790.1H383.3V790H384.1V790.1H384.9V790.1H385.7V790.1H386.4V790.1H387.2V790.1H388V790.1H388.7V790.1" fill="none" stroke="#111" stroke-width="1.3" clip-path="url(#b203)"/>
<rect x="291.5" y="731.3" width="97.3" height="59.2" fill="none" stroke="#111" stroke-width="1.25"/>
<path d="M291.5 790.5h-2.6M291.5 786.6h-1.4M291.5 782.6h-1.4M291.5 778.7h-1.4M291.5 774.7h-1.4M291.5 770.8h-2.6M291.5 766.8h-1.4M291.5 762.9h-1.4M291.5 758.9h-1.4M291.5 755h-1.4M291.5 751h-2.6M291.5 747.1h-1.4M291.5 743.1h-1.4M291.5 739.2h-1.4M291.5 735.2h-1.4M291.5 731.3h-2.6M291.5 790.5v1.8M315.8 790.5v1.8M340.1 790.5v1.8M364.5 790.5v1.8M388.8 790.5v1.8" stroke="#111" stroke-width="1" fill="none"/>
<text x="287" y="794.3" font-size="9.6" font-weight="bold" text-anchor="end" stroke="#111" stroke-width=".35" textLength="5.4" lengthAdjust="spacingAndGlyphs">0</text>
<text x="287" y="774.6" font-size="9.6" font-weight="bold" text-anchor="end" stroke="#111" stroke-width=".35" textLength="10.8" lengthAdjust="spacingAndGlyphs">10</text>
<text x="287" y="754.8" font-size="9.6" font-weight="bold" text-anchor="end" stroke="#111" stroke-width=".35" textLength="10.8" lengthAdjust="spacingAndGlyphs">20</text>
<text x="287" y="735.1" font-size="9.6" font-weight="bold" text-anchor="end" stroke="#111" stroke-width=".35" textLength="10.8" lengthAdjust="spacingAndGlyphs">30</text>
<text x="287.5" y="802.8" font-size="10.3" font-weight="bold" stroke="#111" stroke-width=".25" textLength="11.4" lengthAdjust="spacingAndGlyphs">10</text>
<text x="298.7" y="802.4" font-size="6.9" font-weight="bold" stroke="#111" stroke-width=".2" textLength="3.7" lengthAdjust="spacingAndGlyphs">0</text>
<text x="311.2" y="802.8" font-size="10.3" font-weight="bold" stroke="#111" stroke-width=".25" textLength="11.4" lengthAdjust="spacingAndGlyphs">10</text>
<text x="322.4" y="802.4" font-size="6.9" font-weight="bold" stroke="#111" stroke-width=".2" textLength="3.7" lengthAdjust="spacingAndGlyphs">1</text>
<text x="334.8" y="802.8" font-size="10.3" font-weight="bold" stroke="#111" stroke-width=".25" textLength="11.4" lengthAdjust="spacingAndGlyphs">10</text>
<text x="346" y="802.4" font-size="6.9" font-weight="bold" stroke="#111" stroke-width=".2" textLength="3.7" lengthAdjust="spacingAndGlyphs">2</text>
<text x="358.4" y="802.8" font-size="10.3" font-weight="bold" stroke="#111" stroke-width=".25" textLength="11.4" lengthAdjust="spacingAndGlyphs">10</text>
<text x="369.6" y="802.4" font-size="6.9" font-weight="bold" stroke="#111" stroke-width=".2" textLength="3.7" lengthAdjust="spacingAndGlyphs">3</text>
<text x="382" y="802.8" font-size="10.3" font-weight="bold" stroke="#111" stroke-width=".25" textLength="11.4" lengthAdjust="spacingAndGlyphs">10</text>
<text x="393.2" y="802.4" font-size="6.9" font-weight="bold" stroke="#111" stroke-width=".2" textLength="3.7" lengthAdjust="spacingAndGlyphs">4</text>
<clipPath id="b204"><rect x="415" y="729.6" width="96.7" height="62"/></clipPath>
<path d="M415 783.2H415.7V781.8H416.4V780.6H417.1V779.6H417.8V776.5H418.5V774.9H419.2V766.7H419.9V765.5H420.6V765.6H421.3V762.5H422V758.2H422.7V753.8H423.4V748.8H424.1V748.6H424.8V751.4H425.5V745.4H426.2V744.6H426.9V742.9H427.6V740H428.3V745.8H429V744.5H429.7V750.9H430.4V756.5H431.1V758H431.8V766.7H432.5V771.6H433.2V772.8H433.9V778.4H434.6V781.6H435.3V783.5H436V784.4H436.7V787.4H437.4V788.5H438.1V789.8V791H415Z" fill="#0a0a0a" clip-path="url(#b204)"/>
<path d="M435.3 780.1H436.1V777.4H436.8V772.8H437.6V771.8H438.4V768.9H439.2V765.5H439.9V763.6H440.7V762.6H441.5V760.2H442.2V758.9H443V759.8H443.8V754.3H444.5V754.4H445.3V753H446.1V756.8H446.9V757.1H447.6V759.4H448.4V763H449.2V763.8H449.9V766.1H450.7V771.7H451.5V772.3H452.2V774.4H453V777.6H453.8V779.9H454.6V781.9H455.3V784.1H456.1V785.1H456.9V787.1H457.6V787.9H458.4V788.7H459.2V789.7H459.9V789.9H460.7V789.7H461.5V790.1H462.3V790.3H463V790.6H463.8V790.6H464.6V790H465.3V790.6H466.1V789.4H466.9V789.8H467.6V789.7H468.4V789.4H469.2V790.1H470V790.4H470.7V789.6H471.5V790.2H472.3V789.8H473V789.4H473.8V789.2H474.6V789.3H475.3V790.3H476.1V790.6H476.9V790.4H477.7V789.9H478.4V789.5H479.2V790H480V790.1H480.7V790H481.5V790H482.3V790.2H483V789.4H483.8V789.5H484.6V789.9H485.4V790.5H486.1V789.6H486.9V790.1H487.7V789.5H488.4V790.9H489.2V790.4H490V790.6H490.7V790.6H491.5V790.6H492.3V790.6H493.1V790.6H493.8V790.6H494.6V790.6H495.4V790.6H496.1V790.6H496.9V790.6H497.7V790.6H498.4V790.6H499.2V790.6H500V790.6H500.8V790.6H501.5V790.6H502.3V790.6H503.1V790.6H503.8V790.6H504.6V790.6H505.4V790.6H506.1V790.6H506.9V790.6H507.7V790.6H508.5V790.6H509.2V790.6H510V790.6H510.8V790.6H511.5V790.6" fill="none" stroke="#111" stroke-width="1.3" clip-path="url(#b204)"/>
<rect x="415" y="730.6" width="96.7" height="60.4" fill="none" stroke="#111" stroke-width="1.25"/>
<path d="M415 791h-2.6M415 787h-1.4M415 782.9h-1.4M415 778.9h-1.4M415 774.9h-1.4M415 770.9h-2.6M415 766.8h-1.4M415 762.8h-1.4M415 758.8h-1.4M415 754.8h-1.4M415 750.7h-2.6M415 746.7h-1.4M415 742.7h-1.4M415 738.7h-1.4M415 734.6h-1.4M415 730.6h-2.6M415 791v1.8M439.2 791v1.8M463.4 791v1.8M487.5 791v1.8M511.7 791v1.8" stroke="#111" stroke-width="1" fill="none"/>
<text x="410.5" y="794.8" font-size="9.6" font-weight="bold" text-anchor="end" stroke="#111" stroke-width=".35" textLength="5.4" lengthAdjust="spacingAndGlyphs">0</text>
<text x="410.5" y="774.7" font-size="9.6" font-weight="bold" text-anchor="end" stroke="#111" stroke-width=".35" textLength="10.8" lengthAdjust="spacingAndGlyphs">10</text>
<text x="410.5" y="754.5" font-size="9.6" font-weight="bold" text-anchor="end" stroke="#111" stroke-width=".35" textLength="10.8" lengthAdjust="spacingAndGlyphs">20</text>
<text x="410.5" y="734.4" font-size="9.6" font-weight="bold" text-anchor="end" stroke="#111" stroke-width=".35" textLength="10.8" lengthAdjust="spacingAndGlyphs">30</text>
<text x="412" y="803.3" font-size="10.3" font-weight="bold" stroke="#111" stroke-width=".25" textLength="11.4" lengthAdjust="spacingAndGlyphs">10</text>
<text x="423.2" y="802.9" font-size="6.9" font-weight="bold" stroke="#111" stroke-width=".2" textLength="3.7" lengthAdjust="spacingAndGlyphs">0</text>
<text x="435.4" y="803.3" font-size="10.3" font-weight="bold" stroke="#111" stroke-width=".25" textLength="11.4" lengthAdjust="spacingAndGlyphs">10</text>
<text x="446.6" y="802.9" font-size="6.9" font-weight="bold" stroke="#111" stroke-width=".2" textLength="3.7" lengthAdjust="spacingAndGlyphs">1</text>
<text x="458.9" y="803.3" font-size="10.3" font-weight="bold" stroke="#111" stroke-width=".25" textLength="11.4" lengthAdjust="spacingAndGlyphs">10</text>
<text x="470.1" y="802.9" font-size="6.9" font-weight="bold" stroke="#111" stroke-width=".2" textLength="3.7" lengthAdjust="spacingAndGlyphs">2</text>
<text x="482.4" y="803.3" font-size="10.3" font-weight="bold" stroke="#111" stroke-width=".25" textLength="11.4" lengthAdjust="spacingAndGlyphs">10</text>
<text x="493.6" y="802.9" font-size="6.9" font-weight="bold" stroke="#111" stroke-width=".2" textLength="3.7" lengthAdjust="spacingAndGlyphs">3</text>
<text x="505.9" y="803.3" font-size="10.3" font-weight="bold" stroke="#111" stroke-width=".25" textLength="11.4" lengthAdjust="spacingAndGlyphs">10</text>
<text x="517.1" y="802.9" font-size="6.9" font-weight="bold" stroke="#111" stroke-width=".2" textLength="3.7" lengthAdjust="spacingAndGlyphs">4</text>
<clipPath id="b301"><rect x="46.3" y="842" width="95" height="60.6"/></clipPath>
<path d="M46.3 894.4H47V893.9H47.7V892.8H48.4V891H49.1V889.9H49.8V889.8H50.5V885.1H51.2V883.3H51.9V880.8H52.6V881.1H53.3V874.8H54V876.6H54.7V872.2H55.4V870.1H56.1V864.8H56.8V867.8H57.5V869.9H58.2V870.8H58.9V870.8H59.6V879.4H60.3V881.7H61V882.7H61.7V886.7H62.4V889.1H63.1V890.6H63.8V891.7H64.5V894.2H65.2V895H65.9V896.9H66.6V895.9H67.3V898.3H68V898.8H68.7V898.6H69.4V897.8H70.1V897.8H70.8V897.7H71.5V898.4H72.2V898H72.9V899.8H73.6V899.4H74.3V900.1H75V899.9H75.7V900.1V902H46.3Z" fill="#0a0a0a" clip-path="url(#b301)"/>
<path d="M46.3 898H47.2V900.7H48.1V899H49V897.8H49.9V897.7H50.8V897.9H51.8V898.5H52.7V898.3H53.6V897.9H54.5V897.7H55.4V898.4H56.3V898.2H57.2V898.1H58.1V898.9H59V898.6H59.9V898.3H60.9V898.5H61.8V898.5H62.7V898.7H63.6V898.5H64.5V898.8H65.4V900.7H66.3V899H67.2V898.7H68.1V897.8H69V900.7H70V898.3H70.9V898.3H71.8V898.8H72.7V898.7H73.6V898.7H74.5V898.2H75.4V897.7H76.3V899H77.2V898H78.2V898.1H79.1V898.8H80V898H80.9V900.7H81.8V898.6H82.7V898.2H83.6V898.7H84.5V897.8H85.4V897.7H86.3V897.8H87.3V898.2H88.2V900.7H89.1V897.6H90V898.9H90.9V898.7H91.8V898.7H92.7V898.1H93.6V898.5H94.5V898.3H95.4V898.8H96.4V898.3H97.3V898.6H98.2V897.7H99.1V897.6H100V897.8H100.9V897.8H101.8V898.6H102.7V898.2H103.6V898.3H104.5V898.7H105.5V898.9H106.4V897.8H107.3V897.9H108.2V898.2H109.1V898.9H110V898.8H110.9V897.7H111.8V900.7H112.7V898.8H113.6V897.7H114.5V898.1H115.5V898.1H116.4V898.7H117.3V898.7H118.2V898.3H119.1V898.8H120V898H120.9V898.9H121.8V898.1V902H46.3Z" fill="#111" clip-path="url(#b301)"/>
<path d="M72.4 899.9H73.2V899.1H74V898.7H74.7V897.6H75.5V897.1H76.3V894H77V894.4H77.8V891.7H78.6V887.8H79.4V888.2H80.1V884H80.9V882.4H81.7V878.2H82.4V877.7H83.2V872.8H84V875.1H84.7V868.5H85.5V869.1H86.3V873.5H87.1V868.2H87.8V870.5H88.6V874.6H89.4V872.1H90.1V877.8H90.9V879H91.7V878.9H92.4V883.5H93.2V884H94V886.8H94.8V889.1H95.5V892.3H96.3V892.8H97.1V894.6H97.8V896.7H98.6V897.5H99.4V898.1H100.1V897.7H100.9V898.3H101.7V898.7H102.5V899.4H103.2V899.7H104V899.2H104.8V898.5H105.5V899.3H106.3V899H107.1V899.1H107.8V899.1H108.6V899.6H109.4V898.6H110.2V898.7H110.9V899.2H111.7V898.6H112.5V898.5H113.2V898.6H114V899.9H114.8V899.2H115.5V898.7H116.3V898.7H117.1V898.8H117.9V898.6H118.6V899.5H119.4V898.5H120.2V899.1H120.9V898.2H121.7V899.5H122.5V899.2H123.2V900.4H124V900.8H124.8V900.4H125.6V901.9H126.3V901.2H127.1V901.2H127.9V901.3H128.6V900.9H129.4V901.8H130.2V900.6H130.9V901H131.7V901.8H132.5V901.9H133.3V901.8H134V901.9H134.8V901.3H135.6V901.3H136.3V901.3H137.1V901.4H137.9V901.3H138.6V901.4H139.4V901.4H140.2V901.4H141V901.5" fill="none" stroke="#111" stroke-width="1.45" clip-path="url(#b301)"/>
<rect x="46.3" y="843" width="95" height="59" fill="none" stroke="#111" stroke-width="1.25"/>
<path d="M46.3 902h-2.6M46.3 899h-1.4M46.3 896.1h-1.4M46.3 893.1h-1.4M46.3 890.2h-1.4M46.3 887.2h-2.6M46.3 884.3h-1.4M46.3 881.4h-1.4M46.3 878.4h-1.4M46.3 875.5h-1.4M46.3 872.5h-2.6M46.3 869.5h-1.4M46.3 866.6h-1.4M46.3 863.6h-1.4M46.3 860.7h-1.4M46.3 857.8h-2.6M46.3 854.8h-1.4M46.3 851.9h-1.4M46.3 848.9h-1.4M46.3 846h-1.4M46.3 843h-2.6M46.3 902v1.8M70 902v1.8M93.8 902v1.8M117.6 902v1.8M141.3 902v1.8" stroke="#111" stroke-width="1" fill="none"/>
<text x="41.8" y="905.8" font-size="9.6" font-weight="bold" text-anchor="end" stroke="#111" stroke-width=".35" textLength="5.4" lengthAdjust="spacingAndGlyphs">0</text>
<text x="41.8" y="891" font-size="9.6" font-weight="bold" text-anchor="end" stroke="#111" stroke-width=".35" textLength="5.4" lengthAdjust="spacingAndGlyphs">5</text>
<text x="41.8" y="876.3" font-size="9.6" font-weight="bold" text-anchor="end" stroke="#111" stroke-width=".35" textLength="10.8" lengthAdjust="spacingAndGlyphs">10</text>
<text x="41.8" y="861.5" font-size="9.6" font-weight="bold" text-anchor="end" stroke="#111" stroke-width=".35" textLength="10.8" lengthAdjust="spacingAndGlyphs">15</text>
<text x="41.8" y="846.8" font-size="9.6" font-weight="bold" text-anchor="end" stroke="#111" stroke-width=".35" textLength="10.8" lengthAdjust="spacingAndGlyphs">20</text>
<text x="42.1" y="912.2" font-size="10.3" font-weight="bold" stroke="#111" stroke-width=".25" textLength="11.4" lengthAdjust="spacingAndGlyphs">10</text>
<text x="53.3" y="911.8" font-size="6.9" font-weight="bold" stroke="#111" stroke-width=".2" textLength="3.7" lengthAdjust="spacingAndGlyphs">0</text>
<text x="65.2" y="912.2" font-size="10.3" font-weight="bold" stroke="#111" stroke-width=".25" textLength="11.4" lengthAdjust="spacingAndGlyphs">10</text>
<text x="76.4" y="911.8" font-size="6.9" font-weight="bold" stroke="#111" stroke-width=".2" textLength="3.7" lengthAdjust="spacingAndGlyphs">1</text>
<text x="88.2" y="912.2" font-size="10.3" font-weight="bold" stroke="#111" stroke-width=".25" textLength="11.4" lengthAdjust="spacingAndGlyphs">10</text>
<text x="99.4" y="911.8" font-size="6.9" font-weight="bold" stroke="#111" stroke-width=".2" textLength="3.7" lengthAdjust="spacingAndGlyphs">2</text>
<text x="111.3" y="912.2" font-size="10.3" font-weight="bold" stroke="#111" stroke-width=".25" textLength="11.4" lengthAdjust="spacingAndGlyphs">10</text>
<text x="122.5" y="911.8" font-size="6.9" font-weight="bold" stroke="#111" stroke-width=".2" textLength="3.7" lengthAdjust="spacingAndGlyphs">3</text>
<text x="134.3" y="912.2" font-size="10.3" font-weight="bold" stroke="#111" stroke-width=".25" textLength="11.4" lengthAdjust="spacingAndGlyphs">10</text>
<text x="145.5" y="911.8" font-size="6.9" font-weight="bold" stroke="#111" stroke-width=".2" textLength="3.7" lengthAdjust="spacingAndGlyphs">4</text>
<clipPath id="b302"><rect x="168.3" y="841.5" width="93" height="60.9"/></clipPath>
<path d="M168.3 894.2H169V894.2H169.7V895.2H170.4V892.9H171.1V891.6H171.8V889.9H172.5V889.3H173.2V889H173.9V883.2H174.6V882.7H175.3V880.1H176V878.8H176.7V875.3H177.4V873.1H178.1V867.6H178.8V872.8H179.5V879.6H180.2V879.8H180.9V881H181.6V885.7H182.3V887.6H183V886.2H183.7V890H184.4V893.6H185.1V892.7H185.8V894.7H186.5V898.1H187.2V899H187.9V899.3H188.6V899.5V901.8H168.3Z" fill="#0a0a0a" clip-path="url(#b302)"/>
<path d="M191.6 900.7H192.5V899.2H193.4V898.8H194.3V898.5H195.2V898.8H196.1V898.4H197V898.9H197.9V898.7H198.8V898.7H199.7V898.6H200.6V898.8H201.6V898.7H202.5V898.4H203.4V899H204.3V898.1H205.2V898.2H206.1V898.9H207V898.4H207.9V898.5H208.8V899.1H209.7V900.7H210.7V898.5H211.6V898.3H212.5V898.1H213.4V900.7H214.3V898.6H215.2V898.5H216.1V898.6H217V898.4H217.9V898.7H218.8V898.7H219.8V898.9H220.7V898.4H221.6V899.2V901.8H191.6Z" fill="#111" clip-path="url(#b302)"/>
<path d="M226.4 899.2H227.3V899.5H228.2V898.9H229.2V898.6H230.1V898.7H231V898.7H231.9V899H232.8V899.3H233.7V899H234.6V899.3H235.5V898.7H236.4V898.8H237.3V898.6H238.3V899.2H239.2V899.1H240.1V899H241V898.7H241.9V898.8V901.8H226.4Z" fill="#111" clip-path="url(#b302)"/>
<path d="M173 892.3H173.7V889.6H174.5V886.3H175.3V881.8H176V877.5H176.8V877.5H177.6V874H178.3V871H179.1V868.6H179.9V865.9H180.7V868.1H181.4V862.1H182.2V861.4H183V859.6H183.7V860.7H184.5V864.6H185.3V867H186V869.9H186.8V872.4H187.6V875.3H188.4V879.4H189.1V883.6H189.9V889.7H190.7V890.5H191.4V892.7H192.2V895.1H193V896.9H193.7V897.1H194.5V898.1H195.3V899.5H196.1V898.4H196.8V898.6H197.6V898.7H198.4V899.2H199.1V898.1H199.9V898.7H200.7V898.5H201.4V898.5H202.2V899H203V898H203.8V899.2H204.5V898.6H205.3V898.3H206.1V898.3H206.8V898.5H207.6V898.1H208.4V898.2H209.1V899H209.9V898.5H210.7V899.1H211.5V898.6H212.2V898.8H213V898.9H213.8V898.7H214.5V898.6H215.3V899.5H216.1V899.3H216.8V898.4H217.6V898.8H218.4V899H219.2V898.9H219.9V899.1H220.7V898.2H221.5V899.2H222.2V898.8H223V900.1H223.8V900.4H224.5V901.2H225.3V900.2H226.1V899.2H226.9V898.2H227.6V898.5H228.4V898.6H229.2V899.2H229.9V899.7H230.7V898.4H231.5V898.9H232.2V898.7H233V898.8H233.8V898.8H234.6V899.1H235.3V899.7H236.1V899.5H236.9V899.5H237.6V899.8H238.4V898.8H239.2V899.3H239.9V899.3H240.7V900.1H241.5V898.8H242.3V899.4H243V900.3H243.8V899.9H244.6V900.7H245.3V901.4H246.1V901.4H246.9V901.4H247.6V901.4H248.4V901.4H249.2V901.4H250V901.4H250.7V901.4H251.5V901.4H252.3V901.4H253V901.4H253.8V901.4H254.6V901.4H255.3V901.4H256.1V901.4H256.9V901.4H257.7V901.4H258.4V901.4H259.2V901.4H260V901.4H260.7V901.4" fill="none" stroke="#111" stroke-width="1.3" clip-path="url(#b302)"/>
<rect x="168.3" y="842.5" width="93" height="59.3" fill="none" stroke="#111" stroke-width="1.25"/>
<path d="M168.3 901.8h-2.6M168.3 897.8h-1.4M168.3 893.9h-1.4M168.3 889.9h-1.4M168.3 886h-1.4M168.3 882h-2.6M168.3 878.1h-1.4M168.3 874.1h-1.4M168.3 870.2h-1.4M168.3 866.2h-1.4M168.3 862.3h-2.6M168.3 858.3h-1.4M168.3 854.4h-1.4M168.3 850.4h-1.4M168.3 846.5h-1.4M168.3 842.5h-2.6M168.3 901.8v1.8M191.6 901.8v1.8M214.8 901.8v1.8M238.1 901.8v1.8M261.3 901.8v1.8" stroke="#111" stroke-width="1" fill="none"/>
<text x="163.8" y="905.6" font-size="9.6" font-weight="bold" text-anchor="end" stroke="#111" stroke-width=".35" textLength="5.4" lengthAdjust="spacingAndGlyphs">0</text>
<text x="163.8" y="885.8" font-size="9.6" font-weight="bold" text-anchor="end" stroke="#111" stroke-width=".35" textLength="10.8" lengthAdjust="spacingAndGlyphs">10</text>
<text x="163.8" y="866.1" font-size="9.6" font-weight="bold" text-anchor="end" stroke="#111" stroke-width=".35" textLength="10.8" lengthAdjust="spacingAndGlyphs">20</text>
<text x="163.8" y="846.3" font-size="9.6" font-weight="bold" text-anchor="end" stroke="#111" stroke-width=".35" textLength="10.8" lengthAdjust="spacingAndGlyphs">30</text>
<text x="163.6" y="912" font-size="10.3" font-weight="bold" stroke="#111" stroke-width=".25" textLength="11.4" lengthAdjust="spacingAndGlyphs">10</text>
<text x="174.8" y="911.6" font-size="6.9" font-weight="bold" stroke="#111" stroke-width=".2" textLength="3.7" lengthAdjust="spacingAndGlyphs">0</text>
<text x="186.2" y="912" font-size="10.3" font-weight="bold" stroke="#111" stroke-width=".25" textLength="11.4" lengthAdjust="spacingAndGlyphs">10</text>
<text x="197.4" y="911.6" font-size="6.9" font-weight="bold" stroke="#111" stroke-width=".2" textLength="3.7" lengthAdjust="spacingAndGlyphs">1</text>
<text x="208.7" y="912" font-size="10.3" font-weight="bold" stroke="#111" stroke-width=".25" textLength="11.4" lengthAdjust="spacingAndGlyphs">10</text>
<text x="219.9" y="911.6" font-size="6.9" font-weight="bold" stroke="#111" stroke-width=".2" textLength="3.7" lengthAdjust="spacingAndGlyphs">2</text>
<text x="231.3" y="912" font-size="10.3" font-weight="bold" stroke="#111" stroke-width=".25" textLength="11.4" lengthAdjust="spacingAndGlyphs">10</text>
<text x="242.5" y="911.6" font-size="6.9" font-weight="bold" stroke="#111" stroke-width=".2" textLength="3.7" lengthAdjust="spacingAndGlyphs">3</text>
<text x="253.8" y="912" font-size="10.3" font-weight="bold" stroke="#111" stroke-width=".25" textLength="11.4" lengthAdjust="spacingAndGlyphs">10</text>
<text x="265" y="911.6" font-size="6.9" font-weight="bold" stroke="#111" stroke-width=".2" textLength="3.7" lengthAdjust="spacingAndGlyphs">4</text>
<clipPath id="b303"><rect x="291.3" y="841.5" width="93" height="60.4"/></clipPath>
<path d="M291.3 894.7H292V892.9H292.7V891.3H293.4V890.3H294.1V887.4H294.8V884.5H295.5V882H296.2V880.5H296.9V878.2H297.6V871.7H298.3V872.1H299V867.8H299.7V871H300.4V866.1H301.1V865.1H301.8V867.8H302.5V872.7H303.2V870.7H303.9V873.3H304.6V877.2H305.3V880.5H306V885.4H306.7V887.3H307.4V888.4H308.1V891.6H308.8V891H309.5V892.2H310.2V894.5H310.9V894.7H311.6V895.1H312.3V896.2H313V895.9H313.7V897H314.4V897.8H315.1V896.9H315.8V897.1H316.5V898.5H317.2V899.8H317.9V900.2V901.3H291.3Z" fill="#0a0a0a" clip-path="url(#b303)"/>
<path d="M291.3 898.5H292.2V899.3H293.1V899.2H294V898.8H294.9V898.9H295.9V898.9H296.8V898.9H297.7V898.8H298.6V898.9H299.5V899H300.4V899.2H301.3V898.8H302.2V899H303.1V898.8H304V899.1H304.9V899.2H305.9V899H306.8V899H307.7V898.6H308.6V898.4H309.5V898.5H310.4V900.4H311.3V899.1H312.2V898.7H313.1V898.8H314.1V898.9H315V899.3H315.9V900.4H316.8V899.2H317.7V899H318.6V900.4H319.5V898.4H320.4V899.3H321.3V898.5V901.3H291.3Z" fill="#111" clip-path="url(#b303)"/>
<path d="M326.2 900H327.1V900H328V899.7H328.9V899.6H329.8V899.7H330.7V899.6H331.6V899.7H332.5V900.1H333.5V900.8H334.4V899.6H335.3V899.9V901.3H326.2Z" fill="#111" clip-path="url(#b303)"/>
<path d="M340.1 899.3H341V899.1H341.9V899.1H342.9V899.1H343.8V899.3H344.7V899H345.6V899.1H346.5V899.7H347.4V899.1H348.3V899.6H349.2V899.4H350.1V899.4H351V900.6H352V899.5H352.9V899.4H353.8V899.1H354.7V900.6H355.6V899.5H356.5V899.4H357.4V899.2H358.3V899.1H359.2V899.6H360.1V899.2H361.1V899.5H362V899H362.9V899.2H363.8V899H364.7V899.1H365.6V899.1V901.3H340.1Z" fill="#111" clip-path="url(#b303)"/>
<path d="M308.7 895.1H309.5V891.4H310.3V887H311V883.3H311.8V877.8H312.6V869.5H313.4V868H314.1V863H314.9V863.6H315.7V862.4H316.4V857.9H317.2V861H318V862.1H318.7V861.8H319.5V869.8H320.3V870.2H321.1V874.3H321.8V875.7H322.6V882.2H323.4V886.1H324.1V891.7H324.9V894.7H325.7V897.7H326.4V898.5H327.2V899.8H328V900.1H328.8V899.7H329.5V900.2H330.3V900.4H331.1V900.1H331.8V900.2H332.6V900.1H333.4V899.8H334.1V899.4H334.9V900.6H335.7V900.7H336.5V900.7H337.2V899.5H338V900.3H338.8V900.8H339.5V900.1H340.3V900.1H341.1V899.9H341.8V900.5H342.6V900.3H343.4V900.2H344.2V899.9H344.9V900.4H345.7V900.7H346.5V900.2H347.2V899.8H348V900.3H348.8V900.5H349.5V900.8H350.3V900.8H351.1V900H351.9V899.9H352.6V899.7H353.4V900.5H354.2V900.2H354.9V900H355.7V900.7H356.5V900.3H357.2V900.6H358V900.1H358.8V900.9H359.6V899.9H360.3V900.6H361.1V900.7H361.9V900.4H362.6V900.9H363.4V900.3H364.2V900.1H364.9V900.3H365.7V901H366.5V900.7H367.3V899.8H368V899.9H368.8V900.6H369.6V900.2H370.3V899.8H371.1V900H371.9V900.6H372.6V901H373.4V900.9H374.2V900.3H375V900.6H375.7V900.8H376.5V900.3H377.3V900.6H378V900.7H378.8V900.6H379.6V900.6H380.3V900.6H381.1V900.7H381.9V900.6H382.7V900.7H383.4V900.7H384.2V900.8" fill="none" stroke="#111" stroke-width="1.3" clip-path="url(#b303)"/>
<rect x="291.3" y="842.5" width="93" height="58.8" fill="none" stroke="#111" stroke-width="1.25"/>
<path d="M291.3 901.3h-2.6M291.3 898.4h-1.4M291.3 895.4h-1.4M291.3 892.5h-1.4M291.3 889.5h-1.4M291.3 886.6h-2.6M291.3 883.7h-1.4M291.3 880.7h-1.4M291.3 877.8h-1.4M291.3 874.8h-1.4M291.3 871.9h-2.6M291.3 869h-1.4M291.3 866h-1.4M291.3 863.1h-1.4M291.3 860.1h-1.4M291.3 857.2h-2.6M291.3 854.3h-1.4M291.3 851.3h-1.4M291.3 848.4h-1.4M291.3 845.4h-1.4M291.3 842.5h-2.6M291.3 901.3v1.8M314.6 901.3v1.8M337.8 901.3v1.8M361.1 901.3v1.8M384.3 901.3v1.8" stroke="#111" stroke-width="1" fill="none"/>
<text x="286.8" y="905.1" font-size="9.6" font-weight="bold" text-anchor="end" stroke="#111" stroke-width=".35" textLength="5.4" lengthAdjust="spacingAndGlyphs">0</text>
<text x="286.8" y="890.4" font-size="9.6" font-weight="bold" text-anchor="end" stroke="#111" stroke-width=".35" textLength="5.4" lengthAdjust="spacingAndGlyphs">5</text>
<text x="286.8" y="875.7" font-size="9.6" font-weight="bold" text-anchor="end" stroke="#111" stroke-width=".35" textLength="10.8" lengthAdjust="spacingAndGlyphs">10</text>
<text x="286.8" y="861" font-size="9.6" font-weight="bold" text-anchor="end" stroke="#111" stroke-width=".35" textLength="10.8" lengthAdjust="spacingAndGlyphs">15</text>
<text x="286.8" y="846.3" font-size="9.6" font-weight="bold" text-anchor="end" stroke="#111" stroke-width=".35" textLength="10.8" lengthAdjust="spacingAndGlyphs">20</text>
<text x="287.1" y="911.5" font-size="10.3" font-weight="bold" stroke="#111" stroke-width=".25" textLength="11.4" lengthAdjust="spacingAndGlyphs">10</text>
<text x="298.3" y="911.1" font-size="6.9" font-weight="bold" stroke="#111" stroke-width=".2" textLength="3.7" lengthAdjust="spacingAndGlyphs">0</text>
<text x="309.7" y="911.5" font-size="10.3" font-weight="bold" stroke="#111" stroke-width=".25" textLength="11.4" lengthAdjust="spacingAndGlyphs">10</text>
<text x="320.9" y="911.1" font-size="6.9" font-weight="bold" stroke="#111" stroke-width=".2" textLength="3.7" lengthAdjust="spacingAndGlyphs">1</text>
<text x="332.2" y="911.5" font-size="10.3" font-weight="bold" stroke="#111" stroke-width=".25" textLength="11.4" lengthAdjust="spacingAndGlyphs">10</text>
<text x="343.4" y="911.1" font-size="6.9" font-weight="bold" stroke="#111" stroke-width=".2" textLength="3.7" lengthAdjust="spacingAndGlyphs">2</text>
<text x="354.8" y="911.5" font-size="10.3" font-weight="bold" stroke="#111" stroke-width=".25" textLength="11.4" lengthAdjust="spacingAndGlyphs">10</text>
<text x="366" y="911.1" font-size="6.9" font-weight="bold" stroke="#111" stroke-width=".2" textLength="3.7" lengthAdjust="spacingAndGlyphs">3</text>
<text x="377.3" y="911.5" font-size="10.3" font-weight="bold" stroke="#111" stroke-width=".25" textLength="11.4" lengthAdjust="spacingAndGlyphs">10</text>
<text x="388.5" y="911.1" font-size="6.9" font-weight="bold" stroke="#111" stroke-width=".2" textLength="3.7" lengthAdjust="spacingAndGlyphs">4</text>
<clipPath id="b304"><rect x="414.5" y="839" width="94" height="63.8"/></clipPath>
<path d="M414.5 895H415.2V891.6H415.9V890.9H416.6V889.2H417.3V886.9H418V886.3H418.7V879.9H419.4V879.8H420.1V876.5H420.8V869.3H421.5V871.9H422.2V870.1H422.9V870.1H423.6V866.5H424.3V864.3H425V867H425.7V870.9H426.4V875.4H427.1V874.8H427.8V879.6H428.5V884.9H429.2V885.6H429.9V886.1H430.6V891.8H431.3V892.2H432V895.4H432.7V894.6H433.4V897.7H434.1V897.4H434.8V897.1H435.5V896.4H436.2V897.3H436.9V898.5H437.6V896.6H438.3V897.5H439V899.2H439.7V899.3H440.4V899.2H441.1V898.4H441.8V899.1H442.5V900.1V902.2H414.5Z" fill="#0a0a0a" clip-path="url(#b304)"/>
<path d="M414.5 898H415.4V898.3H416.3V899.2H417.2V899H418.1V898.2H419.1V899.1H420V898.8H420.9V898.7H421.8V898.5H422.7V898.1H423.6V898.6H424.5V898.3H425.4V898H426.3V898H427.2V900.9H428.1V898.8H429.1V898.1H430V898.9H430.9V899H431.8V899.2H432.7V897.9H433.6V898.3H434.5V900.9H435.4V898.4H436.3V898.7H437.2V898.1H438.2V898.6H439.1V900.9H440V899H440.9V898.8H441.8V898.5H442.7V899.1H443.6V898.7H444.5V898.7H445.4V898.8H446.3V900.9H447.3V898.1H448.2V898.6H449.1V899.1H450V899H450.9V898.7H451.8V899H452.7V898.6H453.6V897.9H454.5V898H455.4V898.5H456.4V898.7H457.3V898.6H458.2V898.7H459.1V898.4H460V899.1H460.9V898.8H461.8V898.6H462.7V897.9H463.6V898H464.5V898.7H465.5V899.1H466.4V898.5H467.3V898.1H468.2V898.4H469.1V898.7H470V899H470.9V898.7H471.8V898H472.7V898.7H473.6V898.6H474.6V898.5H475.5V899H476.4V898.3H477.3V898H478.2V899.1H479.1V899H480V900.9H480.9V898.8H481.8V899H482.7V898.8H483.7V899H484.6V898.5H485.5V898H486.4V899.1H487.3V898.2H488.2V898.8H489.1V898.6V902.2H414.5Z" fill="#111" clip-path="url(#b304)"/>
<path d="M434.5 898.2H435.2V896.7H436V895.1H436.8V893.4H437.6V892.3H438.3V893.2H439.1V892.2H439.9V888.4H440.6V888.6H441.4V887H442.2V884.2H442.9V884.5H443.7V882.6H444.5V879.5H445.3V877.8H446V875.8H446.8V875.4H447.6V877.3H448.3V874.3H449.1V875.2H449.9V869.1H450.6V871.4H451.4V869.2H452.2V871.5H453V872.3H453.7V876.2H454.5V878.4H455.3V882.8H456V886H456.8V889H457.6V892.1H458.3V895.6H459.1V897.7H459.9V899.7H460.7V900H461.4V899.5H462.2V901.2H463V900.2H463.7V901.2H464.5V900.5H465.3V900.2H466V900.8H466.8V901.3H467.6V901.8H468.4V900.8H469.1V900.8H469.9V901.1H470.7V900.3H471.4V901.1H472.2V901.2H473V900.9H473.7V901H474.5V901H475.3V901H476.1V900.5H476.8V900.8H477.6V900.9H478.4V900.8H479.1V901.1H479.9V901.2H480.7V901.7H481.4V900.5H482.2V901.8H483V901.4H483.8V900.9H484.5V901.5H485.3V900.9H486.1V901.7H486.8V901.8H487.6V901.7H488.4V900.8H489.1V901.3H489.9V900.9H490.7V900.9H491.5V900.8H492.2V901.4H493V901H493.8V901H494.5V901.6H495.3V901H496.1V900.8H496.8V900.8H497.6V901.1H498.4V902H499.2V900.7H499.9V901.5H500.7V901.5H501.5V901.4H502.2V901.5H503V901.5H503.8V901.5H504.5V901.5H505.3V901.5H506.1V901.6H506.9V901.5H507.6V901.6H508.4V901.6" fill="none" stroke="#111" stroke-width="1.3" clip-path="url(#b304)"/>
<rect x="414.5" y="840" width="94" height="62.2" fill="none" stroke="#111" stroke-width="1.25"/>
<path d="M414.5 902.2h-2.6M414.5 899.1h-1.4M414.5 896h-1.4M414.5 892.9h-1.4M414.5 889.8h-1.4M414.5 886.7h-2.6M414.5 883.5h-1.4M414.5 880.4h-1.4M414.5 877.3h-1.4M414.5 874.2h-1.4M414.5 871.1h-2.6M414.5 868h-1.4M414.5 864.9h-1.4M414.5 861.8h-1.4M414.5 858.7h-1.4M414.5 855.5h-2.6M414.5 852.4h-1.4M414.5 849.3h-1.4M414.5 846.2h-1.4M414.5 843.1h-1.4M414.5 840h-2.6M414.5 902.2v1.8M438 902.2v1.8M461.5 902.2v1.8M485 902.2v1.8M508.5 902.2v1.8" stroke="#111" stroke-width="1" fill="none"/>
<text x="410" y="906" font-size="9.6" font-weight="bold" text-anchor="end" stroke="#111" stroke-width=".35" textLength="5.4" lengthAdjust="spacingAndGlyphs">0</text>
<text x="410" y="890.5" font-size="9.6" font-weight="bold" text-anchor="end" stroke="#111" stroke-width=".35" textLength="5.4" lengthAdjust="spacingAndGlyphs">5</text>
<text x="410" y="874.9" font-size="9.6" font-weight="bold" text-anchor="end" stroke="#111" stroke-width=".35" textLength="10.8" lengthAdjust="spacingAndGlyphs">10</text>
<text x="410" y="859.3" font-size="9.6" font-weight="bold" text-anchor="end" stroke="#111" stroke-width=".35" textLength="10.8" lengthAdjust="spacingAndGlyphs">15</text>
<text x="410" y="843.8" font-size="9.6" font-weight="bold" text-anchor="end" stroke="#111" stroke-width=".35" textLength="10.8" lengthAdjust="spacingAndGlyphs">20</text>
<text x="410.9" y="912.4" font-size="10.3" font-weight="bold" stroke="#111" stroke-width=".25" textLength="11.4" lengthAdjust="spacingAndGlyphs">10</text>
<text x="422.1" y="912" font-size="6.9" font-weight="bold" stroke="#111" stroke-width=".2" textLength="3.7" lengthAdjust="spacingAndGlyphs">0</text>
<text x="433.7" y="912.4" font-size="10.3" font-weight="bold" stroke="#111" stroke-width=".25" textLength="11.4" lengthAdjust="spacingAndGlyphs">10</text>
<text x="444.9" y="912" font-size="6.9" font-weight="bold" stroke="#111" stroke-width=".2" textLength="3.7" lengthAdjust="spacingAndGlyphs">1</text>
<text x="456.5" y="912.4" font-size="10.3" font-weight="bold" stroke="#111" stroke-width=".25" textLength="11.4" lengthAdjust="spacingAndGlyphs">10</text>
<text x="467.7" y="912" font-size="6.9" font-weight="bold" stroke="#111" stroke-width=".2" textLength="3.7" lengthAdjust="spacingAndGlyphs">2</text>
<text x="479.3" y="912.4" font-size="10.3" font-weight="bold" stroke="#111" stroke-width=".25" textLength="11.4" lengthAdjust="spacingAndGlyphs">10</text>
<text x="490.5" y="912" font-size="6.9" font-weight="bold" stroke="#111" stroke-width=".2" textLength="3.7" lengthAdjust="spacingAndGlyphs">3</text>
<text x="502.1" y="912.4" font-size="10.3" font-weight="bold" stroke="#111" stroke-width=".25" textLength="11.4" lengthAdjust="spacingAndGlyphs">10</text>
<text x="513.3" y="912" font-size="6.9" font-weight="bold" stroke="#111" stroke-width=".2" textLength="3.7" lengthAdjust="spacingAndGlyphs">4</text>
<clipPath id="b401"><rect x="46.8" y="943.8" width="95.2" height="61.6"/></clipPath>
<path d="M52.8 1003.9H53.4V1001.7H54.1V999.9H54.8V998.5H55.5V997.3H56.2V995.6H56.9V991.4H57.6V991.6H58.3V987.4H59V987.4H59.8V979.4H60.5V981H61.1V979.7H61.9V976.8H62.5V975.1H63.2V971.7H64V963.7H64.7V964.2H65.3V961.7H66V964.4H66.8V963.9H67.5V963.4H68.2V964.7H68.8V971.4H69.5V974.2H70.2V980.5H71V980.6H71.7V988H72.3V989.7H73V995.4H73.8V996.2H74.4V998.7H75.1V1000H75.8V1003.9H76.5V1003.8V1004.8H52.8Z" fill="#0a0a0a" clip-path="url(#b401)"/>
<path d="M46.8 1002.8H47.7V1002.9H48.6V1002.9H49.5V1004.2H50.4V1004.2H51.3V1002.9H52.3V1003.2H53.2V1003V1004.8H46.8Z" fill="#111" clip-path="url(#b401)"/>
<path d="M75.4 1003.2H76.3V1004.3H77.2V1003.5H78.1V1003H79V1004.3H79.9V1003H80.8V1003.4H81.7V1003.5H82.6V1004.3H83.6V1003.6H84.5V1003.3H85.4V1003.4H86.3V1003.1H87.2V1003H88.1V1004.3H89V1003.5H89.9V1003.4H90.8V1003.5H91.7V1003.2H92.7V1003.4H93.6V1003.1H94.5V1003.6H95.4V1003.4H96.3V1003.5H97.2V1003.4H98.1V1003.5H99V1003H99.9V1003.4H100.8V1003H101.8V1003.5H102.7V1003.1H103.6V1003.3H104.5V1003H105.4V1003H106.3V1003H107.2V1003.5H108.1V1003.4H109V1003.4H109.9V1003.2H110.8V1003.1H111.8V1003.3H112.7V1003.3H113.6V1003H114.5V1003.1H115.4V1003.1H116.3V1003.5H117.2V1003.3H118.1V1003.2H119V1003H119.9V1003.5H120.9V1003.3H121.8V1003.1H122.7V1003.4V1004.8H75.4Z" fill="#111" clip-path="url(#b401)"/>
<path d="M76.5 1001.8H77.3V999.9H78.1V999.5H78.9V998.4H79.6V996H80.4V994.5H81.2V993.9H81.9V993.4H82.7V990.4H83.5V989.7H84.2V987.5H85V987.6H85.8V983.7H86.6V983.8H87.3V981.6H88.1V983.1H88.9V977.5H89.6V980.4H90.4V976.7H91.2V977.6H91.9V974.1H92.7V975.2H93.5V976.7H94.3V980H95V980.9H95.8V979.9H96.6V983.8H97.3V984.8H98.1V989.5H98.9V988.2H99.6V993H100.4V992.1H101.2V996.1H102V995.8H102.7V996.9H103.5V998.6H104.3V999.5H105V1001H105.8V1001.2H106.6V1001.9H107.3V1001.7H108.1V1003H108.9V1003.5H109.7V1002.9H110.4V1003H111.2V1002.4H112V1002.8H112.7V1003.2H113.5V1003.2H114.3V1002.3H115V1003.7H115.8V1002.7H116.6V1002.9H117.4V1003.6H118.1V1002.8H118.9V1003.7H119.7V1003.7H120.4V1002.6H121.2V1003.3H122V1003.8H122.7V1003.7H123.5V1003.6H124.3V1004.3H125.1V1004.1H125.8V1004.2H126.6V1004.2H127.4V1004.2H128.1V1004.2H128.9V1004.2H129.7V1004.2H130.4V1004.2H131.2V1004.2H132V1004.2H132.8V1004.1H133.5V1004.2H134.3V1004.2H135.1V1004.1H135.8V1004.2H136.6V1004.2H137.4V1004.1H138.1V1004.2H138.9V1004.2H139.7V1004.2H140.5V1004.2H141.2V1004.2H142V1004.2" fill="none" stroke="#111" stroke-width="1.3" clip-path="url(#b401)"/>
<rect x="46.8" y="944.8" width="95.2" height="60" fill="none" stroke="#111" stroke-width="1.25"/>
<path d="M46.8 1004.8h-2.6M46.8 1001.8h-1.4M46.8 998.8h-1.4M46.8 995.8h-1.4M46.8 992.8h-1.4M46.8 989.8h-2.6M46.8 986.8h-1.4M46.8 983.8h-1.4M46.8 980.8h-1.4M46.8 977.8h-1.4M46.8 974.8h-2.6M46.8 971.8h-1.4M46.8 968.8h-1.4M46.8 965.8h-1.4M46.8 962.8h-1.4M46.8 959.8h-2.6M46.8 956.8h-1.4M46.8 953.8h-1.4M46.8 950.8h-1.4M46.8 947.8h-1.4M46.8 944.8h-2.6M46.8 1004.8v1.8M70.6 1004.8v1.8M94.4 1004.8v1.8M118.2 1004.8v1.8M142 1004.8v1.8" stroke="#111" stroke-width="1" fill="none"/>
<text x="42.3" y="1008.6" font-size="9.6" font-weight="bold" text-anchor="end" stroke="#111" stroke-width=".35" textLength="5.4" lengthAdjust="spacingAndGlyphs">0</text>
<text x="42.3" y="993.6" font-size="9.6" font-weight="bold" text-anchor="end" stroke="#111" stroke-width=".35" textLength="5.4" lengthAdjust="spacingAndGlyphs">5</text>
<text x="42.3" y="978.6" font-size="9.6" font-weight="bold" text-anchor="end" stroke="#111" stroke-width=".35" textLength="10.8" lengthAdjust="spacingAndGlyphs">10</text>
<text x="42.3" y="963.6" font-size="9.6" font-weight="bold" text-anchor="end" stroke="#111" stroke-width=".35" textLength="10.8" lengthAdjust="spacingAndGlyphs">15</text>
<text x="42.3" y="948.6" font-size="9.6" font-weight="bold" text-anchor="end" stroke="#111" stroke-width=".35" textLength="10.8" lengthAdjust="spacingAndGlyphs">20</text>
<text x="42.6" y="1016.6" font-size="10.3" font-weight="bold" stroke="#111" stroke-width=".25" textLength="11.4" lengthAdjust="spacingAndGlyphs">10</text>
<text x="53.8" y="1016.2" font-size="6.9" font-weight="bold" stroke="#111" stroke-width=".2" textLength="3.7" lengthAdjust="spacingAndGlyphs">0</text>
<text x="65.7" y="1016.6" font-size="10.3" font-weight="bold" stroke="#111" stroke-width=".25" textLength="11.4" lengthAdjust="spacingAndGlyphs">10</text>
<text x="76.9" y="1016.2" font-size="6.9" font-weight="bold" stroke="#111" stroke-width=".2" textLength="3.7" lengthAdjust="spacingAndGlyphs">1</text>
<text x="88.8" y="1016.6" font-size="10.3" font-weight="bold" stroke="#111" stroke-width=".25" textLength="11.4" lengthAdjust="spacingAndGlyphs">10</text>
<text x="100" y="1016.2" font-size="6.9" font-weight="bold" stroke="#111" stroke-width=".2" textLength="3.7" lengthAdjust="spacingAndGlyphs">2</text>
<text x="111.9" y="1016.6" font-size="10.3" font-weight="bold" stroke="#111" stroke-width=".25" textLength="11.4" lengthAdjust="spacingAndGlyphs">10</text>
<text x="123.1" y="1016.2" font-size="6.9" font-weight="bold" stroke="#111" stroke-width=".2" textLength="3.7" lengthAdjust="spacingAndGlyphs">3</text>
<text x="135" y="1016.6" font-size="10.3" font-weight="bold" stroke="#111" stroke-width=".25" textLength="11.4" lengthAdjust="spacingAndGlyphs">10</text>
<text x="146.2" y="1016.2" font-size="6.9" font-weight="bold" stroke="#111" stroke-width=".2" textLength="3.7" lengthAdjust="spacingAndGlyphs">4</text>
<clipPath id="b402"><rect x="168.3" y="944.3" width="95.5" height="61.6"/></clipPath>
<path d="M168.3 998.8H169V996.8H169.7V995.5H170.4V993.7H171.1V991.4H171.8V987.8H172.5V986.1H173.2V982.1H173.9V980.6H174.6V977H175.3V979.1H176V975.7H176.7V969.5H177.4V967.9H178.1V969.9H178.8V970H179.5V966.3H180.2V965.5H180.9V966.9H181.6V966.5H182.3V970.2H183V975.6H183.7V972.9H184.4V978H185.1V978.4H185.8V987.7H186.5V990.9H187.2V990.2H187.9V993.7H188.6V998.5H189.3V1001.5H190V1002.1V1005.3H168.3Z" fill="#0a0a0a" clip-path="url(#b402)"/>
<path d="M189.8 1002.4H190.7V1002.3H191.6V1002.3H192.5V1002.5H193.4V1004.3H194.3V1002.6H195.2V1002.3H196.2V1002.8H197.1V1003H198V1002.6H198.9V1002.4H199.8V1002.7H200.7V1002.1H201.6V1002.2H202.5V1002.1H203.4V1004.3H204.3V1002.2H205.3V1004.3H206.2V1002.6H207.1V1002.4H208V1002.4H208.9V1004.3H209.8V1002.7H210.7V1002.9H211.6V1002.7H212.5V1002.5H213.4V1002.2H214.4V1002.6H215.3V1002.9H216.2V1002.3H217.1V1002H218V1002.8H218.9V1002.7H219.8V1002.6H220.7V1002H221.6V1002.2H222.5V1002.6H223.5V1002.3H224.4V1003H225.3V1002.8H226.2V1002.3H227.1V1002.2H228V1002.6H228.9V1002.1H229.8V1002.9H230.7V1002.5H231.6V1002.7H232.6V1002.1H233.5V1002.5H234.4V1002.6H235.3V1002.6H236.2V1002.4H237.1V1002.7H238V1002.2H238.9V1002.7H239.8V1002.3H240.7V1002.7H241.7V1002.7H242.6V1002.6H243.5V1002.5H244.4V1002.1V1005.3H189.8Z" fill="#111" clip-path="url(#b402)"/>
<path d="M176.7 973.8H177.4V973.1H178.2V971.6H179V969.2H179.7V967.5H180.5V968.7H181.3V962.7H182V962.1H182.8V962.9H183.6V960.1H184.4V961H185.1V961.4H185.9V964.9H186.7V967.7H187.4V970.7H188.2V974.6H189V979.1H189.7V982.1H190.5V984.1H191.3V986.1H192.1V990H192.8V987.9H193.6V991.8H194.4V991.2H195.1V992.5H195.9V994.8H196.7V994.1H197.4V995.2H198.2V996.4H199V997.7H199.8V997.7H200.5V998.1H201.3V998.5H202.1V999.9H202.8V999.9H203.6V1000H204.4V1000.5H205.1V1000.7H205.9V1001.4H206.7V1000.5H207.5V1001.1H208.2V1000.2H209V1001.5H209.8V1001H210.5V1000.1H211.3V1000.3H212.1V1000.1H212.8V1000.5H213.6V1001.3H214.4V1001.6H215.2V1001.5H215.9V1002.4H216.7V1002.5H217.5V1003.2H218.2V1002.9H219V1003.6H219.8V1003.7H220.5V1002.4H221.3V1003.1H222.1V1002.2H222.9V1002.5H223.6V1003H224.4V1002.7H225.2V1003H225.9V1003.8H226.7V1003.7H227.5V1002.3H228.2V1002.7H229V1003.3H229.8V1002.5H230.6V1003.6H231.3V1002.9H232.1V1003.7H232.9V1002.9H233.6V1003.3H234.4V1002.9H235.2V1002.9H235.9V1003.6H236.7V1003.2H237.5V1003.9H238.3V1003.3H239V1003.4H239.8V1003H240.6V1003.1H241.3V1002.6H242.1V1002.5H242.9V1003.3H243.6V1002.7H244.4V1002.8H245.2V1003H246V1004.5H246.7V1004.7H247.5V1004.7H248.3V1004.7H249V1004.7H249.8V1004.7H250.6V1004.7H251.3V1004.7H252.1V1004.7H252.9V1004.7H253.7V1004.7H254.4V1004.7H255.2V1004.7H256V1004.7H256.7V1004.7H257.5V1004.7H258.3V1004.7H259V1004.7H259.8V1004.7H260.6V1004.7H261.4V1004.7H262.1V1004.7H262.9V1004.7H263.7V1004.7" fill="none" stroke="#111" stroke-width="1.3" clip-path="url(#b402)"/>
<rect x="168.3" y="945.3" width="95.5" height="60" fill="none" stroke="#111" stroke-width="1.25"/>
<path d="M168.3 1005.3h-2.6M168.3 1002.3h-1.4M168.3 999.3h-1.4M168.3 996.3h-1.4M168.3 993.3h-1.4M168.3 990.3h-2.6M168.3 987.3h-1.4M168.3 984.3h-1.4M168.3 981.3h-1.4M168.3 978.3h-1.4M168.3 975.3h-2.6M168.3 972.3h-1.4M168.3 969.3h-1.4M168.3 966.3h-1.4M168.3 963.3h-1.4M168.3 960.3h-2.6M168.3 957.3h-1.4M168.3 954.3h-1.4M168.3 951.3h-1.4M168.3 948.3h-1.4M168.3 945.3h-2.6M168.3 1005.3v1.8M192.2 1005.3v1.8M216.1 1005.3v1.8M239.9 1005.3v1.8M263.8 1005.3v1.8" stroke="#111" stroke-width="1" fill="none"/>
<text x="163.8" y="1009.1" font-size="9.6" font-weight="bold" text-anchor="end" stroke="#111" stroke-width=".35" textLength="5.4" lengthAdjust="spacingAndGlyphs">0</text>
<text x="163.8" y="994.1" font-size="9.6" font-weight="bold" text-anchor="end" stroke="#111" stroke-width=".35" textLength="5.4" lengthAdjust="spacingAndGlyphs">5</text>
<text x="163.8" y="979.1" font-size="9.6" font-weight="bold" text-anchor="end" stroke="#111" stroke-width=".35" textLength="10.8" lengthAdjust="spacingAndGlyphs">10</text>
<text x="163.8" y="964.1" font-size="9.6" font-weight="bold" text-anchor="end" stroke="#111" stroke-width=".35" textLength="10.8" lengthAdjust="spacingAndGlyphs">15</text>
<text x="163.8" y="949.1" font-size="9.6" font-weight="bold" text-anchor="end" stroke="#111" stroke-width=".35" textLength="10.8" lengthAdjust="spacingAndGlyphs">20</text>
<text x="163.6" y="1017.1" font-size="10.3" font-weight="bold" stroke="#111" stroke-width=".25" textLength="11.4" lengthAdjust="spacingAndGlyphs">10</text>
<text x="174.8" y="1016.7" font-size="6.9" font-weight="bold" stroke="#111" stroke-width=".2" textLength="3.7" lengthAdjust="spacingAndGlyphs">0</text>
<text x="186.8" y="1017.1" font-size="10.3" font-weight="bold" stroke="#111" stroke-width=".25" textLength="11.4" lengthAdjust="spacingAndGlyphs">10</text>
<text x="198" y="1016.7" font-size="6.9" font-weight="bold" stroke="#111" stroke-width=".2" textLength="3.7" lengthAdjust="spacingAndGlyphs">1</text>
<text x="210" y="1017.1" font-size="10.3" font-weight="bold" stroke="#111" stroke-width=".25" textLength="11.4" lengthAdjust="spacingAndGlyphs">10</text>
<text x="221.2" y="1016.7" font-size="6.9" font-weight="bold" stroke="#111" stroke-width=".2" textLength="3.7" lengthAdjust="spacingAndGlyphs">2</text>
<text x="233.1" y="1017.1" font-size="10.3" font-weight="bold" stroke="#111" stroke-width=".25" textLength="11.4" lengthAdjust="spacingAndGlyphs">10</text>
<text x="244.3" y="1016.7" font-size="6.9" font-weight="bold" stroke="#111" stroke-width=".2" textLength="3.7" lengthAdjust="spacingAndGlyphs">3</text>
<text x="256.3" y="1017.1" font-size="10.3" font-weight="bold" stroke="#111" stroke-width=".25" textLength="11.4" lengthAdjust="spacingAndGlyphs">10</text>
<text x="267.5" y="1016.7" font-size="6.9" font-weight="bold" stroke="#111" stroke-width=".2" textLength="3.7" lengthAdjust="spacingAndGlyphs">4</text>
<clipPath id="b403"><rect x="292.5" y="944.3" width="94.5" height="61.1"/></clipPath>
<path d="M292.5 999.3H293.2V995.4H293.9V993.5H294.6V992.4H295.3V988.6H296V985.2H296.7V983.7H297.4V977.1H298.1V973.3H298.8V977H299.5V967H300.2V966H300.9V964.9H301.6V962.9H302.3V960.9H303V969.6H303.7V962.1H304.4V968H305.1V966.3H305.8V964H306.5V971.1H307.2V965.9H307.9V969.3H308.6V977.1H309.3V982.1H310V986.2H310.7V993.5H311.4V995.6H312.1V996.9H312.8V1000.2H313.5V1000.8H314.2V1000H314.9V1001.5H315.6V1002.2H316.3V1002.7H317V1003.1H317.7V1002.8H318.4V1002.6H319.1V1003V1004.8H292.5Z" fill="#0a0a0a" clip-path="url(#b403)"/>
<path d="M292.5 1002.9H293.4V1002.2H294.3V1002.2H295.2V1002.4H296.1V1002.5H297.1V1002.7H298V1002.2H298.9V1002.8H299.8V1002.9H300.7V1002.2H301.6V1002.2H302.5V1002.7H303.4V1002.7H304.3V1002.4H305.2V1002.6H306.1V1002.5H307.1V1002.6H308V1002.7H308.9V1002.6H309.8V1002.4H310.7V1002.8H311.6V1002.9H312.5V1002.6H313.4V1002.6H314.3V1002.4H315.2V1002.3H316.2V1002.2H317.1V1002.6H318V1002.3H318.9V1002.9H319.8V1004H320.7V1002.4V1004.8H292.5Z" fill="#111" clip-path="url(#b403)"/>
<path d="M312.6 996.7H313.4V992.3H314.1V989.8H314.9V987.3H315.7V984.8H316.4V978.2H317.2V974.6H318V970.7H318.7V968.2H319.5V968.7H320.3V962.9H321.1V961.6H321.8V965.2H322.6V967.8H323.4V967.7H324.1V969.8H324.9V975.3H325.7V977.5H326.4V979.6H327.2V984.9H328V988.4H328.8V992.1H329.5V993.2H330.3V996.3H331.1V997.3H331.8V999.6H332.6V1001.2H333.4V1001.5H334.1V1002.3H334.9V1003H335.7V1003.3H336.5V1003.3H337.2V1003.5H338V1003.6H338.8V1003.6H339.5V1003.3H340.3V1003.7H341.1V1004.1H341.8V1003.3H342.6V1003H343.4V1003.8H344.2V1003.9H344.9V1004.1H345.7V1004.2H346.5V1003.4H347.2V1004H348V1003.2H348.8V1003.2H349.5V1004.4H350.3V1003.4H351.1V1004.4H351.9V1003.8H352.6V1003.2H353.4V1003.5H354.2V1003.9H354.9V1003.3H355.7V1004.5H356.5V1004.4H357.2V1004.5H358V1003.4H358.8V1004.1H359.6V1004.1H360.3V1003.7H361.1V1004.4H361.9V1004H362.6V1003.2H363.4V1003.5H364.2V1004.5H364.9V1003.8H365.7V1004.3H366.5V1004.1H367.3V1004.6H368V1004.6H368.8V1003.4H369.6V1004H370.3V1004.2H371.1V1004.6H371.9V1003.9H372.6V1004.1H373.4V1004.5H374.2V1004H375V1004.2H375.7V1003.7H376.5V1004.1H377.3V1004.1H378V1004.1H378.8V1004.1H379.6V1004.1H380.3V1004.1H381.1V1004.2H381.9V1004.1H382.7V1004.2H383.4V1004.2H384.2V1004.2H385V1004.1H385.7V1004.1H386.5V1004.2" fill="none" stroke="#111" stroke-width="1.3" clip-path="url(#b403)"/>
<rect x="292.5" y="945.3" width="94.5" height="59.5" fill="none" stroke="#111" stroke-width="1.25"/>
<path d="M292.5 1004.8h-2.6M292.5 1001.8h-1.4M292.5 998.8h-1.4M292.5 995.9h-1.4M292.5 992.9h-1.4M292.5 989.9h-2.6M292.5 986.9h-1.4M292.5 984h-1.4M292.5 981h-1.4M292.5 978h-1.4M292.5 975h-2.6M292.5 972.1h-1.4M292.5 969.1h-1.4M292.5 966.1h-1.4M292.5 963.1h-1.4M292.5 960.2h-2.6M292.5 957.2h-1.4M292.5 954.2h-1.4M292.5 951.2h-1.4M292.5 948.3h-1.4M292.5 945.3h-2.6M292.5 1004.8v1.8M316.1 1004.8v1.8M339.8 1004.8v1.8M363.4 1004.8v1.8M387 1004.8v1.8" stroke="#111" stroke-width="1" fill="none"/>
<text x="288" y="1008.6" font-size="9.6" font-weight="bold" text-anchor="end" stroke="#111" stroke-width=".35" textLength="5.4" lengthAdjust="spacingAndGlyphs">0</text>
<text x="288" y="993.7" font-size="9.6" font-weight="bold" text-anchor="end" stroke="#111" stroke-width=".35" textLength="5.4" lengthAdjust="spacingAndGlyphs">5</text>
<text x="288" y="978.8" font-size="9.6" font-weight="bold" text-anchor="end" stroke="#111" stroke-width=".35" textLength="10.8" lengthAdjust="spacingAndGlyphs">10</text>
<text x="288" y="964" font-size="9.6" font-weight="bold" text-anchor="end" stroke="#111" stroke-width=".35" textLength="10.8" lengthAdjust="spacingAndGlyphs">15</text>
<text x="288" y="949.1" font-size="9.6" font-weight="bold" text-anchor="end" stroke="#111" stroke-width=".35" textLength="10.8" lengthAdjust="spacingAndGlyphs">20</text>
<text x="288.3" y="1016.6" font-size="10.3" font-weight="bold" stroke="#111" stroke-width=".25" textLength="11.4" lengthAdjust="spacingAndGlyphs">10</text>
<text x="299.5" y="1016.2" font-size="6.9" font-weight="bold" stroke="#111" stroke-width=".2" textLength="3.7" lengthAdjust="spacingAndGlyphs">0</text>
<text x="311.3" y="1016.6" font-size="10.3" font-weight="bold" stroke="#111" stroke-width=".25" textLength="11.4" lengthAdjust="spacingAndGlyphs">10</text>
<text x="322.5" y="1016.2" font-size="6.9" font-weight="bold" stroke="#111" stroke-width=".2" textLength="3.7" lengthAdjust="spacingAndGlyphs">1</text>
<text x="334.2" y="1016.6" font-size="10.3" font-weight="bold" stroke="#111" stroke-width=".25" textLength="11.4" lengthAdjust="spacingAndGlyphs">10</text>
<text x="345.4" y="1016.2" font-size="6.9" font-weight="bold" stroke="#111" stroke-width=".2" textLength="3.7" lengthAdjust="spacingAndGlyphs">2</text>
<text x="357.1" y="1016.6" font-size="10.3" font-weight="bold" stroke="#111" stroke-width=".25" textLength="11.4" lengthAdjust="spacingAndGlyphs">10</text>
<text x="368.3" y="1016.2" font-size="6.9" font-weight="bold" stroke="#111" stroke-width=".2" textLength="3.7" lengthAdjust="spacingAndGlyphs">3</text>
<text x="380" y="1016.6" font-size="10.3" font-weight="bold" stroke="#111" stroke-width=".25" textLength="11.4" lengthAdjust="spacingAndGlyphs">10</text>
<text x="391.2" y="1016.2" font-size="6.9" font-weight="bold" stroke="#111" stroke-width=".2" textLength="3.7" lengthAdjust="spacingAndGlyphs">4</text>
<clipPath id="b404"><rect x="414.3" y="944.5" width="95.5" height="61.7"/></clipPath>
<path d="M414.3 999.6H415V998.4H415.7V994.1H416.4V992.9H417.1V986.8H417.8V985.7H418.5V984.2H419.2V978.8H419.9V979.3H420.6V977.1H421.3V974.4H422V969.6H422.7V968.8H423.4V973.1H424.1V962.6H424.8V966.2H425.5V964.5H426.2V962.9H426.9V967.3H427.6V966.7H428.3V968.5H429V963H429.7V971.2H430.4V971H431.1V979.5H431.8V982.8H432.5V984.7H433.2V988.5H433.9V991.5H434.6V995.5H435.3V998.3H436V998.4H436.7V999.3H437.4V1001.8H438.1V999.8H438.8V1002H439.5V1000.4H440.2V1002.2H440.9V1002.4H441.6V1002.9H442.3V1003.1H443V1003.2H443.7V1003.3V1005.6H414.3Z" fill="#0a0a0a" clip-path="url(#b404)"/>
<path d="M414.3 1003.1H415.2V1003.1H416.1V1003.1H417V1003.1H417.9V1002.7H418.9V1003.1H419.8V1002.6H420.7V1003.2H421.6V1003.2H422.5V1003.2H423.4V1003.2H424.3V1003.4H425.2V1002.9H426.1V1004.7H427V1002.9H427.9V1003H428.9V1003H429.8V1004.7H430.7V1003.3H431.6V1003.2H432.5V1003.1H433.4V1003.3H434.3V1003.6H435.2V1003.5H436.1V1003.3H437.1V1002.8H438V1003.5H438.9V1002.6H439.8V1002.7H440.7V1003.3H441.6V1003H442.5V1003.2H443.4V1002.6H444.3V1003.1H445.2V1003.2V1005.6H414.3Z" fill="#111" clip-path="url(#b404)"/>
<path d="M466.8 1003.7H467.7V1003.7H468.6V1004.1H469.6V1003.8H470.5V1003.6H471.4V1003.8H472.3V1004.1H473.2V1004H474.1V1003.5H475V1004.1H475.9V1003.8H476.8V1004.1H477.7V1003.8H478.7V1004H479.6V1003.8H480.5V1004H481.4V1003.5H482.3V1005H483.2V1003.7H484.1V1003.7H485V1003.8H485.9V1003.7H486.8V1003.8H487.8V1003.7H488.7V1003.6H489.6V1004H490.5V1003.8H491.4V1003.6H492.3V1004.1H493.2V1003.7H494.1V1003.7H495V1003.7V1005.6H466.8Z" fill="#111" clip-path="url(#b404)"/>
<path d="M442.9 1002.2H443.7V1001H444.5V1000.6H445.3V999.1H446V997.7H446.8V995.9H447.6V996.1H448.3V994H449.1V990.5H449.9V989.8H450.7V987.7H451.4V983.7H452.2V984H453V980.8H453.7V980.3H454.5V976.7H455.3V976.7H456V978.6H456.8V981.1H457.6V983.5H458.4V983.8H459.1V986.8H459.9V987.5H460.7V990.2H461.4V992.9H462.2V993.5H463V996.2H463.7V997.6H464.5V999H465.3V999.7H466.1V1000.9H466.8V1002H467.6V1003H468.4V1002.1H469.1V1003.1H469.9V1003.6H470.7V1003.7H471.4V1002.8H472.2V1002.9H473V1003H473.8V1003.1H474.5V1003.5H475.3V1003.3H476.1V1003.2H476.8V1003.1H477.6V1003.7H478.4V1003.3H479.1V1003.2H479.9V1003.2H480.7V1002.7H481.4V1003H482.2V1003.8H483V1002.4H483.8V1003.8H484.5V1003.5H485.3V1003.3H486.1V1002.7H486.8V1003.7H487.6V1003.8H488.4V1003.6H489.1V1003.1H489.9V1002.7H490.7V1003.5H491.5V1003.1H492.2V1002.7H493V1002.8H493.8V1003.8H494.5V1003.5H495.3V1003.1H496.1V1004.1H496.8V1004.7H497.6V1004.9H498.4V1005H499.2V1005H499.9V1005H500.7V1004.9H501.5V1005H502.2V1005H503V1005H503.8V1005H504.5V1005H505.3V1005H506.1V1005H506.9V1005H507.6V1004H508.4V1003.1H509.2V1004.1" fill="none" stroke="#111" stroke-width="1.3" clip-path="url(#b404)"/>
<rect x="414.3" y="945.5" width="95.5" height="60.1" fill="none" stroke="#111" stroke-width="1.25"/>
<path d="M414.3 1005.6h-2.6M414.3 1002.6h-1.4M414.3 999.6h-1.4M414.3 996.6h-1.4M414.3 993.6h-1.4M414.3 990.6h-2.6M414.3 987.6h-1.4M414.3 984.6h-1.4M414.3 981.6h-1.4M414.3 978.6h-1.4M414.3 975.5h-2.6M414.3 972.5h-1.4M414.3 969.5h-1.4M414.3 966.5h-1.4M414.3 963.5h-1.4M414.3 960.5h-2.6M414.3 957.5h-1.4M414.3 954.5h-1.4M414.3 951.5h-1.4M414.3 948.5h-1.4M414.3 945.5h-2.6M414.3 1005.6v1.8M438.2 1005.6v1.8M462.1 1005.6v1.8M485.9 1005.6v1.8M509.8 1005.6v1.8" stroke="#111" stroke-width="1" fill="none"/>
<text x="409.8" y="1009.4" font-size="9.6" font-weight="bold" text-anchor="end" stroke="#111" stroke-width=".35" textLength="5.4" lengthAdjust="spacingAndGlyphs">0</text>
<text x="409.8" y="994.4" font-size="9.6" font-weight="bold" text-anchor="end" stroke="#111" stroke-width=".35" textLength="5.4" lengthAdjust="spacingAndGlyphs">5</text>
<text x="409.8" y="979.3" font-size="9.6" font-weight="bold" text-anchor="end" stroke="#111" stroke-width=".35" textLength="10.8" lengthAdjust="spacingAndGlyphs">10</text>
<text x="409.8" y="964.3" font-size="9.6" font-weight="bold" text-anchor="end" stroke="#111" stroke-width=".35" textLength="10.8" lengthAdjust="spacingAndGlyphs">15</text>
<text x="409.8" y="949.3" font-size="9.6" font-weight="bold" text-anchor="end" stroke="#111" stroke-width=".35" textLength="10.8" lengthAdjust="spacingAndGlyphs">20</text>
<text x="411" y="1017.4" font-size="10.3" font-weight="bold" stroke="#111" stroke-width=".25" textLength="11.4" lengthAdjust="spacingAndGlyphs">10</text>
<text x="422.2" y="1017" font-size="6.9" font-weight="bold" stroke="#111" stroke-width=".2" textLength="3.7" lengthAdjust="spacingAndGlyphs">0</text>
<text x="434.2" y="1017.4" font-size="10.3" font-weight="bold" stroke="#111" stroke-width=".25" textLength="11.4" lengthAdjust="spacingAndGlyphs">10</text>
<text x="445.4" y="1017" font-size="6.9" font-weight="bold" stroke="#111" stroke-width=".2" textLength="3.7" lengthAdjust="spacingAndGlyphs">1</text>
<text x="457.3" y="1017.4" font-size="10.3" font-weight="bold" stroke="#111" stroke-width=".25" textLength="11.4" lengthAdjust="spacingAndGlyphs">10</text>
<text x="468.5" y="1017" font-size="6.9" font-weight="bold" stroke="#111" stroke-width=".2" textLength="3.7" lengthAdjust="spacingAndGlyphs">2</text>
<text x="480.5" y="1017.4" font-size="10.3" font-weight="bold" stroke="#111" stroke-width=".25" textLength="11.4" lengthAdjust="spacingAndGlyphs">10</text>
<text x="491.7" y="1017" font-size="6.9" font-weight="bold" stroke="#111" stroke-width=".2" textLength="3.7" lengthAdjust="spacingAndGlyphs">3</text>
<text x="503.7" y="1017.4" font-size="10.3" font-weight="bold" stroke="#111" stroke-width=".25" textLength="11.4" lengthAdjust="spacingAndGlyphs">10</text>
<text x="514.9" y="1017" font-size="6.9" font-weight="bold" stroke="#111" stroke-width=".2" textLength="3.7" lengthAdjust="spacingAndGlyphs">4</text>
<text x="91.9" y="614" font-size="14" text-anchor="middle" font-weight="bold" textLength="18.7" lengthAdjust="spacingAndGlyphs" stroke="#111" stroke-width=".35">flt3</text>
<text x="212.9" y="613.3" font-size="13.7" text-anchor="middle" font-weight="bold" textLength="29.2" lengthAdjust="spacingAndGlyphs">c-kit</text>
<text x="337.3" y="613.3" font-size="13.7" text-anchor="middle" font-weight="bold" textLength="29.6" lengthAdjust="spacingAndGlyphs">IL-6R</text>
<text x="437.9" y="613.3" font-size="13.7" font-weight="bold" textLength="39.6" lengthAdjust="spacingAndGlyphs">IL-3R<tspan font-weight="normal" font-size="14.5">α</tspan></text>
<text x="19" y="661.2" font-size="14.2" text-anchor="middle" font-weight="normal" textLength="10.4" lengthAdjust="spacingAndGlyphs" stroke="#111" stroke-width=".55">C</text>
<text x="18.3" y="767" font-size="13.4" text-anchor="middle" font-weight="bold" textLength="11.5" lengthAdjust="spacingAndGlyphs" stroke="#111" stroke-width=".5">FL</text>
<text x="17.5" y="875.9" font-size="13" text-anchor="middle" font-weight="bold" textLength="13" lengthAdjust="spacingAndGlyphs" stroke="#111" stroke-width=".3">KL</text>
<text x="13.2" y="980.2" font-size="14" text-anchor="middle" font-weight="bold" textLength="22.1" lengthAdjust="spacingAndGlyphs" stroke="#111" stroke-width=".25">IL-3</text>
</svg>
</body></html>
